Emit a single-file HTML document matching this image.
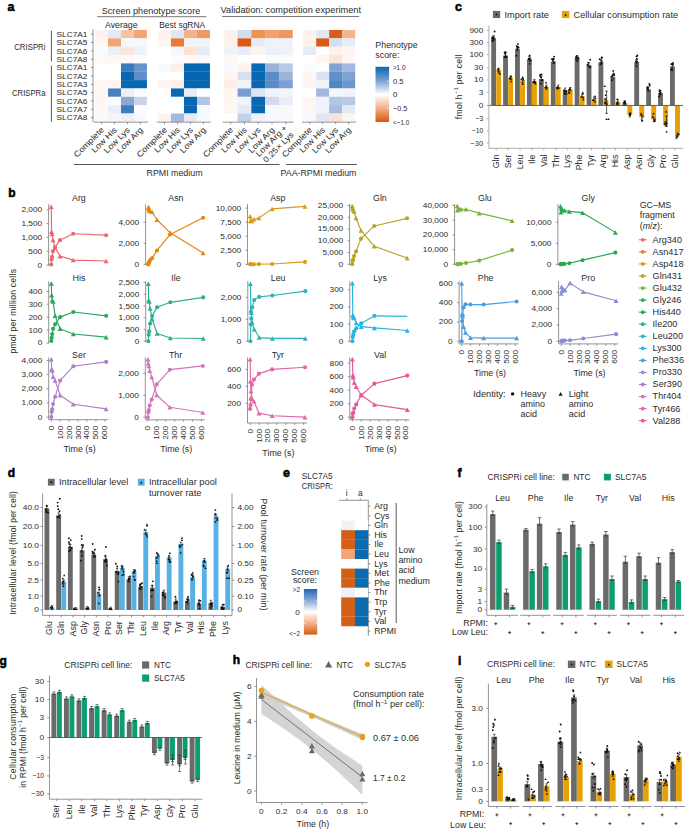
<!DOCTYPE html>
<html><head><meta charset="utf-8"><style>
html,body{margin:0;padding:0;background:#fff;}
svg{display:block;font-family:"Liberation Sans", sans-serif;}
</style></head><body>
<svg width="685" height="830" viewBox="0 0 685 830" font-family='"Liberation Sans", sans-serif' fill="#2b2b2b">
<rect x="0" y="0" width="685" height="830" fill="#fff"/>
<text x="7.60" y="10.60" font-size="12.5" font-weight="bold" fill="#000" style="stroke:#000;stroke-width:0.55px">a</text>
<text x="151.00" y="13.70" font-size="8.6" text-anchor="middle" textLength="98.50" lengthAdjust="spacingAndGlyphs">Screen phenotype score</text>
<line x1="97.30" y1="16.70" x2="206.40" y2="16.70" stroke="#555" stroke-width="0.8" />
<text x="290.80" y="13.30" font-size="8.6" text-anchor="middle" textLength="140.50" lengthAdjust="spacingAndGlyphs">Validation: competition experiment</text>
<line x1="222.20" y1="16.50" x2="359.10" y2="16.50" stroke="#555" stroke-width="0.8" />
<text x="121.30" y="28.10" font-size="8.6" text-anchor="middle" textLength="32.50" lengthAdjust="spacingAndGlyphs">Average</text>
<text x="182.20" y="28.10" font-size="8.6" text-anchor="middle" textLength="46.00" lengthAdjust="spacingAndGlyphs">Best sgRNA</text>
<rect x="95.10" y="30.00" width="13.00" height="8.40" fill="#fdf3ee" />
<rect x="108.05" y="30.00" width="13.00" height="8.40" fill="#e3e9f5" />
<rect x="121.00" y="30.00" width="13.00" height="8.40" fill="#f8c4a4" />
<rect x="133.95" y="30.00" width="13.00" height="8.40" fill="#f2a678" />
<rect x="95.10" y="38.35" width="13.00" height="8.40" fill="#fdf6f1" />
<rect x="108.05" y="38.35" width="13.00" height="8.40" fill="#f1a676" />
<rect x="121.00" y="38.35" width="13.00" height="8.40" fill="#f6f8fc" />
<rect x="133.95" y="38.35" width="13.00" height="8.40" fill="#f6f8fc" />
<rect x="95.10" y="46.70" width="13.00" height="8.40" fill="#fafbfd" />
<rect x="108.05" y="46.70" width="13.00" height="8.40" fill="#eaeff8" />
<rect x="121.00" y="46.70" width="13.00" height="8.40" fill="#fce6db" />
<rect x="133.95" y="46.70" width="13.00" height="8.40" fill="#eef2f9" />
<rect x="95.10" y="55.05" width="13.00" height="8.40" fill="#fdf9f7" />
<rect x="108.05" y="55.05" width="13.00" height="8.40" fill="#fdf8f5" />
<rect x="121.00" y="55.05" width="13.00" height="8.40" fill="#fdfaf8" />
<rect x="133.95" y="55.05" width="13.00" height="8.40" fill="#fdfcfc" />
<rect x="95.10" y="63.40" width="13.00" height="8.40" fill="#ffffff" />
<rect x="108.05" y="63.40" width="13.00" height="8.40" fill="#ffffff" />
<rect x="121.00" y="63.40" width="13.00" height="8.40" fill="#3a7bbf" />
<rect x="133.95" y="63.40" width="13.00" height="8.40" fill="#6693cc" />
<rect x="95.10" y="71.75" width="13.00" height="8.40" fill="#ffffff" />
<rect x="108.05" y="71.75" width="13.00" height="8.40" fill="#ffffff" />
<rect x="121.00" y="71.75" width="13.00" height="8.40" fill="#0a68b2" />
<rect x="133.95" y="71.75" width="13.00" height="8.40" fill="#5e8fca" />
<rect x="95.10" y="80.10" width="13.00" height="8.40" fill="#fdf8f5" />
<rect x="108.05" y="80.10" width="13.00" height="8.40" fill="#fdf6f1" />
<rect x="121.00" y="80.10" width="13.00" height="8.40" fill="#0868b1" />
<rect x="133.95" y="80.10" width="13.00" height="8.40" fill="#0868b1" />
<rect x="95.10" y="88.45" width="13.00" height="8.40" fill="#fdf6f2" />
<rect x="108.05" y="88.45" width="13.00" height="8.40" fill="#4a80c2" />
<rect x="121.00" y="88.45" width="13.00" height="8.40" fill="#eef0f7" />
<rect x="133.95" y="88.45" width="13.00" height="8.40" fill="#fcfcfe" />
<rect x="95.10" y="96.80" width="13.00" height="8.40" fill="#fdf6f2" />
<rect x="108.05" y="96.80" width="13.00" height="8.40" fill="#fafbfd" />
<rect x="121.00" y="96.80" width="13.00" height="8.40" fill="#8aaad6" />
<rect x="133.95" y="96.80" width="13.00" height="8.40" fill="#c8d4ea" />
<rect x="95.10" y="105.15" width="13.00" height="8.40" fill="#fdf8f5" />
<rect x="108.05" y="105.15" width="13.00" height="8.40" fill="#e9eef8" />
<rect x="121.00" y="105.15" width="13.00" height="8.40" fill="#3f7cbf" />
<rect x="133.95" y="105.15" width="13.00" height="8.40" fill="#fcfcfe" />
<rect x="95.10" y="113.50" width="13.00" height="8.40" fill="#fdf9f7" />
<rect x="108.05" y="113.50" width="13.00" height="8.40" fill="#f3f5fb" />
<rect x="121.00" y="113.50" width="13.00" height="8.40" fill="#eff2f9" />
<rect x="133.95" y="113.50" width="13.00" height="8.40" fill="#f8f9fc" />
<line x1="93.90" y1="122.15" x2="147.90" y2="122.15" stroke="#707070" stroke-width="0.75" />
<line x1="101.57" y1="122.15" x2="101.57" y2="124.15" stroke="#707070" stroke-width="0.75" />
<text font-size="8.2" text-anchor="end" textLength="38.96" lengthAdjust="spacingAndGlyphs" transform="translate(104.57,130.45) rotate(-45)">Complete</text>
<line x1="114.52" y1="122.15" x2="114.52" y2="124.15" stroke="#707070" stroke-width="0.75" />
<text font-size="8.2" text-anchor="end" textLength="32.37" lengthAdjust="spacingAndGlyphs" transform="translate(117.52,130.45) rotate(-45)">Low His</text>
<line x1="127.47" y1="122.15" x2="127.47" y2="124.15" stroke="#707070" stroke-width="0.75" />
<text font-size="8.2" text-anchor="end" textLength="33.05" lengthAdjust="spacingAndGlyphs" transform="translate(130.47,130.45) rotate(-45)">Low Lys</text>
<line x1="140.42" y1="122.15" x2="140.42" y2="124.15" stroke="#707070" stroke-width="0.75" />
<text font-size="8.2" text-anchor="end" textLength="32.89" lengthAdjust="spacingAndGlyphs" transform="translate(143.42,130.45) rotate(-45)">Low Arg</text>
<rect x="158.00" y="30.00" width="13.03" height="8.40" fill="#fdf3ee" />
<rect x="170.98" y="30.00" width="13.03" height="8.40" fill="#e0e6f3" />
<rect x="183.96" y="30.00" width="13.03" height="8.40" fill="#f5b28a" />
<rect x="196.94" y="30.00" width="13.03" height="8.40" fill="#f09a63" />
<rect x="158.00" y="38.35" width="13.03" height="8.40" fill="#fdf5f0" />
<rect x="170.98" y="38.35" width="13.03" height="8.40" fill="#e67a36" />
<rect x="183.96" y="38.35" width="13.03" height="8.40" fill="#f3f5fb" />
<rect x="196.94" y="38.35" width="13.03" height="8.40" fill="#f3f5fb" />
<rect x="158.00" y="46.70" width="13.03" height="8.40" fill="#ffffff" />
<rect x="170.98" y="46.70" width="13.03" height="8.40" fill="#f5f7fb" />
<rect x="183.96" y="46.70" width="13.03" height="8.40" fill="#fbe3d5" />
<rect x="196.94" y="46.70" width="13.03" height="8.40" fill="#e6ecf6" />
<rect x="158.00" y="55.05" width="13.03" height="8.40" fill="#ffffff" />
<rect x="170.98" y="55.05" width="13.03" height="8.40" fill="#fcfcfe" />
<rect x="183.96" y="55.05" width="13.03" height="8.40" fill="#fdfaf8" />
<rect x="196.94" y="55.05" width="13.03" height="8.40" fill="#f6f8fc" />
<rect x="158.00" y="63.40" width="13.03" height="8.40" fill="#f6f8fc" />
<rect x="170.98" y="63.40" width="13.03" height="8.40" fill="#fcefe8" />
<rect x="183.96" y="63.40" width="13.03" height="8.40" fill="#0667b0" />
<rect x="196.94" y="63.40" width="13.03" height="8.40" fill="#0667b0" />
<rect x="158.00" y="71.75" width="13.03" height="8.40" fill="#ffffff" />
<rect x="170.98" y="71.75" width="13.03" height="8.40" fill="#ffffff" />
<rect x="183.96" y="71.75" width="13.03" height="8.40" fill="#0667b0" />
<rect x="196.94" y="71.75" width="13.03" height="8.40" fill="#0667b0" />
<rect x="158.00" y="80.10" width="13.03" height="8.40" fill="#fdf4ef" />
<rect x="170.98" y="80.10" width="13.03" height="8.40" fill="#fcf0e8" />
<rect x="183.96" y="80.10" width="13.03" height="8.40" fill="#0667b0" />
<rect x="196.94" y="80.10" width="13.03" height="8.40" fill="#0667b0" />
<rect x="158.00" y="88.45" width="13.03" height="8.40" fill="#ffffff" />
<rect x="170.98" y="88.45" width="13.03" height="8.40" fill="#0868b1" />
<rect x="183.96" y="88.45" width="13.03" height="8.40" fill="#e8ecf6" />
<rect x="196.94" y="88.45" width="13.03" height="8.40" fill="#ffffff" />
<rect x="158.00" y="96.80" width="13.03" height="8.40" fill="#ffffff" />
<rect x="170.98" y="96.80" width="13.03" height="8.40" fill="#ffffff" />
<rect x="183.96" y="96.80" width="13.03" height="8.40" fill="#0667b0" />
<rect x="196.94" y="96.80" width="13.03" height="8.40" fill="#b2c6e4" />
<rect x="158.00" y="105.15" width="13.03" height="8.40" fill="#ffffff" />
<rect x="170.98" y="105.15" width="13.03" height="8.40" fill="#ffffff" />
<rect x="183.96" y="105.15" width="13.03" height="8.40" fill="#0667b0" />
<rect x="196.94" y="105.15" width="13.03" height="8.40" fill="#f8f9fc" />
<rect x="158.00" y="113.50" width="13.03" height="8.40" fill="#fdf3ee" />
<rect x="170.98" y="113.50" width="13.03" height="8.40" fill="#a2b8de" />
<rect x="183.96" y="113.50" width="13.03" height="8.40" fill="#e6ebf6" />
<rect x="196.94" y="113.50" width="13.03" height="8.40" fill="#f8f9fc" />
<line x1="156.80" y1="122.15" x2="210.92" y2="122.15" stroke="#707070" stroke-width="0.75" />
<line x1="164.49" y1="122.15" x2="164.49" y2="124.15" stroke="#707070" stroke-width="0.75" />
<text font-size="8.2" text-anchor="end" textLength="38.96" lengthAdjust="spacingAndGlyphs" transform="translate(167.49,130.45) rotate(-45)">Complete</text>
<line x1="177.47" y1="122.15" x2="177.47" y2="124.15" stroke="#707070" stroke-width="0.75" />
<text font-size="8.2" text-anchor="end" textLength="32.37" lengthAdjust="spacingAndGlyphs" transform="translate(180.47,130.45) rotate(-45)">Low His</text>
<line x1="190.45" y1="122.15" x2="190.45" y2="124.15" stroke="#707070" stroke-width="0.75" />
<text font-size="8.2" text-anchor="end" textLength="33.05" lengthAdjust="spacingAndGlyphs" transform="translate(193.45,130.45) rotate(-45)">Low Lys</text>
<line x1="203.43" y1="122.15" x2="203.43" y2="124.15" stroke="#707070" stroke-width="0.75" />
<text font-size="8.2" text-anchor="end" textLength="32.89" lengthAdjust="spacingAndGlyphs" transform="translate(206.43,130.45) rotate(-45)">Low Arg</text>
<rect x="223.80" y="30.00" width="13.83" height="8.40" fill="#fdf1ea" />
<rect x="237.58" y="30.00" width="13.83" height="8.40" fill="#d0dcef" />
<rect x="251.36" y="30.00" width="13.83" height="8.40" fill="#ef9150" />
<rect x="265.14" y="30.00" width="13.83" height="8.40" fill="#f1a270" />
<rect x="278.92" y="30.00" width="13.83" height="8.40" fill="#f09560" />
<rect x="223.80" y="38.35" width="13.83" height="8.40" fill="#fdf1ea" />
<rect x="237.58" y="38.35" width="13.83" height="8.40" fill="#d95a17" />
<rect x="251.36" y="38.35" width="13.83" height="8.40" fill="#e6ecf6" />
<rect x="265.14" y="38.35" width="13.83" height="8.40" fill="#eef2f9" />
<rect x="278.92" y="38.35" width="13.83" height="8.40" fill="#eef2f9" />
<rect x="223.80" y="46.70" width="13.83" height="8.40" fill="#f0f4fa" />
<rect x="237.58" y="46.70" width="13.83" height="8.40" fill="#e8eef8" />
<rect x="251.36" y="46.70" width="13.83" height="8.40" fill="#fef5f0" />
<rect x="265.14" y="46.70" width="13.83" height="8.40" fill="#ecf0f8" />
<rect x="278.92" y="46.70" width="13.83" height="8.40" fill="#eef2f9" />
<rect x="223.80" y="55.05" width="13.83" height="8.40" fill="#fef8f5" />
<rect x="237.58" y="55.05" width="13.83" height="8.40" fill="#ffffff" />
<rect x="251.36" y="55.05" width="13.83" height="8.40" fill="#ffffff" />
<rect x="265.14" y="55.05" width="13.83" height="8.40" fill="#fafbfd" />
<rect x="278.92" y="55.05" width="13.83" height="8.40" fill="#fafbfd" />
<rect x="223.80" y="63.40" width="13.83" height="8.40" fill="#f7f9fc" />
<rect x="237.58" y="63.40" width="13.83" height="8.40" fill="#fef3ed" />
<rect x="251.36" y="63.40" width="13.83" height="8.40" fill="#0868b1" />
<rect x="265.14" y="63.40" width="13.83" height="8.40" fill="#9ab2da" />
<rect x="278.92" y="63.40" width="13.83" height="8.40" fill="#b8c9e6" />
<rect x="223.80" y="71.75" width="13.83" height="8.40" fill="#fef5f0" />
<rect x="237.58" y="71.75" width="13.83" height="8.40" fill="#d6e0f1" />
<rect x="251.36" y="71.75" width="13.83" height="8.40" fill="#0868b1" />
<rect x="265.14" y="71.75" width="13.83" height="8.40" fill="#5a8dc8" />
<rect x="278.92" y="71.75" width="13.83" height="8.40" fill="#9cb3da" />
<rect x="223.80" y="80.10" width="13.83" height="8.40" fill="#fdede5" />
<rect x="237.58" y="80.10" width="13.83" height="8.40" fill="#f0f4fa" />
<rect x="251.36" y="80.10" width="13.83" height="8.40" fill="#0868b1" />
<rect x="265.14" y="80.10" width="13.83" height="8.40" fill="#5a8dc8" />
<rect x="278.92" y="80.10" width="13.83" height="8.40" fill="#7a9fd0" />
<rect x="223.80" y="88.45" width="13.83" height="8.40" fill="#fef6f2" />
<rect x="237.58" y="88.45" width="13.83" height="8.40" fill="#779ed0" />
<rect x="251.36" y="88.45" width="13.83" height="8.40" fill="#dde5f3" />
<rect x="265.14" y="88.45" width="13.83" height="8.40" fill="#eff2f9" />
<rect x="278.92" y="88.45" width="13.83" height="8.40" fill="#f3f5fb" />
<rect x="223.80" y="96.80" width="13.83" height="8.40" fill="#fef6f2" />
<rect x="237.58" y="96.80" width="13.83" height="8.40" fill="#f0f4fa" />
<rect x="251.36" y="96.80" width="13.83" height="8.40" fill="#0868b1" />
<rect x="265.14" y="96.80" width="13.83" height="8.40" fill="#d0dbee" />
<rect x="278.92" y="96.80" width="13.83" height="8.40" fill="#e8edf6" />
<rect x="223.80" y="105.15" width="13.83" height="8.40" fill="#fef6f2" />
<rect x="237.58" y="105.15" width="13.83" height="8.40" fill="#e3e9f5" />
<rect x="251.36" y="105.15" width="13.83" height="8.40" fill="#0868b1" />
<rect x="265.14" y="105.15" width="13.83" height="8.40" fill="#f8f9fc" />
<rect x="278.92" y="105.15" width="13.83" height="8.40" fill="#f8f9fc" />
<rect x="223.80" y="113.50" width="13.83" height="8.40" fill="#ffffff" />
<rect x="237.58" y="113.50" width="13.83" height="8.40" fill="#c3d0ea" />
<rect x="251.36" y="113.50" width="13.83" height="8.40" fill="#f0f4fa" />
<rect x="265.14" y="113.50" width="13.83" height="8.40" fill="#f8f9fc" />
<rect x="278.92" y="113.50" width="13.83" height="8.40" fill="#f8f9fc" />
<line x1="222.60" y1="122.15" x2="293.70" y2="122.15" stroke="#707070" stroke-width="0.75" />
<line x1="230.69" y1="122.15" x2="230.69" y2="124.15" stroke="#707070" stroke-width="0.75" />
<text font-size="8.2" text-anchor="end" textLength="38.96" lengthAdjust="spacingAndGlyphs" transform="translate(233.69,130.45) rotate(-45)">Complete</text>
<line x1="244.47" y1="122.15" x2="244.47" y2="124.15" stroke="#707070" stroke-width="0.75" />
<text font-size="8.2" text-anchor="end" textLength="32.37" lengthAdjust="spacingAndGlyphs" transform="translate(247.47,130.45) rotate(-45)">Low His</text>
<line x1="258.25" y1="122.15" x2="258.25" y2="124.15" stroke="#707070" stroke-width="0.75" />
<text font-size="8.2" text-anchor="end" textLength="33.05" lengthAdjust="spacingAndGlyphs" transform="translate(261.25,130.45) rotate(-45)">Low Lys</text>
<line x1="272.03" y1="122.15" x2="272.03" y2="124.15" stroke="#707070" stroke-width="0.75" />
<text font-size="8.2" text-anchor="end" textLength="32.89" lengthAdjust="spacingAndGlyphs" transform="translate(275.03,130.45) rotate(-45)">Low Arg</text>
<line x1="285.81" y1="122.15" x2="285.81" y2="124.15" stroke="#707070" stroke-width="0.75" />
<text font-size="8.2" text-anchor="end" textLength="40.73" lengthAdjust="spacingAndGlyphs" transform="translate(287.81,128.45) rotate(-45)">Low Arg +</text>
<text font-size="8.2" text-anchor="end" textLength="39.39" lengthAdjust="spacingAndGlyphs" transform="translate(294.21,135.25) rotate(-45)">0.25× Lys</text>
<rect x="303.20" y="30.00" width="13.03" height="8.40" fill="#fdf1ea" />
<rect x="316.18" y="30.00" width="13.03" height="8.40" fill="#dfe6f4" />
<rect x="329.16" y="30.00" width="13.03" height="8.40" fill="#d85c1a" />
<rect x="342.14" y="30.00" width="13.03" height="8.40" fill="#f5b48c" />
<rect x="303.20" y="38.35" width="13.03" height="8.40" fill="#fdf1ea" />
<rect x="316.18" y="38.35" width="13.03" height="8.40" fill="#d75a18" />
<rect x="329.16" y="38.35" width="13.03" height="8.40" fill="#d5dff0" />
<rect x="342.14" y="38.35" width="13.03" height="8.40" fill="#e7edf7" />
<rect x="303.20" y="46.70" width="13.03" height="8.40" fill="#e6ecf7" />
<rect x="316.18" y="46.70" width="13.03" height="8.40" fill="#ffffff" />
<rect x="329.16" y="46.70" width="13.03" height="8.40" fill="#fdf1eb" />
<rect x="342.14" y="46.70" width="13.03" height="8.40" fill="#fef5f1" />
<rect x="303.20" y="55.05" width="13.03" height="8.40" fill="#ffffff" />
<rect x="316.18" y="55.05" width="13.03" height="8.40" fill="#fef6f2" />
<rect x="329.16" y="55.05" width="13.03" height="8.40" fill="#fce5d9" />
<rect x="342.14" y="55.05" width="13.03" height="8.40" fill="#fef6f2" />
<rect x="303.20" y="63.40" width="13.03" height="8.40" fill="#fafbfd" />
<rect x="316.18" y="63.40" width="13.03" height="8.40" fill="#ffffff" />
<rect x="329.16" y="63.40" width="13.03" height="8.40" fill="#80a3d3" />
<rect x="342.14" y="63.40" width="13.03" height="8.40" fill="#a2b9dd" />
<rect x="303.20" y="71.75" width="13.03" height="8.40" fill="#fef6f2" />
<rect x="316.18" y="71.75" width="13.03" height="8.40" fill="#dbe3f2" />
<rect x="329.16" y="71.75" width="13.03" height="8.40" fill="#5f90ca" />
<rect x="342.14" y="71.75" width="13.03" height="8.40" fill="#7ea2d2" />
<rect x="303.20" y="80.10" width="13.03" height="8.40" fill="#fef6f2" />
<rect x="316.18" y="80.10" width="13.03" height="8.40" fill="#f0f3fa" />
<rect x="329.16" y="80.10" width="13.03" height="8.40" fill="#4f87c5" />
<rect x="342.14" y="80.10" width="13.03" height="8.40" fill="#6b97cd" />
<rect x="303.20" y="88.45" width="13.03" height="8.40" fill="#ffffff" />
<rect x="316.18" y="88.45" width="13.03" height="8.40" fill="#a0b8dd" />
<rect x="329.16" y="88.45" width="13.03" height="8.40" fill="#f4f6fb" />
<rect x="342.14" y="88.45" width="13.03" height="8.40" fill="#f0f3f9" />
<rect x="303.20" y="96.80" width="13.03" height="8.40" fill="#fef6f2" />
<rect x="316.18" y="96.80" width="13.03" height="8.40" fill="#f0f3fa" />
<rect x="329.16" y="96.80" width="13.03" height="8.40" fill="#b1c5e4" />
<rect x="342.14" y="96.80" width="13.03" height="8.40" fill="#b8c9e6" />
<rect x="303.20" y="105.15" width="13.03" height="8.40" fill="#fef6f2" />
<rect x="316.18" y="105.15" width="13.03" height="8.40" fill="#f0f3fa" />
<rect x="329.16" y="105.15" width="13.03" height="8.40" fill="#a7bcdf" />
<rect x="342.14" y="105.15" width="13.03" height="8.40" fill="#e3e9f5" />
<rect x="303.20" y="113.50" width="13.03" height="8.40" fill="#f7f9fc" />
<rect x="316.18" y="113.50" width="13.03" height="8.40" fill="#dfe6f4" />
<rect x="329.16" y="113.50" width="13.03" height="8.40" fill="#fce2d5" />
<rect x="342.14" y="113.50" width="13.03" height="8.40" fill="#fef6f2" />
<line x1="302.00" y1="122.15" x2="356.12" y2="122.15" stroke="#707070" stroke-width="0.75" />
<line x1="309.69" y1="122.15" x2="309.69" y2="124.15" stroke="#707070" stroke-width="0.75" />
<text font-size="8.2" text-anchor="end" textLength="38.96" lengthAdjust="spacingAndGlyphs" transform="translate(312.69,130.45) rotate(-45)">Complete</text>
<line x1="322.67" y1="122.15" x2="322.67" y2="124.15" stroke="#707070" stroke-width="0.75" />
<text font-size="8.2" text-anchor="end" textLength="32.37" lengthAdjust="spacingAndGlyphs" transform="translate(325.67,130.45) rotate(-45)">Low His</text>
<line x1="335.65" y1="122.15" x2="335.65" y2="124.15" stroke="#707070" stroke-width="0.75" />
<text font-size="8.2" text-anchor="end" textLength="33.05" lengthAdjust="spacingAndGlyphs" transform="translate(338.65,130.45) rotate(-45)">Low Lys</text>
<line x1="348.63" y1="122.15" x2="348.63" y2="124.15" stroke="#707070" stroke-width="0.75" />
<text font-size="8.2" text-anchor="end" textLength="32.89" lengthAdjust="spacingAndGlyphs" transform="translate(351.63,130.45) rotate(-45)">Low Arg</text>
<line x1="93.00" y1="29.20" x2="93.00" y2="122.15" stroke="#707070" stroke-width="0.75" />
<line x1="90.80" y1="34.17" x2="93.00" y2="34.17" stroke="#707070" stroke-width="0.75" />
<text x="87.40" y="36.97" font-size="7.9" text-anchor="end" textLength="30.80" lengthAdjust="spacingAndGlyphs">SLC7A1</text>
<line x1="90.80" y1="42.52" x2="93.00" y2="42.52" stroke="#707070" stroke-width="0.75" />
<text x="87.40" y="45.32" font-size="7.9" text-anchor="end" textLength="30.80" lengthAdjust="spacingAndGlyphs">SLC7A5</text>
<line x1="90.80" y1="50.88" x2="93.00" y2="50.88" stroke="#707070" stroke-width="0.75" />
<text x="87.40" y="53.67" font-size="7.9" text-anchor="end" textLength="30.80" lengthAdjust="spacingAndGlyphs">SLC7A6</text>
<line x1="90.80" y1="59.22" x2="93.00" y2="59.22" stroke="#707070" stroke-width="0.75" />
<text x="87.40" y="62.02" font-size="7.9" text-anchor="end" textLength="30.80" lengthAdjust="spacingAndGlyphs">SLC7A8</text>
<line x1="90.80" y1="67.57" x2="93.00" y2="67.57" stroke="#707070" stroke-width="0.75" />
<text x="87.40" y="70.37" font-size="7.9" text-anchor="end" textLength="30.80" lengthAdjust="spacingAndGlyphs">SLC7A1</text>
<line x1="90.80" y1="75.92" x2="93.00" y2="75.92" stroke="#707070" stroke-width="0.75" />
<text x="87.40" y="78.72" font-size="7.9" text-anchor="end" textLength="30.80" lengthAdjust="spacingAndGlyphs">SLC7A2</text>
<line x1="90.80" y1="84.28" x2="93.00" y2="84.28" stroke="#707070" stroke-width="0.75" />
<text x="87.40" y="87.08" font-size="7.9" text-anchor="end" textLength="30.80" lengthAdjust="spacingAndGlyphs">SLC7A3</text>
<line x1="90.80" y1="92.62" x2="93.00" y2="92.62" stroke="#707070" stroke-width="0.75" />
<text x="87.40" y="95.42" font-size="7.9" text-anchor="end" textLength="30.80" lengthAdjust="spacingAndGlyphs">SLC7A5</text>
<line x1="90.80" y1="100.97" x2="93.00" y2="100.97" stroke="#707070" stroke-width="0.75" />
<text x="87.40" y="103.77" font-size="7.9" text-anchor="end" textLength="30.80" lengthAdjust="spacingAndGlyphs">SLC7A6</text>
<line x1="90.80" y1="109.33" x2="93.00" y2="109.33" stroke="#707070" stroke-width="0.75" />
<text x="87.40" y="112.12" font-size="7.9" text-anchor="end" textLength="30.80" lengthAdjust="spacingAndGlyphs">SLC7A7</text>
<line x1="90.80" y1="117.67" x2="93.00" y2="117.67" stroke="#707070" stroke-width="0.75" />
<text x="87.40" y="120.47" font-size="7.9" text-anchor="end" textLength="30.80" lengthAdjust="spacingAndGlyphs">SLC7A8</text>
<line x1="51.40" y1="30.80" x2="51.40" y2="61.50" stroke="#444" stroke-width="0.9" />
<line x1="51.40" y1="65.60" x2="51.40" y2="121.60" stroke="#444" stroke-width="0.9" />
<text x="45.50" y="50.00" font-size="8.5" text-anchor="end" textLength="31.30" lengthAdjust="spacingAndGlyphs">CRISPRi</text>
<text x="45.50" y="95.70" font-size="8.5" text-anchor="end" textLength="33.50" lengthAdjust="spacingAndGlyphs">CRISPRa</text>
<line x1="74.00" y1="164.50" x2="279.60" y2="164.50" stroke="#444" stroke-width="0.9" />
<line x1="286.20" y1="164.50" x2="356.90" y2="164.50" stroke="#444" stroke-width="0.9" />
<text x="174.50" y="175.60" font-size="8.5" text-anchor="middle" textLength="56.00" lengthAdjust="spacingAndGlyphs">RPMI medium</text>
<text x="356.50" y="175.60" font-size="8.5" text-anchor="end" textLength="75.98" lengthAdjust="spacingAndGlyphs">PAA-RPMI medium</text>
<defs><linearGradient id="cb" x1="0" y1="0" x2="0" y2="1"><stop offset="0" stop-color="#0a66b0"/><stop offset="0.25" stop-color="#7a9fd2"/><stop offset="0.5" stop-color="#ffffff"/><stop offset="0.75" stop-color="#f3b08a"/><stop offset="1" stop-color="#d8570f"/></linearGradient></defs>
<rect x="375.50" y="66.80" width="13.60" height="55.20" fill="url(#cb)" />
<line x1="386.60" y1="81.20" x2="389.10" y2="81.20" stroke="#ffffff" stroke-width="0.7" opacity="0.8"/>
<line x1="386.60" y1="94.90" x2="389.10" y2="94.90" stroke="#ffffff" stroke-width="0.7" opacity="0.8"/>
<line x1="386.60" y1="108.50" x2="389.10" y2="108.50" stroke="#ffffff" stroke-width="0.7" opacity="0.8"/>
<text x="375.30" y="47.80" font-size="8.6" textLength="42.36" lengthAdjust="spacingAndGlyphs">Phenotype</text>
<text x="375.30" y="58.00" font-size="8.6" textLength="24.12" lengthAdjust="spacingAndGlyphs">score:</text>
<text x="392.90" y="70.10" font-size="7.4" textLength="12.60" lengthAdjust="spacingAndGlyphs">&gt;1.0</text>
<text x="392.90" y="83.70" font-size="7.4" textLength="10.60" lengthAdjust="spacingAndGlyphs">0.5</text>
<text x="392.90" y="97.40" font-size="7.4" textLength="4.40" lengthAdjust="spacingAndGlyphs">0</text>
<text x="392.90" y="111.00" font-size="7.4" textLength="14.40" lengthAdjust="spacingAndGlyphs">−0.5</text>
<text x="392.90" y="124.60" font-size="7.4" textLength="16.40" lengthAdjust="spacingAndGlyphs">&lt;−1.0</text>
<text x="8.20" y="197.40" font-size="12" font-weight="bold" fill="#000" style="stroke:#000;stroke-width:0.55px">b</text>
<text x="78.90" y="200.80" font-size="8.5" text-anchor="middle" textLength="13.76" lengthAdjust="spacingAndGlyphs">Arg</text>
<line x1="48.60" y1="204.00" x2="48.60" y2="265.70" stroke="#707070" stroke-width="0.75" />
<line x1="46.60" y1="265.10" x2="48.60" y2="265.10" stroke="#707070" stroke-width="0.75" />
<text x="42.20" y="267.55" font-size="7.4" text-anchor="end" textLength="4.61" lengthAdjust="spacingAndGlyphs">0</text>
<line x1="46.60" y1="251.25" x2="48.60" y2="251.25" stroke="#707070" stroke-width="0.75" />
<text x="42.20" y="253.70" font-size="7.4" text-anchor="end" textLength="13.83" lengthAdjust="spacingAndGlyphs">500</text>
<line x1="46.60" y1="237.40" x2="48.60" y2="237.40" stroke="#707070" stroke-width="0.75" />
<text x="42.20" y="239.85" font-size="7.4" text-anchor="end" textLength="20.74" lengthAdjust="spacingAndGlyphs">1,000</text>
<line x1="46.60" y1="223.55" x2="48.60" y2="223.55" stroke="#707070" stroke-width="0.75" />
<text x="42.20" y="226.00" font-size="7.4" text-anchor="end" textLength="20.74" lengthAdjust="spacingAndGlyphs">1,500</text>
<line x1="46.60" y1="209.70" x2="48.60" y2="209.70" stroke="#707070" stroke-width="0.75" />
<text x="42.20" y="212.15" font-size="7.4" text-anchor="end" textLength="20.74" lengthAdjust="spacingAndGlyphs">2,000</text>
<polyline points="51.20,206.68 51.60,231.86 52.10,233.99 53.00,239.98 55.00,247.65 60.00,256.13 73.20,260.11 106.10,261.00" fill="none" stroke="#e9686e" stroke-width="1.15" stroke-linejoin="round" />
<polyline points="51.20,264.55 51.60,259.56 52.10,256.79 53.00,251.25 55.00,247.37 60.00,240.17 73.20,233.80 106.10,235.18" fill="none" stroke="#e9686e" stroke-width="1.15" stroke-linejoin="round" />
<path d="M48.70,208.93 L53.70,208.93 L51.20,204.43 Z" fill="#e9686e"/>
<path d="M49.10,234.11 L54.10,234.11 L51.60,229.61 Z" fill="#e9686e"/>
<path d="M49.60,236.24 L54.60,236.24 L52.10,231.74 Z" fill="#e9686e"/>
<path d="M50.50,242.23 L55.50,242.23 L53.00,237.73 Z" fill="#e9686e"/>
<path d="M52.50,249.90 L57.50,249.90 L55.00,245.40 Z" fill="#e9686e"/>
<path d="M57.50,258.38 L62.50,258.38 L60.00,253.88 Z" fill="#e9686e"/>
<path d="M70.70,262.36 L75.70,262.36 L73.20,257.86 Z" fill="#e9686e"/>
<path d="M103.60,263.25 L108.60,263.25 L106.10,258.75 Z" fill="#e9686e"/>
<circle cx="51.20" cy="264.55" r="2.05" fill="#e9686e"/>
<circle cx="51.60" cy="259.56" r="2.05" fill="#e9686e"/>
<circle cx="52.10" cy="256.79" r="2.05" fill="#e9686e"/>
<circle cx="53.00" cy="251.25" r="2.05" fill="#e9686e"/>
<circle cx="55.00" cy="247.37" r="2.05" fill="#e9686e"/>
<circle cx="60.00" cy="240.17" r="2.05" fill="#e9686e"/>
<circle cx="73.20" cy="233.80" r="2.05" fill="#e9686e"/>
<circle cx="106.10" cy="235.18" r="2.05" fill="#e9686e"/>
<text x="175.90" y="200.80" font-size="8.5" text-anchor="middle" textLength="15.23" lengthAdjust="spacingAndGlyphs">Asn</text>
<line x1="145.60" y1="204.00" x2="145.60" y2="265.00" stroke="#707070" stroke-width="0.75" />
<line x1="143.60" y1="264.40" x2="145.60" y2="264.40" stroke="#707070" stroke-width="0.75" />
<text x="139.20" y="266.85" font-size="7.4" text-anchor="end" textLength="4.61" lengthAdjust="spacingAndGlyphs">0</text>
<line x1="143.60" y1="243.30" x2="145.60" y2="243.30" stroke="#707070" stroke-width="0.75" />
<text x="139.20" y="245.75" font-size="7.4" text-anchor="end" textLength="20.74" lengthAdjust="spacingAndGlyphs">2,000</text>
<line x1="143.60" y1="222.20" x2="145.60" y2="222.20" stroke="#707070" stroke-width="0.75" />
<text x="139.20" y="224.65" font-size="7.4" text-anchor="end" textLength="20.74" lengthAdjust="spacingAndGlyphs">4,000</text>
<polyline points="148.20,208.48 148.60,207.11 149.10,210.59 150.00,211.02 152.00,211.76 157.00,219.77 170.20,232.86 203.10,253.11" fill="none" stroke="#e8830f" stroke-width="1.15" stroke-linejoin="round" />
<polyline points="148.20,264.40 148.60,263.34 149.10,262.29 150.00,260.18 152.00,258.18 157.00,250.47 170.20,234.44 203.10,217.77" fill="none" stroke="#e8830f" stroke-width="1.15" stroke-linejoin="round" />
<path d="M145.70,210.73 L150.70,210.73 L148.20,206.23 Z" fill="#e8830f"/>
<path d="M146.10,209.36 L151.10,209.36 L148.60,204.86 Z" fill="#e8830f"/>
<path d="M146.60,212.84 L151.60,212.84 L149.10,208.34 Z" fill="#e8830f"/>
<path d="M147.50,213.27 L152.50,213.27 L150.00,208.77 Z" fill="#e8830f"/>
<path d="M149.50,214.01 L154.50,214.01 L152.00,209.51 Z" fill="#e8830f"/>
<path d="M154.50,222.02 L159.50,222.02 L157.00,217.52 Z" fill="#e8830f"/>
<path d="M167.70,235.11 L172.70,235.11 L170.20,230.61 Z" fill="#e8830f"/>
<path d="M200.60,255.36 L205.60,255.36 L203.10,250.86 Z" fill="#e8830f"/>
<circle cx="148.20" cy="264.40" r="2.05" fill="#e8830f"/>
<circle cx="148.60" cy="263.34" r="2.05" fill="#e8830f"/>
<circle cx="149.10" cy="262.29" r="2.05" fill="#e8830f"/>
<circle cx="150.00" cy="260.18" r="2.05" fill="#e8830f"/>
<circle cx="152.00" cy="258.18" r="2.05" fill="#e8830f"/>
<circle cx="157.00" cy="250.47" r="2.05" fill="#e8830f"/>
<circle cx="170.20" cy="234.44" r="2.05" fill="#e8830f"/>
<circle cx="203.10" cy="217.77" r="2.05" fill="#e8830f"/>
<text x="277.80" y="200.80" font-size="8.5" text-anchor="middle" textLength="15.23" lengthAdjust="spacingAndGlyphs">Asp</text>
<line x1="247.50" y1="204.00" x2="247.50" y2="264.90" stroke="#707070" stroke-width="0.75" />
<line x1="245.50" y1="264.30" x2="247.50" y2="264.30" stroke="#707070" stroke-width="0.75" />
<text x="241.10" y="266.75" font-size="7.4" text-anchor="end" textLength="4.61" lengthAdjust="spacingAndGlyphs">0</text>
<line x1="245.50" y1="250.25" x2="247.50" y2="250.25" stroke="#707070" stroke-width="0.75" />
<text x="241.10" y="252.70" font-size="7.4" text-anchor="end" textLength="20.74" lengthAdjust="spacingAndGlyphs">2,500</text>
<line x1="245.50" y1="236.20" x2="247.50" y2="236.20" stroke="#707070" stroke-width="0.75" />
<text x="241.10" y="238.65" font-size="7.4" text-anchor="end" textLength="20.74" lengthAdjust="spacingAndGlyphs">5,000</text>
<line x1="245.50" y1="222.15" x2="247.50" y2="222.15" stroke="#707070" stroke-width="0.75" />
<text x="241.10" y="224.60" font-size="7.4" text-anchor="end" textLength="20.74" lengthAdjust="spacingAndGlyphs">7,500</text>
<line x1="245.50" y1="208.10" x2="247.50" y2="208.10" stroke="#707070" stroke-width="0.75" />
<text x="241.10" y="210.55" font-size="7.4" text-anchor="end" textLength="25.35" lengthAdjust="spacingAndGlyphs">10,000</text>
<polyline points="250.10,216.31 250.50,221.03 251.00,220.46 251.90,221.03 253.90,219.34 258.90,217.94 272.10,208.89 305.00,206.41" fill="none" stroke="#d99b18" stroke-width="1.15" stroke-linejoin="round" />
<polyline points="250.10,264.30 250.50,264.30 251.00,264.30 251.90,264.30 253.90,264.19 258.90,264.13 272.10,263.96 305.00,261.88" fill="none" stroke="#d99b18" stroke-width="1.15" stroke-linejoin="round" />
<path d="M247.60,218.56 L252.60,218.56 L250.10,214.06 Z" fill="#d99b18"/>
<path d="M248.00,223.28 L253.00,223.28 L250.50,218.78 Z" fill="#d99b18"/>
<path d="M248.50,222.71 L253.50,222.71 L251.00,218.21 Z" fill="#d99b18"/>
<path d="M249.40,223.28 L254.40,223.28 L251.90,218.78 Z" fill="#d99b18"/>
<path d="M251.40,221.59 L256.40,221.59 L253.90,217.09 Z" fill="#d99b18"/>
<path d="M256.40,220.19 L261.40,220.19 L258.90,215.69 Z" fill="#d99b18"/>
<path d="M269.60,211.14 L274.60,211.14 L272.10,206.64 Z" fill="#d99b18"/>
<path d="M302.50,208.66 L307.50,208.66 L305.00,204.16 Z" fill="#d99b18"/>
<circle cx="250.10" cy="264.30" r="2.05" fill="#d99b18"/>
<circle cx="250.50" cy="264.30" r="2.05" fill="#d99b18"/>
<circle cx="251.00" cy="264.30" r="2.05" fill="#d99b18"/>
<circle cx="251.90" cy="264.30" r="2.05" fill="#d99b18"/>
<circle cx="253.90" cy="264.19" r="2.05" fill="#d99b18"/>
<circle cx="258.90" cy="264.13" r="2.05" fill="#d99b18"/>
<circle cx="272.10" cy="263.96" r="2.05" fill="#d99b18"/>
<circle cx="305.00" cy="261.88" r="2.05" fill="#d99b18"/>
<text x="379.90" y="200.80" font-size="8.5" text-anchor="middle" textLength="13.76" lengthAdjust="spacingAndGlyphs">Gln</text>
<line x1="349.60" y1="204.00" x2="349.60" y2="264.90" stroke="#707070" stroke-width="0.75" />
<line x1="347.60" y1="264.30" x2="349.60" y2="264.30" stroke="#707070" stroke-width="0.75" />
<text x="343.20" y="266.75" font-size="7.4" text-anchor="end" textLength="4.61" lengthAdjust="spacingAndGlyphs">0</text>
<line x1="347.60" y1="252.54" x2="349.60" y2="252.54" stroke="#707070" stroke-width="0.75" />
<text x="343.20" y="254.99" font-size="7.4" text-anchor="end" textLength="20.74" lengthAdjust="spacingAndGlyphs">5,000</text>
<line x1="347.60" y1="240.78" x2="349.60" y2="240.78" stroke="#707070" stroke-width="0.75" />
<text x="343.20" y="243.23" font-size="7.4" text-anchor="end" textLength="25.35" lengthAdjust="spacingAndGlyphs">10,000</text>
<line x1="347.60" y1="229.02" x2="349.60" y2="229.02" stroke="#707070" stroke-width="0.75" />
<text x="343.20" y="231.47" font-size="7.4" text-anchor="end" textLength="25.35" lengthAdjust="spacingAndGlyphs">15,000</text>
<line x1="347.60" y1="217.26" x2="349.60" y2="217.26" stroke="#707070" stroke-width="0.75" />
<text x="343.20" y="219.71" font-size="7.4" text-anchor="end" textLength="25.35" lengthAdjust="spacingAndGlyphs">20,000</text>
<line x1="347.60" y1="205.50" x2="349.60" y2="205.50" stroke="#707070" stroke-width="0.75" />
<text x="343.20" y="207.95" font-size="7.4" text-anchor="end" textLength="25.35" lengthAdjust="spacingAndGlyphs">25,000</text>
<polyline points="352.20,205.97 352.60,208.09 353.10,209.50 354.00,211.62 356.00,218.08 361.00,230.43 374.20,246.31 407.10,258.07" fill="none" stroke="#b3a622" stroke-width="1.15" stroke-linejoin="round" />
<polyline points="352.20,264.30 352.60,261.01 353.10,259.60 354.00,256.07 356.00,251.48 361.00,238.66 374.20,225.96 407.10,218.32" fill="none" stroke="#b3a622" stroke-width="1.15" stroke-linejoin="round" />
<path d="M349.70,208.22 L354.70,208.22 L352.20,203.72 Z" fill="#b3a622"/>
<path d="M350.10,210.34 L355.10,210.34 L352.60,205.84 Z" fill="#b3a622"/>
<path d="M350.60,211.75 L355.60,211.75 L353.10,207.25 Z" fill="#b3a622"/>
<path d="M351.50,213.87 L356.50,213.87 L354.00,209.37 Z" fill="#b3a622"/>
<path d="M353.50,220.33 L358.50,220.33 L356.00,215.83 Z" fill="#b3a622"/>
<path d="M358.50,232.68 L363.50,232.68 L361.00,228.18 Z" fill="#b3a622"/>
<path d="M371.70,248.56 L376.70,248.56 L374.20,244.06 Z" fill="#b3a622"/>
<path d="M404.60,260.32 L409.60,260.32 L407.10,255.82 Z" fill="#b3a622"/>
<circle cx="352.20" cy="264.30" r="2.05" fill="#b3a622"/>
<circle cx="352.60" cy="261.01" r="2.05" fill="#b3a622"/>
<circle cx="353.10" cy="259.60" r="2.05" fill="#b3a622"/>
<circle cx="354.00" cy="256.07" r="2.05" fill="#b3a622"/>
<circle cx="356.00" cy="251.48" r="2.05" fill="#b3a622"/>
<circle cx="361.00" cy="238.66" r="2.05" fill="#b3a622"/>
<circle cx="374.20" cy="225.96" r="2.05" fill="#b3a622"/>
<circle cx="407.10" cy="218.32" r="2.05" fill="#b3a622"/>
<text x="484.90" y="200.80" font-size="8.5" text-anchor="middle" textLength="13.76" lengthAdjust="spacingAndGlyphs">Glu</text>
<line x1="454.60" y1="204.00" x2="454.60" y2="264.90" stroke="#707070" stroke-width="0.75" />
<line x1="452.60" y1="264.30" x2="454.60" y2="264.30" stroke="#707070" stroke-width="0.75" />
<text x="448.20" y="266.75" font-size="7.4" text-anchor="end" textLength="4.61" lengthAdjust="spacingAndGlyphs">0</text>
<line x1="452.60" y1="249.60" x2="454.60" y2="249.60" stroke="#707070" stroke-width="0.75" />
<text x="448.20" y="252.05" font-size="7.4" text-anchor="end" textLength="25.35" lengthAdjust="spacingAndGlyphs">10,000</text>
<line x1="452.60" y1="234.90" x2="454.60" y2="234.90" stroke="#707070" stroke-width="0.75" />
<text x="448.20" y="237.35" font-size="7.4" text-anchor="end" textLength="25.35" lengthAdjust="spacingAndGlyphs">20,000</text>
<line x1="452.60" y1="220.20" x2="454.60" y2="220.20" stroke="#707070" stroke-width="0.75" />
<text x="448.20" y="222.65" font-size="7.4" text-anchor="end" textLength="25.35" lengthAdjust="spacingAndGlyphs">30,000</text>
<line x1="452.60" y1="205.50" x2="454.60" y2="205.50" stroke="#707070" stroke-width="0.75" />
<text x="448.20" y="207.95" font-size="7.4" text-anchor="end" textLength="25.35" lengthAdjust="spacingAndGlyphs">40,000</text>
<polyline points="457.20,205.94 457.60,210.35 458.10,208.88 459.00,208.88 461.00,209.18 466.00,209.32 479.20,213.14 512.10,220.79" fill="none" stroke="#7cb33a" stroke-width="1.15" stroke-linejoin="round" />
<polyline points="457.20,264.30 457.60,264.15 458.10,264.01 459.00,263.86 461.00,263.71 466.00,262.98 479.20,260.62 512.10,250.11" fill="none" stroke="#7cb33a" stroke-width="1.15" stroke-linejoin="round" />
<path d="M454.70,208.19 L459.70,208.19 L457.20,203.69 Z" fill="#7cb33a"/>
<path d="M455.10,212.60 L460.10,212.60 L457.60,208.10 Z" fill="#7cb33a"/>
<path d="M455.60,211.13 L460.60,211.13 L458.10,206.63 Z" fill="#7cb33a"/>
<path d="M456.50,211.13 L461.50,211.13 L459.00,206.63 Z" fill="#7cb33a"/>
<path d="M458.50,211.43 L463.50,211.43 L461.00,206.93 Z" fill="#7cb33a"/>
<path d="M463.50,211.57 L468.50,211.57 L466.00,207.07 Z" fill="#7cb33a"/>
<path d="M476.70,215.39 L481.70,215.39 L479.20,210.89 Z" fill="#7cb33a"/>
<path d="M509.60,223.04 L514.60,223.04 L512.10,218.54 Z" fill="#7cb33a"/>
<circle cx="457.20" cy="264.30" r="2.05" fill="#7cb33a"/>
<circle cx="457.60" cy="264.15" r="2.05" fill="#7cb33a"/>
<circle cx="458.10" cy="264.01" r="2.05" fill="#7cb33a"/>
<circle cx="459.00" cy="263.86" r="2.05" fill="#7cb33a"/>
<circle cx="461.00" cy="263.71" r="2.05" fill="#7cb33a"/>
<circle cx="466.00" cy="262.98" r="2.05" fill="#7cb33a"/>
<circle cx="479.20" cy="260.62" r="2.05" fill="#7cb33a"/>
<circle cx="512.10" cy="250.11" r="2.05" fill="#7cb33a"/>
<text x="588.20" y="200.80" font-size="8.5" text-anchor="middle" textLength="13.26" lengthAdjust="spacingAndGlyphs">Gly</text>
<line x1="557.90" y1="204.00" x2="557.90" y2="264.90" stroke="#707070" stroke-width="0.75" />
<line x1="555.90" y1="264.30" x2="557.90" y2="264.30" stroke="#707070" stroke-width="0.75" />
<text x="551.50" y="266.75" font-size="7.4" text-anchor="end" textLength="4.61" lengthAdjust="spacingAndGlyphs">0</text>
<line x1="555.90" y1="243.30" x2="557.90" y2="243.30" stroke="#707070" stroke-width="0.75" />
<text x="551.50" y="245.75" font-size="7.4" text-anchor="end" textLength="20.74" lengthAdjust="spacingAndGlyphs">5,000</text>
<line x1="555.90" y1="222.30" x2="557.90" y2="222.30" stroke="#707070" stroke-width="0.75" />
<text x="551.50" y="224.75" font-size="7.4" text-anchor="end" textLength="25.35" lengthAdjust="spacingAndGlyphs">10,000</text>
<polyline points="560.50,206.13 560.90,212.22 561.40,208.44 562.30,209.70 564.30,210.54 569.30,211.38 582.50,212.64 615.40,232.38" fill="none" stroke="#2aa84a" stroke-width="1.15" stroke-linejoin="round" />
<polyline points="560.50,264.30 560.90,264.30 561.40,264.09 562.30,263.96 564.30,263.88 569.30,263.25 582.50,260.18 615.40,252.62" fill="none" stroke="#2aa84a" stroke-width="1.15" stroke-linejoin="round" />
<path d="M558.00,208.38 L563.00,208.38 L560.50,203.88 Z" fill="#2aa84a"/>
<path d="M558.40,214.47 L563.40,214.47 L560.90,209.97 Z" fill="#2aa84a"/>
<path d="M558.90,210.69 L563.90,210.69 L561.40,206.19 Z" fill="#2aa84a"/>
<path d="M559.80,211.95 L564.80,211.95 L562.30,207.45 Z" fill="#2aa84a"/>
<path d="M561.80,212.79 L566.80,212.79 L564.30,208.29 Z" fill="#2aa84a"/>
<path d="M566.80,213.63 L571.80,213.63 L569.30,209.13 Z" fill="#2aa84a"/>
<path d="M580.00,214.89 L585.00,214.89 L582.50,210.39 Z" fill="#2aa84a"/>
<path d="M612.90,234.63 L617.90,234.63 L615.40,230.13 Z" fill="#2aa84a"/>
<circle cx="560.50" cy="264.30" r="2.05" fill="#2aa84a"/>
<circle cx="560.90" cy="264.30" r="2.05" fill="#2aa84a"/>
<circle cx="561.40" cy="264.09" r="2.05" fill="#2aa84a"/>
<circle cx="562.30" cy="263.96" r="2.05" fill="#2aa84a"/>
<circle cx="564.30" cy="263.88" r="2.05" fill="#2aa84a"/>
<circle cx="569.30" cy="263.25" r="2.05" fill="#2aa84a"/>
<circle cx="582.50" cy="260.18" r="2.05" fill="#2aa84a"/>
<circle cx="615.40" cy="252.62" r="2.05" fill="#2aa84a"/>
<text x="79.00" y="281.10" font-size="8.5" text-anchor="middle" textLength="12.77" lengthAdjust="spacingAndGlyphs">His</text>
<line x1="48.70" y1="281.10" x2="48.70" y2="343.60" stroke="#707070" stroke-width="0.75" />
<line x1="46.70" y1="343.00" x2="48.70" y2="343.00" stroke="#707070" stroke-width="0.75" />
<text x="42.30" y="345.45" font-size="7.4" text-anchor="end" textLength="4.61" lengthAdjust="spacingAndGlyphs">0</text>
<line x1="46.70" y1="330.07" x2="48.70" y2="330.07" stroke="#707070" stroke-width="0.75" />
<text x="42.30" y="332.52" font-size="7.4" text-anchor="end" textLength="13.83" lengthAdjust="spacingAndGlyphs">100</text>
<line x1="46.70" y1="317.14" x2="48.70" y2="317.14" stroke="#707070" stroke-width="0.75" />
<text x="42.30" y="319.59" font-size="7.4" text-anchor="end" textLength="13.83" lengthAdjust="spacingAndGlyphs">200</text>
<line x1="46.70" y1="304.21" x2="48.70" y2="304.21" stroke="#707070" stroke-width="0.75" />
<text x="42.30" y="306.66" font-size="7.4" text-anchor="end" textLength="13.83" lengthAdjust="spacingAndGlyphs">300</text>
<line x1="46.70" y1="291.28" x2="48.70" y2="291.28" stroke="#707070" stroke-width="0.75" />
<text x="42.30" y="293.73" font-size="7.4" text-anchor="end" textLength="13.83" lengthAdjust="spacingAndGlyphs">400</text>
<polyline points="51.30,283.52 51.70,295.16 52.20,300.33 53.10,301.62 55.10,315.85 60.10,328.78 73.30,333.95 106.20,337.18" fill="none" stroke="#2aa65e" stroke-width="1.15" stroke-linejoin="round" />
<polyline points="51.30,341.06 51.70,337.83 52.20,333.95 53.10,328.78 55.10,324.25 60.10,317.14 73.30,311.97 106.20,315.85" fill="none" stroke="#2aa65e" stroke-width="1.15" stroke-linejoin="round" />
<path d="M48.80,285.77 L53.80,285.77 L51.30,281.27 Z" fill="#2aa65e"/>
<path d="M49.20,297.41 L54.20,297.41 L51.70,292.91 Z" fill="#2aa65e"/>
<path d="M49.70,302.58 L54.70,302.58 L52.20,298.08 Z" fill="#2aa65e"/>
<path d="M50.60,303.87 L55.60,303.87 L53.10,299.37 Z" fill="#2aa65e"/>
<path d="M52.60,318.10 L57.60,318.10 L55.10,313.60 Z" fill="#2aa65e"/>
<path d="M57.60,331.03 L62.60,331.03 L60.10,326.53 Z" fill="#2aa65e"/>
<path d="M70.80,336.20 L75.80,336.20 L73.30,331.70 Z" fill="#2aa65e"/>
<path d="M103.70,339.43 L108.70,339.43 L106.20,334.93 Z" fill="#2aa65e"/>
<circle cx="51.30" cy="341.06" r="2.05" fill="#2aa65e"/>
<circle cx="51.70" cy="337.83" r="2.05" fill="#2aa65e"/>
<circle cx="52.20" cy="333.95" r="2.05" fill="#2aa65e"/>
<circle cx="53.10" cy="328.78" r="2.05" fill="#2aa65e"/>
<circle cx="55.10" cy="324.25" r="2.05" fill="#2aa65e"/>
<circle cx="60.10" cy="317.14" r="2.05" fill="#2aa65e"/>
<circle cx="73.30" cy="311.97" r="2.05" fill="#2aa65e"/>
<circle cx="106.20" cy="315.85" r="2.05" fill="#2aa65e"/>
<text x="176.00" y="281.10" font-size="8.5" text-anchor="middle" textLength="9.34" lengthAdjust="spacingAndGlyphs">Ile</text>
<line x1="145.70" y1="281.10" x2="145.70" y2="341.90" stroke="#707070" stroke-width="0.75" />
<line x1="143.70" y1="341.30" x2="145.70" y2="341.30" stroke="#707070" stroke-width="0.75" />
<text x="139.30" y="343.75" font-size="7.4" text-anchor="end" textLength="4.61" lengthAdjust="spacingAndGlyphs">0</text>
<line x1="143.70" y1="329.56" x2="145.70" y2="329.56" stroke="#707070" stroke-width="0.75" />
<text x="139.30" y="332.01" font-size="7.4" text-anchor="end" textLength="13.83" lengthAdjust="spacingAndGlyphs">500</text>
<line x1="143.70" y1="317.82" x2="145.70" y2="317.82" stroke="#707070" stroke-width="0.75" />
<text x="139.30" y="320.27" font-size="7.4" text-anchor="end" textLength="20.74" lengthAdjust="spacingAndGlyphs">1,000</text>
<line x1="143.70" y1="306.08" x2="145.70" y2="306.08" stroke="#707070" stroke-width="0.75" />
<text x="139.30" y="308.53" font-size="7.4" text-anchor="end" textLength="20.74" lengthAdjust="spacingAndGlyphs">1,500</text>
<line x1="143.70" y1="294.34" x2="145.70" y2="294.34" stroke="#707070" stroke-width="0.75" />
<text x="139.30" y="296.79" font-size="7.4" text-anchor="end" textLength="20.74" lengthAdjust="spacingAndGlyphs">2,000</text>
<line x1="143.70" y1="282.60" x2="145.70" y2="282.60" stroke="#707070" stroke-width="0.75" />
<text x="139.30" y="285.05" font-size="7.4" text-anchor="end" textLength="20.74" lengthAdjust="spacingAndGlyphs">2,500</text>
<polyline points="148.30,283.77 148.70,300.21 149.20,301.38 150.10,308.43 152.10,318.99 157.10,333.55 170.30,338.01 203.20,338.48" fill="none" stroke="#2eae8e" stroke-width="1.15" stroke-linejoin="round" />
<polyline points="148.30,341.30 148.70,334.73 149.20,331.20 150.10,323.46 152.10,315.94 157.10,307.25 170.30,302.32 203.20,297.39" fill="none" stroke="#2eae8e" stroke-width="1.15" stroke-linejoin="round" />
<path d="M145.80,286.02 L150.80,286.02 L148.30,281.52 Z" fill="#2eae8e"/>
<path d="M146.20,302.46 L151.20,302.46 L148.70,297.96 Z" fill="#2eae8e"/>
<path d="M146.70,303.63 L151.70,303.63 L149.20,299.13 Z" fill="#2eae8e"/>
<path d="M147.60,310.68 L152.60,310.68 L150.10,306.18 Z" fill="#2eae8e"/>
<path d="M149.60,321.24 L154.60,321.24 L152.10,316.74 Z" fill="#2eae8e"/>
<path d="M154.60,335.80 L159.60,335.80 L157.10,331.30 Z" fill="#2eae8e"/>
<path d="M167.80,340.26 L172.80,340.26 L170.30,335.76 Z" fill="#2eae8e"/>
<path d="M200.70,340.73 L205.70,340.73 L203.20,336.23 Z" fill="#2eae8e"/>
<circle cx="148.30" cy="341.30" r="2.05" fill="#2eae8e"/>
<circle cx="148.70" cy="334.73" r="2.05" fill="#2eae8e"/>
<circle cx="149.20" cy="331.20" r="2.05" fill="#2eae8e"/>
<circle cx="150.10" cy="323.46" r="2.05" fill="#2eae8e"/>
<circle cx="152.10" cy="315.94" r="2.05" fill="#2eae8e"/>
<circle cx="157.10" cy="307.25" r="2.05" fill="#2eae8e"/>
<circle cx="170.30" cy="302.32" r="2.05" fill="#2eae8e"/>
<circle cx="203.20" cy="297.39" r="2.05" fill="#2eae8e"/>
<text x="278.10" y="281.10" font-size="8.5" text-anchor="middle" textLength="14.75" lengthAdjust="spacingAndGlyphs">Leu</text>
<line x1="247.80" y1="281.10" x2="247.80" y2="341.90" stroke="#707070" stroke-width="0.75" />
<line x1="245.80" y1="341.30" x2="247.80" y2="341.30" stroke="#707070" stroke-width="0.75" />
<text x="241.40" y="343.75" font-size="7.4" text-anchor="end" textLength="4.61" lengthAdjust="spacingAndGlyphs">0</text>
<line x1="245.80" y1="319.30" x2="247.80" y2="319.30" stroke="#707070" stroke-width="0.75" />
<text x="241.40" y="321.75" font-size="7.4" text-anchor="end" textLength="20.74" lengthAdjust="spacingAndGlyphs">1,000</text>
<line x1="245.80" y1="297.30" x2="247.80" y2="297.30" stroke="#707070" stroke-width="0.75" />
<text x="241.40" y="299.75" font-size="7.4" text-anchor="end" textLength="20.74" lengthAdjust="spacingAndGlyphs">2,000</text>
<polyline points="250.40,283.66 250.80,310.50 251.30,312.70 252.20,322.60 254.20,329.20 259.20,337.56 272.40,338.44 305.30,338.44" fill="none" stroke="#2ab3b9" stroke-width="1.15" stroke-linejoin="round" />
<polyline points="250.40,341.30 250.80,324.58 251.30,318.42 252.20,307.20 254.20,299.94 259.20,296.86 272.40,295.54 305.30,291.14" fill="none" stroke="#2ab3b9" stroke-width="1.15" stroke-linejoin="round" />
<path d="M247.90,285.91 L252.90,285.91 L250.40,281.41 Z" fill="#2ab3b9"/>
<path d="M248.30,312.75 L253.30,312.75 L250.80,308.25 Z" fill="#2ab3b9"/>
<path d="M248.80,314.95 L253.80,314.95 L251.30,310.45 Z" fill="#2ab3b9"/>
<path d="M249.70,324.85 L254.70,324.85 L252.20,320.35 Z" fill="#2ab3b9"/>
<path d="M251.70,331.45 L256.70,331.45 L254.20,326.95 Z" fill="#2ab3b9"/>
<path d="M256.70,339.81 L261.70,339.81 L259.20,335.31 Z" fill="#2ab3b9"/>
<path d="M269.90,340.69 L274.90,340.69 L272.40,336.19 Z" fill="#2ab3b9"/>
<path d="M302.80,340.69 L307.80,340.69 L305.30,336.19 Z" fill="#2ab3b9"/>
<circle cx="250.40" cy="341.30" r="2.05" fill="#2ab3b9"/>
<circle cx="250.80" cy="324.58" r="2.05" fill="#2ab3b9"/>
<circle cx="251.30" cy="318.42" r="2.05" fill="#2ab3b9"/>
<circle cx="252.20" cy="307.20" r="2.05" fill="#2ab3b9"/>
<circle cx="254.20" cy="299.94" r="2.05" fill="#2ab3b9"/>
<circle cx="259.20" cy="296.86" r="2.05" fill="#2ab3b9"/>
<circle cx="272.40" cy="295.54" r="2.05" fill="#2ab3b9"/>
<circle cx="305.30" cy="291.14" r="2.05" fill="#2ab3b9"/>
<text x="380.10" y="281.10" font-size="8.5" text-anchor="middle" textLength="13.43" lengthAdjust="spacingAndGlyphs">Lys</text>
<line x1="349.80" y1="281.10" x2="349.80" y2="341.90" stroke="#707070" stroke-width="0.75" />
<line x1="347.80" y1="341.30" x2="349.80" y2="341.30" stroke="#707070" stroke-width="0.75" />
<text x="343.40" y="343.75" font-size="7.4" text-anchor="end" textLength="4.61" lengthAdjust="spacingAndGlyphs">0</text>
<line x1="347.80" y1="324.10" x2="349.80" y2="324.10" stroke="#707070" stroke-width="0.75" />
<text x="343.40" y="326.55" font-size="7.4" text-anchor="end" textLength="13.83" lengthAdjust="spacingAndGlyphs">100</text>
<line x1="347.80" y1="306.90" x2="349.80" y2="306.90" stroke="#707070" stroke-width="0.75" />
<text x="343.40" y="309.35" font-size="7.4" text-anchor="end" textLength="13.83" lengthAdjust="spacingAndGlyphs">200</text>
<line x1="347.80" y1="289.70" x2="349.80" y2="289.70" stroke="#707070" stroke-width="0.75" />
<text x="343.40" y="292.15" font-size="7.4" text-anchor="end" textLength="13.83" lengthAdjust="spacingAndGlyphs">300</text>
<polyline points="352.40,283.16 352.80,315.33 353.30,317.22 354.20,318.08 356.20,322.90 361.20,326.68 374.40,327.88 407.30,330.46" fill="none" stroke="#27b3e6" stroke-width="1.15" stroke-linejoin="round" />
<polyline points="352.40,341.30 352.80,337.00 353.30,334.42 354.20,331.32 356.20,328.40 361.20,323.41 374.40,315.84 407.30,316.36" fill="none" stroke="#27b3e6" stroke-width="1.15" stroke-linejoin="round" />
<path d="M349.90,285.41 L354.90,285.41 L352.40,280.91 Z" fill="#27b3e6"/>
<path d="M350.30,317.58 L355.30,317.58 L352.80,313.08 Z" fill="#27b3e6"/>
<path d="M350.80,319.47 L355.80,319.47 L353.30,314.97 Z" fill="#27b3e6"/>
<path d="M351.70,320.33 L356.70,320.33 L354.20,315.83 Z" fill="#27b3e6"/>
<path d="M353.70,325.15 L358.70,325.15 L356.20,320.65 Z" fill="#27b3e6"/>
<path d="M358.70,328.93 L363.70,328.93 L361.20,324.43 Z" fill="#27b3e6"/>
<path d="M371.90,330.13 L376.90,330.13 L374.40,325.63 Z" fill="#27b3e6"/>
<path d="M404.80,332.71 L409.80,332.71 L407.30,328.21 Z" fill="#27b3e6"/>
<circle cx="352.40" cy="341.30" r="2.05" fill="#27b3e6"/>
<circle cx="352.80" cy="337.00" r="2.05" fill="#27b3e6"/>
<circle cx="353.30" cy="334.42" r="2.05" fill="#27b3e6"/>
<circle cx="354.20" cy="331.32" r="2.05" fill="#27b3e6"/>
<circle cx="356.20" cy="328.40" r="2.05" fill="#27b3e6"/>
<circle cx="361.20" cy="323.41" r="2.05" fill="#27b3e6"/>
<circle cx="374.40" cy="315.84" r="2.05" fill="#27b3e6"/>
<text x="485.60" y="281.10" font-size="8.5" text-anchor="middle" textLength="15.73" lengthAdjust="spacingAndGlyphs">Phe</text>
<line x1="459.10" y1="281.10" x2="459.10" y2="343.90" stroke="#707070" stroke-width="0.75" />
<line x1="457.10" y1="341.30" x2="459.10" y2="341.30" stroke="#707070" stroke-width="0.75" />
<text x="452.70" y="343.75" font-size="7.4" text-anchor="end" textLength="4.61" lengthAdjust="spacingAndGlyphs">0</text>
<line x1="457.10" y1="321.97" x2="459.10" y2="321.97" stroke="#707070" stroke-width="0.75" />
<text x="452.70" y="324.42" font-size="7.4" text-anchor="end" textLength="13.83" lengthAdjust="spacingAndGlyphs">200</text>
<line x1="457.10" y1="302.64" x2="459.10" y2="302.64" stroke="#707070" stroke-width="0.75" />
<text x="452.70" y="305.09" font-size="7.4" text-anchor="end" textLength="13.83" lengthAdjust="spacingAndGlyphs">400</text>
<line x1="457.10" y1="283.31" x2="459.10" y2="283.31" stroke="#707070" stroke-width="0.75" />
<text x="452.70" y="285.76" font-size="7.4" text-anchor="end" textLength="13.83" lengthAdjust="spacingAndGlyphs">600</text>
<line x1="459.10" y1="343.90" x2="518.60" y2="343.90" stroke="#707070" stroke-width="0.75" />
<line x1="461.70" y1="343.90" x2="461.70" y2="345.70" stroke="#707070" stroke-width="0.75" />
<text font-size="7.4" text-anchor="end" textLength="4.61" lengthAdjust="spacingAndGlyphs" transform="translate(464.20,349.90) rotate(-90)">0</text>
<line x1="470.62" y1="343.90" x2="470.62" y2="345.70" stroke="#707070" stroke-width="0.75" />
<text font-size="7.4" text-anchor="end" textLength="13.83" lengthAdjust="spacingAndGlyphs" transform="translate(473.12,349.90) rotate(-90)">100</text>
<line x1="479.54" y1="343.90" x2="479.54" y2="345.70" stroke="#707070" stroke-width="0.75" />
<text font-size="7.4" text-anchor="end" textLength="13.83" lengthAdjust="spacingAndGlyphs" transform="translate(482.04,349.90) rotate(-90)">200</text>
<line x1="488.46" y1="343.90" x2="488.46" y2="345.70" stroke="#707070" stroke-width="0.75" />
<text font-size="7.4" text-anchor="end" textLength="13.83" lengthAdjust="spacingAndGlyphs" transform="translate(490.96,349.90) rotate(-90)">300</text>
<line x1="497.38" y1="343.90" x2="497.38" y2="345.70" stroke="#707070" stroke-width="0.75" />
<text font-size="7.4" text-anchor="end" textLength="13.83" lengthAdjust="spacingAndGlyphs" transform="translate(499.88,349.90) rotate(-90)">400</text>
<line x1="506.30" y1="343.90" x2="506.30" y2="345.70" stroke="#707070" stroke-width="0.75" />
<text font-size="7.4" text-anchor="end" textLength="13.83" lengthAdjust="spacingAndGlyphs" transform="translate(508.80,349.90) rotate(-90)">500</text>
<line x1="515.22" y1="343.90" x2="515.22" y2="345.70" stroke="#707070" stroke-width="0.75" />
<text font-size="7.4" text-anchor="end" textLength="13.83" lengthAdjust="spacingAndGlyphs" transform="translate(517.72,349.90) rotate(-90)">600</text>
<text x="490.00" y="376.40" font-size="8.5" text-anchor="middle" textLength="32.08" lengthAdjust="spacingAndGlyphs">Time (s)</text>
<polyline points="461.70,283.31 462.10,314.24 462.60,316.17 463.50,326.80 465.50,332.60 470.50,337.63 483.70,338.11 516.60,338.11" fill="none" stroke="#4a9ee0" stroke-width="1.15" stroke-linejoin="round" />
<polyline points="461.70,341.30 462.10,321.00 462.60,315.20 463.50,307.47 465.50,304.28 470.50,304.57 483.70,304.57 516.60,301.48" fill="none" stroke="#4a9ee0" stroke-width="1.15" stroke-linejoin="round" />
<path d="M459.20,285.56 L464.20,285.56 L461.70,281.06 Z" fill="#4a9ee0"/>
<path d="M459.60,316.49 L464.60,316.49 L462.10,311.99 Z" fill="#4a9ee0"/>
<path d="M460.10,318.42 L465.10,318.42 L462.60,313.92 Z" fill="#4a9ee0"/>
<path d="M461.00,329.05 L466.00,329.05 L463.50,324.55 Z" fill="#4a9ee0"/>
<path d="M463.00,334.85 L468.00,334.85 L465.50,330.35 Z" fill="#4a9ee0"/>
<path d="M468.00,339.88 L473.00,339.88 L470.50,335.38 Z" fill="#4a9ee0"/>
<path d="M481.20,340.36 L486.20,340.36 L483.70,335.86 Z" fill="#4a9ee0"/>
<path d="M514.10,340.36 L519.10,340.36 L516.60,335.86 Z" fill="#4a9ee0"/>
<circle cx="461.70" cy="341.30" r="2.05" fill="#4a9ee0"/>
<circle cx="462.10" cy="321.00" r="2.05" fill="#4a9ee0"/>
<circle cx="462.60" cy="315.20" r="2.05" fill="#4a9ee0"/>
<circle cx="463.50" cy="307.47" r="2.05" fill="#4a9ee0"/>
<circle cx="465.50" cy="304.28" r="2.05" fill="#4a9ee0"/>
<circle cx="470.50" cy="304.57" r="2.05" fill="#4a9ee0"/>
<circle cx="483.70" cy="304.57" r="2.05" fill="#4a9ee0"/>
<circle cx="516.60" cy="301.48" r="2.05" fill="#4a9ee0"/>
<text x="588.20" y="281.10" font-size="8.5" text-anchor="middle" textLength="13.76" lengthAdjust="spacingAndGlyphs">Pro</text>
<line x1="558.60" y1="281.10" x2="558.60" y2="343.90" stroke="#707070" stroke-width="0.75" />
<line x1="556.60" y1="341.30" x2="558.60" y2="341.30" stroke="#707070" stroke-width="0.75" />
<text x="552.20" y="343.75" font-size="7.4" text-anchor="end" textLength="4.61" lengthAdjust="spacingAndGlyphs">0</text>
<line x1="556.60" y1="325.00" x2="558.60" y2="325.00" stroke="#707070" stroke-width="0.75" />
<text x="552.20" y="327.45" font-size="7.4" text-anchor="end" textLength="20.74" lengthAdjust="spacingAndGlyphs">2,000</text>
<line x1="556.60" y1="308.70" x2="558.60" y2="308.70" stroke="#707070" stroke-width="0.75" />
<text x="552.20" y="311.15" font-size="7.4" text-anchor="end" textLength="20.74" lengthAdjust="spacingAndGlyphs">4,000</text>
<line x1="556.60" y1="292.40" x2="558.60" y2="292.40" stroke="#707070" stroke-width="0.75" />
<text x="552.20" y="294.85" font-size="7.4" text-anchor="end" textLength="20.74" lengthAdjust="spacingAndGlyphs">6,000</text>
<line x1="558.60" y1="343.90" x2="618.10" y2="343.90" stroke="#707070" stroke-width="0.75" />
<line x1="561.20" y1="343.90" x2="561.20" y2="345.70" stroke="#707070" stroke-width="0.75" />
<text font-size="7.4" text-anchor="end" textLength="4.61" lengthAdjust="spacingAndGlyphs" transform="translate(563.70,349.90) rotate(-90)">0</text>
<line x1="570.12" y1="343.90" x2="570.12" y2="345.70" stroke="#707070" stroke-width="0.75" />
<text font-size="7.4" text-anchor="end" textLength="13.83" lengthAdjust="spacingAndGlyphs" transform="translate(572.62,349.90) rotate(-90)">100</text>
<line x1="579.04" y1="343.90" x2="579.04" y2="345.70" stroke="#707070" stroke-width="0.75" />
<text font-size="7.4" text-anchor="end" textLength="13.83" lengthAdjust="spacingAndGlyphs" transform="translate(581.54,349.90) rotate(-90)">200</text>
<line x1="587.96" y1="343.90" x2="587.96" y2="345.70" stroke="#707070" stroke-width="0.75" />
<text font-size="7.4" text-anchor="end" textLength="13.83" lengthAdjust="spacingAndGlyphs" transform="translate(590.46,349.90) rotate(-90)">300</text>
<line x1="596.88" y1="343.90" x2="596.88" y2="345.70" stroke="#707070" stroke-width="0.75" />
<text font-size="7.4" text-anchor="end" textLength="13.83" lengthAdjust="spacingAndGlyphs" transform="translate(599.38,349.90) rotate(-90)">400</text>
<line x1="605.80" y1="343.90" x2="605.80" y2="345.70" stroke="#707070" stroke-width="0.75" />
<text font-size="7.4" text-anchor="end" textLength="13.83" lengthAdjust="spacingAndGlyphs" transform="translate(608.30,349.90) rotate(-90)">500</text>
<line x1="614.72" y1="343.90" x2="614.72" y2="345.70" stroke="#707070" stroke-width="0.75" />
<text font-size="7.4" text-anchor="end" textLength="13.83" lengthAdjust="spacingAndGlyphs" transform="translate(617.22,349.90) rotate(-90)">600</text>
<text x="589.50" y="376.40" font-size="8.5" text-anchor="middle" textLength="32.08" lengthAdjust="spacingAndGlyphs">Time (s)</text>
<polyline points="561.20,293.46 561.60,286.69 562.10,290.77 563.00,289.14 565.00,289.95 570.00,283.11 583.20,291.83 616.10,300.71" fill="none" stroke="#8a8fd2" stroke-width="1.15" stroke-linejoin="round" />
<polyline points="561.20,341.30 561.60,341.14 562.10,340.89 563.00,340.65 565.00,340.49 570.00,340.32 583.20,338.53 616.10,334.13" fill="none" stroke="#8a8fd2" stroke-width="1.15" stroke-linejoin="round" />
<path d="M558.70,295.71 L563.70,295.71 L561.20,291.21 Z" fill="#8a8fd2"/>
<path d="M559.10,288.94 L564.10,288.94 L561.60,284.44 Z" fill="#8a8fd2"/>
<path d="M559.60,293.02 L564.60,293.02 L562.10,288.52 Z" fill="#8a8fd2"/>
<path d="M560.50,291.39 L565.50,291.39 L563.00,286.89 Z" fill="#8a8fd2"/>
<path d="M562.50,292.20 L567.50,292.20 L565.00,287.70 Z" fill="#8a8fd2"/>
<path d="M567.50,285.36 L572.50,285.36 L570.00,280.86 Z" fill="#8a8fd2"/>
<path d="M580.70,294.08 L585.70,294.08 L583.20,289.58 Z" fill="#8a8fd2"/>
<path d="M613.60,302.96 L618.60,302.96 L616.10,298.46 Z" fill="#8a8fd2"/>
<circle cx="561.20" cy="341.30" r="2.05" fill="#8a8fd2"/>
<circle cx="561.60" cy="341.14" r="2.05" fill="#8a8fd2"/>
<circle cx="562.10" cy="340.89" r="2.05" fill="#8a8fd2"/>
<circle cx="563.00" cy="340.65" r="2.05" fill="#8a8fd2"/>
<circle cx="565.00" cy="340.49" r="2.05" fill="#8a8fd2"/>
<circle cx="570.00" cy="340.32" r="2.05" fill="#8a8fd2"/>
<circle cx="583.20" cy="338.53" r="2.05" fill="#8a8fd2"/>
<circle cx="616.10" cy="334.13" r="2.05" fill="#8a8fd2"/>
<text x="79.00" y="357.50" font-size="8.5" text-anchor="middle" textLength="13.76" lengthAdjust="spacingAndGlyphs">Ser</text>
<line x1="48.70" y1="357.40" x2="48.70" y2="419.70" stroke="#707070" stroke-width="0.75" />
<line x1="46.70" y1="417.10" x2="48.70" y2="417.10" stroke="#707070" stroke-width="0.75" />
<text x="42.30" y="419.55" font-size="7.4" text-anchor="end" textLength="4.61" lengthAdjust="spacingAndGlyphs">0</text>
<line x1="46.70" y1="402.95" x2="48.70" y2="402.95" stroke="#707070" stroke-width="0.75" />
<text x="42.30" y="405.40" font-size="7.4" text-anchor="end" textLength="20.74" lengthAdjust="spacingAndGlyphs">1,000</text>
<line x1="46.70" y1="388.80" x2="48.70" y2="388.80" stroke="#707070" stroke-width="0.75" />
<text x="42.30" y="391.25" font-size="7.4" text-anchor="end" textLength="20.74" lengthAdjust="spacingAndGlyphs">2,000</text>
<line x1="46.70" y1="374.65" x2="48.70" y2="374.65" stroke="#707070" stroke-width="0.75" />
<text x="42.30" y="377.10" font-size="7.4" text-anchor="end" textLength="20.74" lengthAdjust="spacingAndGlyphs">3,000</text>
<line x1="46.70" y1="360.50" x2="48.70" y2="360.50" stroke="#707070" stroke-width="0.75" />
<text x="42.30" y="362.95" font-size="7.4" text-anchor="end" textLength="20.74" lengthAdjust="spacingAndGlyphs">4,000</text>
<line x1="48.70" y1="419.70" x2="108.20" y2="419.70" stroke="#707070" stroke-width="0.75" />
<line x1="51.30" y1="419.70" x2="51.30" y2="421.50" stroke="#707070" stroke-width="0.75" />
<text font-size="7.4" text-anchor="end" textLength="4.61" lengthAdjust="spacingAndGlyphs" transform="translate(53.80,425.70) rotate(-90)">0</text>
<line x1="60.22" y1="419.70" x2="60.22" y2="421.50" stroke="#707070" stroke-width="0.75" />
<text font-size="7.4" text-anchor="end" textLength="13.83" lengthAdjust="spacingAndGlyphs" transform="translate(62.72,425.70) rotate(-90)">100</text>
<line x1="69.14" y1="419.70" x2="69.14" y2="421.50" stroke="#707070" stroke-width="0.75" />
<text font-size="7.4" text-anchor="end" textLength="13.83" lengthAdjust="spacingAndGlyphs" transform="translate(71.64,425.70) rotate(-90)">200</text>
<line x1="78.06" y1="419.70" x2="78.06" y2="421.50" stroke="#707070" stroke-width="0.75" />
<text font-size="7.4" text-anchor="end" textLength="13.83" lengthAdjust="spacingAndGlyphs" transform="translate(80.56,425.70) rotate(-90)">300</text>
<line x1="86.98" y1="419.70" x2="86.98" y2="421.50" stroke="#707070" stroke-width="0.75" />
<text font-size="7.4" text-anchor="end" textLength="13.83" lengthAdjust="spacingAndGlyphs" transform="translate(89.48,425.70) rotate(-90)">400</text>
<line x1="95.90" y1="419.70" x2="95.90" y2="421.50" stroke="#707070" stroke-width="0.75" />
<text font-size="7.4" text-anchor="end" textLength="13.83" lengthAdjust="spacingAndGlyphs" transform="translate(98.40,425.70) rotate(-90)">500</text>
<line x1="104.82" y1="419.70" x2="104.82" y2="421.50" stroke="#707070" stroke-width="0.75" />
<text font-size="7.4" text-anchor="end" textLength="13.83" lengthAdjust="spacingAndGlyphs" transform="translate(107.32,425.70) rotate(-90)">600</text>
<text x="79.60" y="452.20" font-size="8.5" text-anchor="middle" textLength="32.08" lengthAdjust="spacingAndGlyphs">Time (s)</text>
<polyline points="51.30,359.30 51.70,368.99 52.20,370.41 53.10,376.77 55.10,380.59 60.10,395.17 73.30,404.29 106.20,408.89" fill="none" stroke="#b07fc8" stroke-width="1.15" stroke-linejoin="round" />
<polyline points="51.30,417.10 51.70,411.86 52.20,409.18 53.10,404.01 55.10,396.87 60.10,380.59 73.30,366.30 106.20,361.92" fill="none" stroke="#b07fc8" stroke-width="1.15" stroke-linejoin="round" />
<path d="M48.80,361.55 L53.80,361.55 L51.30,357.05 Z" fill="#b07fc8"/>
<path d="M49.20,371.24 L54.20,371.24 L51.70,366.74 Z" fill="#b07fc8"/>
<path d="M49.70,372.66 L54.70,372.66 L52.20,368.16 Z" fill="#b07fc8"/>
<path d="M50.60,379.02 L55.60,379.02 L53.10,374.52 Z" fill="#b07fc8"/>
<path d="M52.60,382.84 L57.60,382.84 L55.10,378.34 Z" fill="#b07fc8"/>
<path d="M57.60,397.42 L62.60,397.42 L60.10,392.92 Z" fill="#b07fc8"/>
<path d="M70.80,406.54 L75.80,406.54 L73.30,402.04 Z" fill="#b07fc8"/>
<path d="M103.70,411.14 L108.70,411.14 L106.20,406.64 Z" fill="#b07fc8"/>
<circle cx="51.30" cy="417.10" r="2.05" fill="#b07fc8"/>
<circle cx="51.70" cy="411.86" r="2.05" fill="#b07fc8"/>
<circle cx="52.20" cy="409.18" r="2.05" fill="#b07fc8"/>
<circle cx="53.10" cy="404.01" r="2.05" fill="#b07fc8"/>
<circle cx="55.10" cy="396.87" r="2.05" fill="#b07fc8"/>
<circle cx="60.10" cy="380.59" r="2.05" fill="#b07fc8"/>
<circle cx="73.30" cy="366.30" r="2.05" fill="#b07fc8"/>
<circle cx="106.20" cy="361.92" r="2.05" fill="#b07fc8"/>
<text x="175.60" y="357.50" font-size="8.5" text-anchor="middle" textLength="13.26" lengthAdjust="spacingAndGlyphs">Thr</text>
<line x1="145.30" y1="357.40" x2="145.30" y2="419.80" stroke="#707070" stroke-width="0.75" />
<line x1="143.30" y1="417.20" x2="145.30" y2="417.20" stroke="#707070" stroke-width="0.75" />
<text x="138.90" y="419.65" font-size="7.4" text-anchor="end" textLength="4.61" lengthAdjust="spacingAndGlyphs">0</text>
<line x1="143.30" y1="395.20" x2="145.30" y2="395.20" stroke="#707070" stroke-width="0.75" />
<text x="138.90" y="397.65" font-size="7.4" text-anchor="end" textLength="20.74" lengthAdjust="spacingAndGlyphs">1,000</text>
<line x1="143.30" y1="373.20" x2="145.30" y2="373.20" stroke="#707070" stroke-width="0.75" />
<text x="138.90" y="375.65" font-size="7.4" text-anchor="end" textLength="20.74" lengthAdjust="spacingAndGlyphs">2,000</text>
<line x1="145.30" y1="419.80" x2="204.80" y2="419.80" stroke="#707070" stroke-width="0.75" />
<line x1="147.90" y1="419.80" x2="147.90" y2="421.60" stroke="#707070" stroke-width="0.75" />
<text font-size="7.4" text-anchor="end" textLength="4.61" lengthAdjust="spacingAndGlyphs" transform="translate(150.40,425.80) rotate(-90)">0</text>
<line x1="156.82" y1="419.80" x2="156.82" y2="421.60" stroke="#707070" stroke-width="0.75" />
<text font-size="7.4" text-anchor="end" textLength="13.83" lengthAdjust="spacingAndGlyphs" transform="translate(159.32,425.80) rotate(-90)">100</text>
<line x1="165.74" y1="419.80" x2="165.74" y2="421.60" stroke="#707070" stroke-width="0.75" />
<text font-size="7.4" text-anchor="end" textLength="13.83" lengthAdjust="spacingAndGlyphs" transform="translate(168.24,425.80) rotate(-90)">200</text>
<line x1="174.66" y1="419.80" x2="174.66" y2="421.60" stroke="#707070" stroke-width="0.75" />
<text font-size="7.4" text-anchor="end" textLength="13.83" lengthAdjust="spacingAndGlyphs" transform="translate(177.16,425.80) rotate(-90)">300</text>
<line x1="183.58" y1="419.80" x2="183.58" y2="421.60" stroke="#707070" stroke-width="0.75" />
<text font-size="7.4" text-anchor="end" textLength="13.83" lengthAdjust="spacingAndGlyphs" transform="translate(186.08,425.80) rotate(-90)">400</text>
<line x1="192.50" y1="419.80" x2="192.50" y2="421.60" stroke="#707070" stroke-width="0.75" />
<text font-size="7.4" text-anchor="end" textLength="13.83" lengthAdjust="spacingAndGlyphs" transform="translate(195.00,425.80) rotate(-90)">500</text>
<line x1="201.42" y1="419.80" x2="201.42" y2="421.60" stroke="#707070" stroke-width="0.75" />
<text font-size="7.4" text-anchor="end" textLength="13.83" lengthAdjust="spacingAndGlyphs" transform="translate(203.92,425.80) rotate(-90)">600</text>
<text x="176.20" y="452.30" font-size="8.5" text-anchor="middle" textLength="32.08" lengthAdjust="spacingAndGlyphs">Time (s)</text>
<polyline points="147.90,359.34 148.30,363.30 148.80,365.94 149.70,370.78 151.70,376.94 156.70,394.98 169.90,407.30 202.80,412.47" fill="none" stroke="#cf77b9" stroke-width="1.15" stroke-linejoin="round" />
<polyline points="147.90,417.20 148.30,412.36 148.80,410.16 149.70,405.54 151.70,399.60 156.70,384.42 169.90,369.68 202.80,365.94" fill="none" stroke="#cf77b9" stroke-width="1.15" stroke-linejoin="round" />
<path d="M145.40,361.59 L150.40,361.59 L147.90,357.09 Z" fill="#cf77b9"/>
<path d="M145.80,365.55 L150.80,365.55 L148.30,361.05 Z" fill="#cf77b9"/>
<path d="M146.30,368.19 L151.30,368.19 L148.80,363.69 Z" fill="#cf77b9"/>
<path d="M147.20,373.03 L152.20,373.03 L149.70,368.53 Z" fill="#cf77b9"/>
<path d="M149.20,379.19 L154.20,379.19 L151.70,374.69 Z" fill="#cf77b9"/>
<path d="M154.20,397.23 L159.20,397.23 L156.70,392.73 Z" fill="#cf77b9"/>
<path d="M167.40,409.55 L172.40,409.55 L169.90,405.05 Z" fill="#cf77b9"/>
<path d="M200.30,414.72 L205.30,414.72 L202.80,410.22 Z" fill="#cf77b9"/>
<circle cx="147.90" cy="417.20" r="2.05" fill="#cf77b9"/>
<circle cx="148.30" cy="412.36" r="2.05" fill="#cf77b9"/>
<circle cx="148.80" cy="410.16" r="2.05" fill="#cf77b9"/>
<circle cx="149.70" cy="405.54" r="2.05" fill="#cf77b9"/>
<circle cx="151.70" cy="399.60" r="2.05" fill="#cf77b9"/>
<circle cx="156.70" cy="384.42" r="2.05" fill="#cf77b9"/>
<circle cx="169.90" cy="369.68" r="2.05" fill="#cf77b9"/>
<circle cx="202.80" cy="365.94" r="2.05" fill="#cf77b9"/>
<text x="277.80" y="357.50" font-size="8.5" text-anchor="middle" textLength="12.28" lengthAdjust="spacingAndGlyphs">Tyr</text>
<line x1="247.50" y1="357.40" x2="247.50" y2="423.00" stroke="#707070" stroke-width="0.75" />
<line x1="245.50" y1="403.40" x2="247.50" y2="403.40" stroke="#707070" stroke-width="0.75" />
<text x="241.10" y="405.85" font-size="7.4" text-anchor="end" textLength="13.83" lengthAdjust="spacingAndGlyphs">200</text>
<line x1="245.50" y1="386.40" x2="247.50" y2="386.40" stroke="#707070" stroke-width="0.75" />
<text x="241.10" y="388.85" font-size="7.4" text-anchor="end" textLength="13.83" lengthAdjust="spacingAndGlyphs">400</text>
<line x1="245.50" y1="369.40" x2="247.50" y2="369.40" stroke="#707070" stroke-width="0.75" />
<text x="241.10" y="371.85" font-size="7.4" text-anchor="end" textLength="13.83" lengthAdjust="spacingAndGlyphs">600</text>
<line x1="247.50" y1="423.00" x2="307.00" y2="423.00" stroke="#707070" stroke-width="0.75" />
<line x1="250.10" y1="423.00" x2="250.10" y2="424.80" stroke="#707070" stroke-width="0.75" />
<text font-size="7.4" text-anchor="end" textLength="4.61" lengthAdjust="spacingAndGlyphs" transform="translate(252.60,429.00) rotate(-90)">0</text>
<line x1="259.02" y1="423.00" x2="259.02" y2="424.80" stroke="#707070" stroke-width="0.75" />
<text font-size="7.4" text-anchor="end" textLength="13.83" lengthAdjust="spacingAndGlyphs" transform="translate(261.52,429.00) rotate(-90)">100</text>
<line x1="267.94" y1="423.00" x2="267.94" y2="424.80" stroke="#707070" stroke-width="0.75" />
<text font-size="7.4" text-anchor="end" textLength="13.83" lengthAdjust="spacingAndGlyphs" transform="translate(270.44,429.00) rotate(-90)">200</text>
<line x1="276.86" y1="423.00" x2="276.86" y2="424.80" stroke="#707070" stroke-width="0.75" />
<text font-size="7.4" text-anchor="end" textLength="13.83" lengthAdjust="spacingAndGlyphs" transform="translate(279.36,429.00) rotate(-90)">300</text>
<line x1="285.78" y1="423.00" x2="285.78" y2="424.80" stroke="#707070" stroke-width="0.75" />
<text font-size="7.4" text-anchor="end" textLength="13.83" lengthAdjust="spacingAndGlyphs" transform="translate(288.28,429.00) rotate(-90)">400</text>
<line x1="294.70" y1="423.00" x2="294.70" y2="424.80" stroke="#707070" stroke-width="0.75" />
<text font-size="7.4" text-anchor="end" textLength="13.83" lengthAdjust="spacingAndGlyphs" transform="translate(297.20,429.00) rotate(-90)">500</text>
<line x1="303.62" y1="423.00" x2="303.62" y2="424.80" stroke="#707070" stroke-width="0.75" />
<text font-size="7.4" text-anchor="end" textLength="13.83" lengthAdjust="spacingAndGlyphs" transform="translate(306.12,429.00) rotate(-90)">600</text>
<text x="278.40" y="455.50" font-size="8.5" text-anchor="middle" textLength="32.08" lengthAdjust="spacingAndGlyphs">Time (s)</text>
<polyline points="250.10,359.20 250.50,381.30 251.00,391.07 251.90,398.72 253.90,401.27 258.90,413.17 272.10,415.72 305.00,417.17" fill="none" stroke="#e465a6" stroke-width="1.15" stroke-linejoin="round" />
<polyline points="250.10,408.92 250.50,405.10 251.00,399.15 251.90,384.70 253.90,379.60 258.90,373.65 272.10,369.40 305.00,367.27" fill="none" stroke="#e465a6" stroke-width="1.15" stroke-linejoin="round" />
<path d="M247.60,361.45 L252.60,361.45 L250.10,356.95 Z" fill="#e465a6"/>
<path d="M248.00,383.55 L253.00,383.55 L250.50,379.05 Z" fill="#e465a6"/>
<path d="M248.50,393.32 L253.50,393.32 L251.00,388.82 Z" fill="#e465a6"/>
<path d="M249.40,400.97 L254.40,400.97 L251.90,396.47 Z" fill="#e465a6"/>
<path d="M251.40,403.52 L256.40,403.52 L253.90,399.02 Z" fill="#e465a6"/>
<path d="M256.40,415.42 L261.40,415.42 L258.90,410.92 Z" fill="#e465a6"/>
<path d="M269.60,417.97 L274.60,417.97 L272.10,413.47 Z" fill="#e465a6"/>
<path d="M302.50,419.42 L307.50,419.42 L305.00,414.92 Z" fill="#e465a6"/>
<circle cx="250.10" cy="408.92" r="2.05" fill="#e465a6"/>
<circle cx="250.50" cy="405.10" r="2.05" fill="#e465a6"/>
<circle cx="251.00" cy="399.15" r="2.05" fill="#e465a6"/>
<circle cx="251.90" cy="384.70" r="2.05" fill="#e465a6"/>
<circle cx="253.90" cy="379.60" r="2.05" fill="#e465a6"/>
<circle cx="258.90" cy="373.65" r="2.05" fill="#e465a6"/>
<circle cx="272.10" cy="369.40" r="2.05" fill="#e465a6"/>
<circle cx="305.00" cy="367.27" r="2.05" fill="#e465a6"/>
<text x="380.10" y="357.50" font-size="8.5" text-anchor="middle" textLength="12.12" lengthAdjust="spacingAndGlyphs">Val</text>
<line x1="349.80" y1="357.40" x2="349.80" y2="419.80" stroke="#707070" stroke-width="0.75" />
<line x1="347.80" y1="417.20" x2="349.80" y2="417.20" stroke="#707070" stroke-width="0.75" />
<text x="343.40" y="419.65" font-size="7.4" text-anchor="end" textLength="4.61" lengthAdjust="spacingAndGlyphs">0</text>
<line x1="347.80" y1="403.70" x2="349.80" y2="403.70" stroke="#707070" stroke-width="0.75" />
<text x="343.40" y="406.15" font-size="7.4" text-anchor="end" textLength="13.83" lengthAdjust="spacingAndGlyphs">200</text>
<line x1="347.80" y1="390.20" x2="349.80" y2="390.20" stroke="#707070" stroke-width="0.75" />
<text x="343.40" y="392.65" font-size="7.4" text-anchor="end" textLength="13.83" lengthAdjust="spacingAndGlyphs">400</text>
<line x1="347.80" y1="376.70" x2="349.80" y2="376.70" stroke="#707070" stroke-width="0.75" />
<text x="343.40" y="379.15" font-size="7.4" text-anchor="end" textLength="13.83" lengthAdjust="spacingAndGlyphs">600</text>
<line x1="347.80" y1="363.20" x2="349.80" y2="363.20" stroke="#707070" stroke-width="0.75" />
<text x="343.40" y="365.65" font-size="7.4" text-anchor="end" textLength="13.83" lengthAdjust="spacingAndGlyphs">800</text>
<line x1="349.80" y1="419.80" x2="409.30" y2="419.80" stroke="#707070" stroke-width="0.75" />
<line x1="352.40" y1="419.80" x2="352.40" y2="421.60" stroke="#707070" stroke-width="0.75" />
<text font-size="7.4" text-anchor="end" textLength="4.61" lengthAdjust="spacingAndGlyphs" transform="translate(354.90,425.80) rotate(-90)">0</text>
<line x1="361.32" y1="419.80" x2="361.32" y2="421.60" stroke="#707070" stroke-width="0.75" />
<text font-size="7.4" text-anchor="end" textLength="13.83" lengthAdjust="spacingAndGlyphs" transform="translate(363.82,425.80) rotate(-90)">100</text>
<line x1="370.24" y1="419.80" x2="370.24" y2="421.60" stroke="#707070" stroke-width="0.75" />
<text font-size="7.4" text-anchor="end" textLength="13.83" lengthAdjust="spacingAndGlyphs" transform="translate(372.74,425.80) rotate(-90)">200</text>
<line x1="379.16" y1="419.80" x2="379.16" y2="421.60" stroke="#707070" stroke-width="0.75" />
<text font-size="7.4" text-anchor="end" textLength="13.83" lengthAdjust="spacingAndGlyphs" transform="translate(381.66,425.80) rotate(-90)">300</text>
<line x1="388.08" y1="419.80" x2="388.08" y2="421.60" stroke="#707070" stroke-width="0.75" />
<text font-size="7.4" text-anchor="end" textLength="13.83" lengthAdjust="spacingAndGlyphs" transform="translate(390.58,425.80) rotate(-90)">400</text>
<line x1="397.00" y1="419.80" x2="397.00" y2="421.60" stroke="#707070" stroke-width="0.75" />
<text font-size="7.4" text-anchor="end" textLength="13.83" lengthAdjust="spacingAndGlyphs" transform="translate(399.50,425.80) rotate(-90)">500</text>
<line x1="405.92" y1="419.80" x2="405.92" y2="421.60" stroke="#707070" stroke-width="0.75" />
<text font-size="7.4" text-anchor="end" textLength="13.83" lengthAdjust="spacingAndGlyphs" transform="translate(408.42,425.80) rotate(-90)">600</text>
<text x="380.70" y="452.30" font-size="8.5" text-anchor="middle" textLength="32.08" lengthAdjust="spacingAndGlyphs">Time (s)</text>
<polyline points="352.40,359.15 352.80,375.35 353.30,377.38 354.20,382.44 356.20,386.82 361.20,395.06 374.40,404.58 407.30,409.64" fill="none" stroke="#e85898" stroke-width="1.15" stroke-linejoin="round" />
<polyline points="352.40,417.20 352.80,413.82 353.30,412.47 354.20,408.43 356.20,404.38 361.20,395.26 374.40,383.65 407.30,375.62" fill="none" stroke="#e85898" stroke-width="1.15" stroke-linejoin="round" />
<path d="M349.90,361.40 L354.90,361.40 L352.40,356.90 Z" fill="#e85898"/>
<path d="M350.30,377.60 L355.30,377.60 L352.80,373.10 Z" fill="#e85898"/>
<path d="M350.80,379.62 L355.80,379.62 L353.30,375.12 Z" fill="#e85898"/>
<path d="M351.70,384.69 L356.70,384.69 L354.20,380.19 Z" fill="#e85898"/>
<path d="M353.70,389.07 L358.70,389.07 L356.20,384.57 Z" fill="#e85898"/>
<path d="M358.70,397.31 L363.70,397.31 L361.20,392.81 Z" fill="#e85898"/>
<path d="M371.90,406.83 L376.90,406.83 L374.40,402.33 Z" fill="#e85898"/>
<path d="M404.80,411.89 L409.80,411.89 L407.30,407.39 Z" fill="#e85898"/>
<circle cx="352.40" cy="417.20" r="2.05" fill="#e85898"/>
<circle cx="352.80" cy="413.82" r="2.05" fill="#e85898"/>
<circle cx="353.30" cy="412.47" r="2.05" fill="#e85898"/>
<circle cx="354.20" cy="408.43" r="2.05" fill="#e85898"/>
<circle cx="356.20" cy="404.38" r="2.05" fill="#e85898"/>
<circle cx="361.20" cy="395.26" r="2.05" fill="#e85898"/>
<circle cx="374.40" cy="383.65" r="2.05" fill="#e85898"/>
<circle cx="407.30" cy="375.62" r="2.05" fill="#e85898"/>
<text font-size="8.6" text-anchor="middle" textLength="84.50" lengthAdjust="spacing" transform="translate(15.60,311.30) rotate(-90)">pmol per million cells</text>
<text x="639.70" y="207.90" font-size="8.3" textLength="31.58" lengthAdjust="spacingAndGlyphs">GC–MS</text>
<text x="639.70" y="218.20" font-size="8.3" textLength="35.05" lengthAdjust="spacingAndGlyphs">fragment</text>
<text x="639.70" y="228.50" font-size="8.3" textLength="22.69" lengthAdjust="spacingAndGlyphs">(<tspan font-style="italic">m</tspan>/<tspan font-style="italic">z</tspan>):</text>
<line x1="638.80" y1="239.80" x2="646.80" y2="239.80" stroke="#e9686e" stroke-width="1.0" />
<circle cx="642.80" cy="239.80" r="1.9" fill="#e9686e"/>
<text x="652.60" y="242.70" font-size="8.2" textLength="29.35" lengthAdjust="spacingAndGlyphs">Arg340</text>
<line x1="638.80" y1="251.86" x2="646.80" y2="251.86" stroke="#e8830f" stroke-width="1.0" />
<circle cx="642.80" cy="251.86" r="1.9" fill="#e8830f"/>
<text x="652.60" y="254.76" font-size="8.2" textLength="30.87" lengthAdjust="spacingAndGlyphs">Asn417</text>
<line x1="638.80" y1="263.92" x2="646.80" y2="263.92" stroke="#d99b18" stroke-width="1.0" />
<circle cx="642.80" cy="263.92" r="1.9" fill="#d99b18"/>
<text x="652.60" y="266.82" font-size="8.2" textLength="30.87" lengthAdjust="spacingAndGlyphs">Asp418</text>
<line x1="638.80" y1="275.98" x2="646.80" y2="275.98" stroke="#b3a622" stroke-width="1.0" />
<circle cx="642.80" cy="275.98" r="1.9" fill="#b3a622"/>
<text x="652.60" y="278.88" font-size="8.2" textLength="29.35" lengthAdjust="spacingAndGlyphs">Gln431</text>
<line x1="638.80" y1="288.04" x2="646.80" y2="288.04" stroke="#7cb33a" stroke-width="1.0" />
<circle cx="642.80" cy="288.04" r="1.9" fill="#7cb33a"/>
<text x="652.60" y="290.94" font-size="8.2" textLength="29.35" lengthAdjust="spacingAndGlyphs">Glu432</text>
<line x1="638.80" y1="300.10" x2="646.80" y2="300.10" stroke="#2aa84a" stroke-width="1.0" />
<circle cx="642.80" cy="300.10" r="1.9" fill="#2aa84a"/>
<text x="652.60" y="303.00" font-size="8.2" textLength="28.84" lengthAdjust="spacingAndGlyphs">Gly246</text>
<line x1="638.80" y1="312.16" x2="646.80" y2="312.16" stroke="#2aa65e" stroke-width="1.0" />
<circle cx="642.80" cy="312.16" r="1.9" fill="#2aa65e"/>
<text x="652.60" y="315.06" font-size="8.2" textLength="28.33" lengthAdjust="spacingAndGlyphs">His440</text>
<line x1="638.80" y1="324.22" x2="646.80" y2="324.22" stroke="#2eae8e" stroke-width="1.0" />
<circle cx="642.80" cy="324.22" r="1.9" fill="#2eae8e"/>
<text x="652.60" y="327.12" font-size="8.2" textLength="24.80" lengthAdjust="spacingAndGlyphs">Ile200</text>
<line x1="638.80" y1="336.28" x2="646.80" y2="336.28" stroke="#2ab3b9" stroke-width="1.0" />
<circle cx="642.80" cy="336.28" r="1.9" fill="#2ab3b9"/>
<text x="652.60" y="339.18" font-size="8.2" textLength="30.37" lengthAdjust="spacingAndGlyphs">Leu200</text>
<line x1="638.80" y1="348.34" x2="646.80" y2="348.34" stroke="#27b3e6" stroke-width="1.0" />
<circle cx="642.80" cy="348.34" r="1.9" fill="#27b3e6"/>
<text x="652.60" y="351.24" font-size="8.2" textLength="29.01" lengthAdjust="spacingAndGlyphs">Lys300</text>
<line x1="638.80" y1="360.40" x2="646.80" y2="360.40" stroke="#4a9ee0" stroke-width="1.0" />
<circle cx="642.80" cy="360.40" r="1.9" fill="#4a9ee0"/>
<text x="652.60" y="363.30" font-size="8.2" textLength="31.38" lengthAdjust="spacingAndGlyphs">Phe336</text>
<line x1="638.80" y1="372.46" x2="646.80" y2="372.46" stroke="#8a8fd2" stroke-width="1.0" />
<circle cx="642.80" cy="372.46" r="1.9" fill="#8a8fd2"/>
<text x="652.60" y="375.36" font-size="8.2" textLength="29.35" lengthAdjust="spacingAndGlyphs">Pro330</text>
<line x1="638.80" y1="384.52" x2="646.80" y2="384.52" stroke="#b07fc8" stroke-width="1.0" />
<circle cx="642.80" cy="384.52" r="1.9" fill="#b07fc8"/>
<text x="652.60" y="387.42" font-size="8.2" textLength="29.35" lengthAdjust="spacingAndGlyphs">Ser390</text>
<line x1="638.80" y1="396.58" x2="646.80" y2="396.58" stroke="#cf77b9" stroke-width="1.0" />
<circle cx="642.80" cy="396.58" r="1.9" fill="#cf77b9"/>
<text x="652.60" y="399.48" font-size="8.2" textLength="28.84" lengthAdjust="spacingAndGlyphs">Thr404</text>
<line x1="638.80" y1="408.64" x2="646.80" y2="408.64" stroke="#e465a6" stroke-width="1.0" />
<circle cx="642.80" cy="408.64" r="1.9" fill="#e465a6"/>
<text x="652.60" y="411.54" font-size="8.2" textLength="27.83" lengthAdjust="spacingAndGlyphs">Tyr466</text>
<line x1="638.80" y1="420.70" x2="646.80" y2="420.70" stroke="#e85898" stroke-width="1.0" />
<circle cx="642.80" cy="420.70" r="1.9" fill="#e85898"/>
<text x="652.60" y="423.60" font-size="8.2" textLength="27.67" lengthAdjust="spacingAndGlyphs">Val288</text>
<text x="473.20" y="397.20" font-size="8.4" textLength="32.50" lengthAdjust="spacingAndGlyphs">Identity:</text>
<circle cx="512.60" cy="393.90" r="1.7" fill="#111"/>
<text x="520.60" y="397.40" font-size="8.5" textLength="25.54" lengthAdjust="spacingAndGlyphs">Heavy</text>
<text x="520.60" y="407.40" font-size="8.5" textLength="24.54" lengthAdjust="spacingAndGlyphs">amino</text>
<text x="520.60" y="417.40" font-size="8.5" textLength="16.53" lengthAdjust="spacingAndGlyphs">acid</text>
<path d="M558.60,395.70 L562.60,395.70 L560.60,392.10 Z" fill="#111"/>
<text x="568.80" y="396.60" font-size="8.5" textLength="19.54" lengthAdjust="spacingAndGlyphs">Light</text>
<text x="568.80" y="406.60" font-size="8.5" textLength="24.54" lengthAdjust="spacingAndGlyphs">amino</text>
<text x="568.80" y="416.60" font-size="8.5" textLength="16.53" lengthAdjust="spacingAndGlyphs">acid</text>
<text x="455.00" y="10.70" font-size="12.5" font-weight="bold" fill="#000" style="stroke:#000;stroke-width:0.55px">c</text>
<rect x="492.90" y="10.90" width="7.30" height="7.20" fill="#6a6a6a" />
<circle cx="496.55" cy="14.50" r="0.9" fill="#111"/>
<text x="504.50" y="17.80" font-size="8.5" textLength="44.30" lengthAdjust="spacingAndGlyphs">Import rate</text>
<rect x="561.90" y="10.90" width="7.40" height="7.20" fill="#e8a005" />
<path d="M564.40,15.68 L566.80,15.68 L565.60,13.52 Z" fill="#111"/>
<text x="573.50" y="17.80" font-size="8.5" textLength="104.60" lengthAdjust="spacingAndGlyphs">Cellular consumption rate</text>
<line x1="488.90" y1="25.40" x2="488.90" y2="148.30" stroke="#9a9a9a" stroke-width="0.8" />
<line x1="488.90" y1="148.30" x2="683.20" y2="148.30" stroke="#9a9a9a" stroke-width="0.8" />
<line x1="486.70" y1="30.28" x2="488.90" y2="30.28" stroke="#9a9a9a" stroke-width="0.8" />
<text x="483.30" y="32.73" font-size="7.4" text-anchor="end" textLength="13.83" lengthAdjust="spacingAndGlyphs">900</text>
<line x1="486.70" y1="42.42" x2="488.90" y2="42.42" stroke="#9a9a9a" stroke-width="0.8" />
<text x="483.30" y="44.87" font-size="7.4" text-anchor="end" textLength="13.83" lengthAdjust="spacingAndGlyphs">300</text>
<line x1="486.70" y1="54.56" x2="488.90" y2="54.56" stroke="#9a9a9a" stroke-width="0.8" />
<text x="483.30" y="57.01" font-size="7.4" text-anchor="end" textLength="13.83" lengthAdjust="spacingAndGlyphs">100</text>
<line x1="486.70" y1="67.85" x2="488.90" y2="67.85" stroke="#9a9a9a" stroke-width="0.8" />
<text x="483.30" y="70.30" font-size="7.4" text-anchor="end" textLength="9.22" lengthAdjust="spacingAndGlyphs">30</text>
<line x1="486.70" y1="79.90" x2="488.90" y2="79.90" stroke="#9a9a9a" stroke-width="0.8" />
<text x="483.30" y="82.35" font-size="7.4" text-anchor="end" textLength="9.22" lengthAdjust="spacingAndGlyphs">10</text>
<line x1="486.70" y1="92.25" x2="488.90" y2="92.25" stroke="#9a9a9a" stroke-width="0.8" />
<text x="483.30" y="94.70" font-size="7.4" text-anchor="end" textLength="4.61" lengthAdjust="spacingAndGlyphs">3</text>
<line x1="486.70" y1="105.45" x2="488.90" y2="105.45" stroke="#9a9a9a" stroke-width="0.8" />
<text x="483.30" y="107.90" font-size="7.4" text-anchor="end" textLength="4.61" lengthAdjust="spacingAndGlyphs">0</text>
<line x1="486.70" y1="118.65" x2="488.90" y2="118.65" stroke="#9a9a9a" stroke-width="0.8" />
<text x="483.30" y="121.10" font-size="7.4" text-anchor="end" textLength="7.70" lengthAdjust="spacingAndGlyphs">−3</text>
<line x1="486.70" y1="131.00" x2="488.90" y2="131.00" stroke="#9a9a9a" stroke-width="0.8" />
<text x="483.30" y="133.45" font-size="7.4" text-anchor="end" textLength="11.50" lengthAdjust="spacingAndGlyphs">−10</text>
<line x1="486.70" y1="143.05" x2="488.90" y2="143.05" stroke="#9a9a9a" stroke-width="0.8" />
<text x="483.30" y="145.50" font-size="7.4" text-anchor="end" textLength="13.00" lengthAdjust="spacingAndGlyphs">−30</text>
<rect x="491.20" y="38.10" width="4.85" height="67.35" fill="#6a6a6a" />
<rect x="496.25" y="70.00" width="4.90" height="35.45" fill="#e8a005" />
<line x1="496.20" y1="148.30" x2="496.20" y2="150.30" stroke="#9a9a9a" stroke-width="0.8" />
<text font-size="8.5" text-anchor="end" textLength="13.76" lengthAdjust="spacingAndGlyphs" transform="translate(498.90,154.60) rotate(-90)">Gln</text>
<rect x="503.12" y="55.50" width="4.85" height="49.95" fill="#6a6a6a" />
<rect x="508.17" y="77.80" width="4.90" height="27.65" fill="#e8a005" />
<line x1="508.12" y1="148.30" x2="508.12" y2="150.30" stroke="#9a9a9a" stroke-width="0.8" />
<text font-size="8.5" text-anchor="end" textLength="13.76" lengthAdjust="spacingAndGlyphs" transform="translate(510.82,154.60) rotate(-90)">Ser</text>
<rect x="515.04" y="48.90" width="4.85" height="56.55" fill="#6a6a6a" />
<rect x="520.09" y="80.80" width="4.90" height="24.65" fill="#e8a005" />
<line x1="520.04" y1="148.30" x2="520.04" y2="150.30" stroke="#9a9a9a" stroke-width="0.8" />
<text font-size="8.5" text-anchor="end" textLength="14.75" lengthAdjust="spacingAndGlyphs" transform="translate(522.74,154.60) rotate(-90)">Leu</text>
<rect x="526.96" y="59.20" width="4.85" height="46.25" fill="#6a6a6a" />
<rect x="532.01" y="81.40" width="4.90" height="24.05" fill="#e8a005" />
<line x1="531.96" y1="148.30" x2="531.96" y2="150.30" stroke="#9a9a9a" stroke-width="0.8" />
<text font-size="8.5" text-anchor="end" textLength="9.34" lengthAdjust="spacingAndGlyphs" transform="translate(534.66,154.60) rotate(-90)">Ile</text>
<rect x="538.88" y="79.00" width="4.85" height="26.45" fill="#6a6a6a" />
<rect x="543.93" y="86.90" width="4.90" height="18.55" fill="#e8a005" />
<line x1="543.88" y1="148.30" x2="543.88" y2="150.30" stroke="#9a9a9a" stroke-width="0.8" />
<text font-size="8.5" text-anchor="end" textLength="12.12" lengthAdjust="spacingAndGlyphs" transform="translate(546.58,154.60) rotate(-90)">Val</text>
<rect x="550.80" y="61.60" width="4.85" height="43.85" fill="#6a6a6a" />
<rect x="555.85" y="86.90" width="4.90" height="18.55" fill="#e8a005" />
<line x1="555.80" y1="148.30" x2="555.80" y2="150.30" stroke="#9a9a9a" stroke-width="0.8" />
<text font-size="8.5" text-anchor="end" textLength="13.26" lengthAdjust="spacingAndGlyphs" transform="translate(558.50,154.60) rotate(-90)">Thr</text>
<rect x="562.72" y="90.50" width="4.85" height="14.95" fill="#6a6a6a" />
<rect x="567.77" y="89.30" width="4.90" height="16.15" fill="#e8a005" />
<line x1="567.72" y1="148.30" x2="567.72" y2="150.30" stroke="#9a9a9a" stroke-width="0.8" />
<text font-size="8.5" text-anchor="end" textLength="13.43" lengthAdjust="spacingAndGlyphs" transform="translate(570.42,154.60) rotate(-90)">Lys</text>
<rect x="574.64" y="58.00" width="4.85" height="47.45" fill="#6a6a6a" />
<rect x="579.69" y="95.90" width="4.90" height="9.55" fill="#e8a005" />
<line x1="579.64" y1="148.30" x2="579.64" y2="150.30" stroke="#9a9a9a" stroke-width="0.8" />
<text font-size="8.5" text-anchor="end" textLength="15.73" lengthAdjust="spacingAndGlyphs" transform="translate(582.34,154.60) rotate(-90)">Phe</text>
<rect x="586.56" y="65.20" width="4.85" height="40.25" fill="#6a6a6a" />
<rect x="591.61" y="98.90" width="4.90" height="6.55" fill="#e8a005" />
<line x1="591.56" y1="148.30" x2="591.56" y2="150.30" stroke="#9a9a9a" stroke-width="0.8" />
<text font-size="8.5" text-anchor="end" textLength="12.28" lengthAdjust="spacingAndGlyphs" transform="translate(594.26,154.60) rotate(-90)">Tyr</text>
<rect x="598.48" y="62.20" width="4.85" height="43.25" fill="#6a6a6a" />
<rect x="603.53" y="100.10" width="4.90" height="5.35" fill="#e8a005" />
<line x1="603.48" y1="148.30" x2="603.48" y2="150.30" stroke="#9a9a9a" stroke-width="0.8" />
<text font-size="8.5" text-anchor="end" textLength="13.76" lengthAdjust="spacingAndGlyphs" transform="translate(606.18,154.60) rotate(-90)">Arg</text>
<rect x="610.40" y="77.10" width="4.85" height="28.35" fill="#6a6a6a" />
<rect x="615.45" y="101.70" width="4.90" height="3.75" fill="#e8a005" />
<line x1="615.40" y1="148.30" x2="615.40" y2="150.30" stroke="#9a9a9a" stroke-width="0.8" />
<text font-size="8.5" text-anchor="end" textLength="12.77" lengthAdjust="spacingAndGlyphs" transform="translate(618.10,154.60) rotate(-90)">His</text>
<rect x="622.32" y="103.20" width="4.85" height="2.25" fill="#6a6a6a" />
<rect x="627.37" y="105.45" width="4.90" height="9.35" fill="#e8a005" />
<line x1="627.32" y1="148.30" x2="627.32" y2="150.30" stroke="#9a9a9a" stroke-width="0.8" />
<text font-size="8.5" text-anchor="end" textLength="15.23" lengthAdjust="spacingAndGlyphs" transform="translate(630.02,154.60) rotate(-90)">Asp</text>
<rect x="634.24" y="62.00" width="4.85" height="43.45" fill="#6a6a6a" />
<rect x="639.29" y="105.45" width="4.90" height="11.45" fill="#e8a005" />
<line x1="639.24" y1="148.30" x2="639.24" y2="150.30" stroke="#9a9a9a" stroke-width="0.8" />
<text font-size="8.5" text-anchor="end" textLength="15.23" lengthAdjust="spacingAndGlyphs" transform="translate(641.94,154.60) rotate(-90)">Asn</text>
<rect x="646.16" y="89.40" width="4.85" height="16.05" fill="#6a6a6a" />
<rect x="651.21" y="105.45" width="4.90" height="14.05" fill="#e8a005" />
<line x1="651.16" y1="148.30" x2="651.16" y2="150.30" stroke="#9a9a9a" stroke-width="0.8" />
<text font-size="8.5" text-anchor="end" textLength="13.26" lengthAdjust="spacingAndGlyphs" transform="translate(653.86,154.60) rotate(-90)">Gly</text>
<rect x="658.08" y="93.00" width="4.85" height="12.45" fill="#6a6a6a" />
<rect x="663.13" y="105.45" width="4.90" height="17.95" fill="#e8a005" />
<line x1="663.08" y1="148.30" x2="663.08" y2="150.30" stroke="#9a9a9a" stroke-width="0.8" />
<text font-size="8.5" text-anchor="end" textLength="13.76" lengthAdjust="spacingAndGlyphs" transform="translate(665.78,154.60) rotate(-90)">Pro</text>
<rect x="670.00" y="66.30" width="4.85" height="39.15" fill="#6a6a6a" />
<rect x="675.05" y="105.45" width="4.90" height="29.55" fill="#e8a005" />
<line x1="675.00" y1="148.30" x2="675.00" y2="150.30" stroke="#9a9a9a" stroke-width="0.8" />
<text font-size="8.5" text-anchor="end" textLength="13.76" lengthAdjust="spacingAndGlyphs" transform="translate(677.70,154.60) rotate(-90)">Glu</text>
<line x1="488.90" y1="105.45" x2="683.00" y2="105.45" stroke="#444" stroke-width="0.8" />
<line x1="493.62" y1="35.60" x2="493.62" y2="40.10" stroke="#222" stroke-width="0.7" />
<line x1="492.42" y1="35.60" x2="494.82" y2="35.60" stroke="#222" stroke-width="0.7" />
<line x1="492.42" y1="40.10" x2="494.82" y2="40.10" stroke="#222" stroke-width="0.7" />
<circle cx="493.13" cy="40.22" r="0.95" fill="#111"/>
<circle cx="492.42" cy="41.05" r="0.95" fill="#111"/>
<circle cx="493.72" cy="37.53" r="0.95" fill="#111"/>
<circle cx="493.64" cy="38.75" r="0.95" fill="#111"/>
<circle cx="492.32" cy="37.23" r="0.95" fill="#111"/>
<circle cx="492.47" cy="38.49" r="0.95" fill="#111"/>
<line x1="498.70" y1="68.20" x2="498.70" y2="71.80" stroke="#222" stroke-width="0.7" />
<line x1="497.50" y1="68.20" x2="499.90" y2="68.20" stroke="#222" stroke-width="0.7" />
<line x1="497.50" y1="71.80" x2="499.90" y2="71.80" stroke="#222" stroke-width="0.7" />
<path d="M497.34,71.51 L499.64,71.51 L498.49,69.44 Z" fill="#111"/>
<path d="M496.78,70.12 L499.08,70.12 L497.93,68.05 Z" fill="#111"/>
<path d="M497.91,73.52 L500.21,73.52 L499.06,71.45 Z" fill="#111"/>
<path d="M497.26,70.19 L499.56,70.19 L498.41,68.12 Z" fill="#111"/>
<path d="M498.88,74.82 L501.18,74.82 L500.03,72.75 Z" fill="#111"/>
<line x1="505.54" y1="53.00" x2="505.54" y2="57.50" stroke="#222" stroke-width="0.7" />
<line x1="504.34" y1="53.00" x2="506.74" y2="53.00" stroke="#222" stroke-width="0.7" />
<line x1="504.34" y1="57.50" x2="506.74" y2="57.50" stroke="#222" stroke-width="0.7" />
<circle cx="504.95" cy="56.93" r="0.95" fill="#111"/>
<circle cx="504.54" cy="57.09" r="0.95" fill="#111"/>
<circle cx="506.43" cy="56.95" r="0.95" fill="#111"/>
<circle cx="504.65" cy="52.39" r="0.95" fill="#111"/>
<circle cx="505.18" cy="53.75" r="0.95" fill="#111"/>
<circle cx="505.67" cy="56.31" r="0.95" fill="#111"/>
<line x1="510.62" y1="76.00" x2="510.62" y2="79.60" stroke="#222" stroke-width="0.7" />
<line x1="509.42" y1="76.00" x2="511.82" y2="76.00" stroke="#222" stroke-width="0.7" />
<line x1="509.42" y1="79.60" x2="511.82" y2="79.60" stroke="#222" stroke-width="0.7" />
<path d="M508.65,79.10 L510.95,79.10 L509.80,77.03 Z" fill="#111"/>
<path d="M509.98,77.27 L512.28,77.27 L511.13,75.20 Z" fill="#111"/>
<path d="M509.71,79.60 L512.01,79.60 L510.86,77.53 Z" fill="#111"/>
<path d="M509.34,77.74 L511.64,77.74 L510.49,75.67 Z" fill="#111"/>
<path d="M510.03,82.22 L512.33,82.22 L511.18,80.15 Z" fill="#111"/>
<line x1="517.46" y1="46.40" x2="517.46" y2="50.90" stroke="#222" stroke-width="0.7" />
<line x1="516.26" y1="46.40" x2="518.66" y2="46.40" stroke="#222" stroke-width="0.7" />
<line x1="516.26" y1="50.90" x2="518.66" y2="50.90" stroke="#222" stroke-width="0.7" />
<circle cx="516.74" cy="46.18" r="0.95" fill="#111"/>
<circle cx="518.51" cy="47.52" r="0.95" fill="#111"/>
<circle cx="518.10" cy="47.25" r="0.95" fill="#111"/>
<circle cx="516.39" cy="55.70" r="0.95" fill="#111"/>
<circle cx="517.23" cy="48.96" r="0.95" fill="#111"/>
<circle cx="517.43" cy="47.47" r="0.95" fill="#111"/>
<line x1="522.54" y1="79.00" x2="522.54" y2="82.60" stroke="#222" stroke-width="0.7" />
<line x1="521.34" y1="79.00" x2="523.74" y2="79.00" stroke="#222" stroke-width="0.7" />
<line x1="521.34" y1="82.60" x2="523.74" y2="82.60" stroke="#222" stroke-width="0.7" />
<path d="M520.10,80.16 L522.40,80.16 L521.25,78.09 Z" fill="#111"/>
<path d="M521.59,78.87 L523.89,78.87 L522.74,76.80 Z" fill="#111"/>
<path d="M522.44,80.63 L524.74,80.63 L523.59,78.56 Z" fill="#111"/>
<path d="M521.65,84.67 L523.95,84.67 L522.80,82.60 Z" fill="#111"/>
<path d="M521.61,78.15 L523.91,78.15 L522.76,76.08 Z" fill="#111"/>
<line x1="529.38" y1="56.70" x2="529.38" y2="61.20" stroke="#222" stroke-width="0.7" />
<line x1="528.18" y1="56.70" x2="530.58" y2="56.70" stroke="#222" stroke-width="0.7" />
<line x1="528.18" y1="61.20" x2="530.58" y2="61.20" stroke="#222" stroke-width="0.7" />
<circle cx="530.63" cy="60.50" r="0.95" fill="#111"/>
<circle cx="529.31" cy="58.75" r="0.95" fill="#111"/>
<circle cx="529.94" cy="58.44" r="0.95" fill="#111"/>
<circle cx="529.79" cy="63.84" r="0.95" fill="#111"/>
<circle cx="528.78" cy="59.00" r="0.95" fill="#111"/>
<circle cx="529.06" cy="58.94" r="0.95" fill="#111"/>
<line x1="534.46" y1="79.60" x2="534.46" y2="83.20" stroke="#222" stroke-width="0.7" />
<line x1="533.26" y1="79.60" x2="535.66" y2="79.60" stroke="#222" stroke-width="0.7" />
<line x1="533.26" y1="83.20" x2="535.66" y2="83.20" stroke="#222" stroke-width="0.7" />
<path d="M533.20,82.06 L535.50,82.06 L534.35,79.99 Z" fill="#111"/>
<path d="M532.38,82.95 L534.68,82.95 L533.53,80.88 Z" fill="#111"/>
<path d="M534.06,82.90 L536.36,82.90 L535.21,80.83 Z" fill="#111"/>
<path d="M532.27,82.46 L534.57,82.46 L533.42,80.39 Z" fill="#111"/>
<path d="M534.35,84.43 L536.65,84.43 L535.50,82.36 Z" fill="#111"/>
<line x1="541.30" y1="76.50" x2="541.30" y2="81.00" stroke="#222" stroke-width="0.7" />
<line x1="540.10" y1="76.50" x2="542.50" y2="76.50" stroke="#222" stroke-width="0.7" />
<line x1="540.10" y1="81.00" x2="542.50" y2="81.00" stroke="#222" stroke-width="0.7" />
<circle cx="540.13" cy="76.00" r="0.95" fill="#111"/>
<circle cx="542.37" cy="79.99" r="0.95" fill="#111"/>
<circle cx="542.19" cy="80.33" r="0.95" fill="#111"/>
<circle cx="541.06" cy="77.48" r="0.95" fill="#111"/>
<circle cx="540.90" cy="83.70" r="0.95" fill="#111"/>
<circle cx="540.32" cy="74.82" r="0.95" fill="#111"/>
<line x1="546.38" y1="85.10" x2="546.38" y2="88.70" stroke="#222" stroke-width="0.7" />
<line x1="545.18" y1="85.10" x2="547.58" y2="85.10" stroke="#222" stroke-width="0.7" />
<line x1="545.18" y1="88.70" x2="547.58" y2="88.70" stroke="#222" stroke-width="0.7" />
<path d="M544.32,88.10 L546.62,88.10 L545.47,86.03 Z" fill="#111"/>
<path d="M545.19,89.38 L547.49,89.38 L546.34,87.31 Z" fill="#111"/>
<path d="M545.48,87.92 L547.78,87.92 L546.63,85.85 Z" fill="#111"/>
<path d="M545.00,88.12 L547.30,88.12 L546.15,86.05 Z" fill="#111"/>
<path d="M544.86,83.41 L547.16,83.41 L546.01,81.34 Z" fill="#111"/>
<line x1="553.22" y1="59.10" x2="553.22" y2="63.60" stroke="#222" stroke-width="0.7" />
<line x1="552.02" y1="59.10" x2="554.42" y2="59.10" stroke="#222" stroke-width="0.7" />
<line x1="552.02" y1="63.60" x2="554.42" y2="63.60" stroke="#222" stroke-width="0.7" />
<circle cx="553.75" cy="59.10" r="0.95" fill="#111"/>
<circle cx="553.26" cy="58.82" r="0.95" fill="#111"/>
<circle cx="551.97" cy="59.07" r="0.95" fill="#111"/>
<circle cx="554.34" cy="62.55" r="0.95" fill="#111"/>
<circle cx="554.05" cy="56.60" r="0.95" fill="#111"/>
<circle cx="552.92" cy="60.66" r="0.95" fill="#111"/>
<line x1="558.30" y1="85.10" x2="558.30" y2="88.70" stroke="#222" stroke-width="0.7" />
<line x1="557.10" y1="85.10" x2="559.50" y2="85.10" stroke="#222" stroke-width="0.7" />
<line x1="557.10" y1="88.70" x2="559.50" y2="88.70" stroke="#222" stroke-width="0.7" />
<path d="M557.53,88.49 L559.83,88.49 L558.68,86.42 Z" fill="#111"/>
<path d="M555.92,89.18 L558.22,89.18 L557.07,87.11 Z" fill="#111"/>
<path d="M556.20,88.50 L558.50,88.50 L557.35,86.43 Z" fill="#111"/>
<path d="M556.70,87.98 L559.00,87.98 L557.85,85.91 Z" fill="#111"/>
<path d="M556.17,87.95 L558.47,87.95 L557.32,85.88 Z" fill="#111"/>
<line x1="565.14" y1="88.00" x2="565.14" y2="92.50" stroke="#222" stroke-width="0.7" />
<line x1="563.94" y1="88.00" x2="566.34" y2="88.00" stroke="#222" stroke-width="0.7" />
<line x1="563.94" y1="92.50" x2="566.34" y2="92.50" stroke="#222" stroke-width="0.7" />
<circle cx="564.02" cy="90.13" r="0.95" fill="#111"/>
<circle cx="566.19" cy="90.93" r="0.95" fill="#111"/>
<circle cx="565.46" cy="91.63" r="0.95" fill="#111"/>
<circle cx="564.71" cy="92.03" r="0.95" fill="#111"/>
<circle cx="564.76" cy="93.98" r="0.95" fill="#111"/>
<circle cx="566.52" cy="93.89" r="0.95" fill="#111"/>
<line x1="570.22" y1="87.50" x2="570.22" y2="91.10" stroke="#222" stroke-width="0.7" />
<line x1="569.02" y1="87.50" x2="571.42" y2="87.50" stroke="#222" stroke-width="0.7" />
<line x1="569.02" y1="91.10" x2="571.42" y2="91.10" stroke="#222" stroke-width="0.7" />
<path d="M568.97,89.49 L571.27,89.49 L570.12,87.42 Z" fill="#111"/>
<path d="M567.96,90.42 L570.26,90.42 L569.11,88.35 Z" fill="#111"/>
<path d="M568.63,89.99 L570.93,89.99 L569.78,87.92 Z" fill="#111"/>
<path d="M568.12,94.08 L570.42,94.08 L569.27,92.01 Z" fill="#111"/>
<path d="M567.73,92.67 L570.03,92.67 L568.88,90.60 Z" fill="#111"/>
<line x1="577.06" y1="55.50" x2="577.06" y2="60.00" stroke="#222" stroke-width="0.7" />
<line x1="575.86" y1="55.50" x2="578.26" y2="55.50" stroke="#222" stroke-width="0.7" />
<line x1="575.86" y1="60.00" x2="578.26" y2="60.00" stroke="#222" stroke-width="0.7" />
<circle cx="576.07" cy="57.07" r="0.95" fill="#111"/>
<circle cx="577.18" cy="61.02" r="0.95" fill="#111"/>
<circle cx="578.40" cy="58.52" r="0.95" fill="#111"/>
<circle cx="578.08" cy="57.35" r="0.95" fill="#111"/>
<circle cx="576.69" cy="56.17" r="0.95" fill="#111"/>
<circle cx="576.13" cy="58.42" r="0.95" fill="#111"/>
<line x1="582.14" y1="94.10" x2="582.14" y2="97.70" stroke="#222" stroke-width="0.7" />
<line x1="580.94" y1="94.10" x2="583.34" y2="94.10" stroke="#222" stroke-width="0.7" />
<line x1="580.94" y1="97.70" x2="583.34" y2="97.70" stroke="#222" stroke-width="0.7" />
<path d="M581.77,94.49 L584.07,94.49 L582.92,92.42 Z" fill="#111"/>
<path d="M580.51,97.55 L582.81,97.55 L581.66,95.48 Z" fill="#111"/>
<path d="M582.35,100.54 L584.65,100.54 L583.50,98.47 Z" fill="#111"/>
<path d="M581.98,98.21 L584.28,98.21 L583.13,96.14 Z" fill="#111"/>
<path d="M581.66,93.47 L583.96,93.47 L582.81,91.40 Z" fill="#111"/>
<line x1="588.98" y1="62.70" x2="588.98" y2="67.20" stroke="#222" stroke-width="0.7" />
<line x1="587.78" y1="62.70" x2="590.18" y2="62.70" stroke="#222" stroke-width="0.7" />
<line x1="587.78" y1="67.20" x2="590.18" y2="67.20" stroke="#222" stroke-width="0.7" />
<circle cx="588.21" cy="62.87" r="0.95" fill="#111"/>
<circle cx="587.66" cy="64.94" r="0.95" fill="#111"/>
<circle cx="587.66" cy="64.84" r="0.95" fill="#111"/>
<circle cx="589.52" cy="67.10" r="0.95" fill="#111"/>
<circle cx="590.26" cy="59.64" r="0.95" fill="#111"/>
<circle cx="590.35" cy="67.11" r="0.95" fill="#111"/>
<line x1="594.06" y1="97.10" x2="594.06" y2="100.70" stroke="#222" stroke-width="0.7" />
<line x1="592.86" y1="97.10" x2="595.26" y2="97.10" stroke="#222" stroke-width="0.7" />
<line x1="592.86" y1="100.70" x2="595.26" y2="100.70" stroke="#222" stroke-width="0.7" />
<path d="M594.18,99.00 L596.48,99.00 L595.33,96.93 Z" fill="#111"/>
<path d="M592.15,101.00 L594.45,101.00 L593.30,98.93 Z" fill="#111"/>
<path d="M592.06,100.73 L594.36,100.73 L593.21,98.66 Z" fill="#111"/>
<path d="M594.03,102.62 L596.33,102.62 L595.18,100.55 Z" fill="#111"/>
<path d="M593.86,97.05 L596.16,97.05 L595.01,94.98 Z" fill="#111"/>
<line x1="600.90" y1="59.70" x2="600.90" y2="64.20" stroke="#222" stroke-width="0.7" />
<line x1="599.70" y1="59.70" x2="602.10" y2="59.70" stroke="#222" stroke-width="0.7" />
<line x1="599.70" y1="64.20" x2="602.10" y2="64.20" stroke="#222" stroke-width="0.7" />
<circle cx="601.74" cy="62.67" r="0.95" fill="#111"/>
<circle cx="599.74" cy="59.28" r="0.95" fill="#111"/>
<circle cx="601.69" cy="57.56" r="0.95" fill="#111"/>
<circle cx="601.60" cy="60.65" r="0.95" fill="#111"/>
<circle cx="601.71" cy="62.42" r="0.95" fill="#111"/>
<circle cx="600.43" cy="64.30" r="0.95" fill="#111"/>
<line x1="605.98" y1="98.30" x2="605.98" y2="101.90" stroke="#222" stroke-width="0.7" />
<line x1="604.78" y1="98.30" x2="607.18" y2="98.30" stroke="#222" stroke-width="0.7" />
<line x1="604.78" y1="101.90" x2="607.18" y2="101.90" stroke="#222" stroke-width="0.7" />
<path d="M604.54,96.07 L606.84,96.07 L605.69,94.00 Z" fill="#111"/>
<path d="M604.55,104.17 L606.85,104.17 L605.70,102.10 Z" fill="#111"/>
<path d="M603.91,100.08 L606.21,100.08 L605.06,98.01 Z" fill="#111"/>
<path d="M603.79,103.66 L606.09,103.66 L604.94,101.59 Z" fill="#111"/>
<path d="M605.69,104.66 L607.99,104.66 L606.84,102.59 Z" fill="#111"/>
<line x1="612.82" y1="74.60" x2="612.82" y2="79.10" stroke="#222" stroke-width="0.7" />
<line x1="611.62" y1="74.60" x2="614.02" y2="74.60" stroke="#222" stroke-width="0.7" />
<line x1="611.62" y1="79.10" x2="614.02" y2="79.10" stroke="#222" stroke-width="0.7" />
<circle cx="611.83" cy="80.34" r="0.95" fill="#111"/>
<circle cx="613.26" cy="70.89" r="0.95" fill="#111"/>
<circle cx="612.40" cy="75.84" r="0.95" fill="#111"/>
<circle cx="611.46" cy="76.70" r="0.95" fill="#111"/>
<circle cx="614.14" cy="75.30" r="0.95" fill="#111"/>
<circle cx="614.03" cy="74.63" r="0.95" fill="#111"/>
<line x1="617.90" y1="99.90" x2="617.90" y2="103.50" stroke="#222" stroke-width="0.7" />
<line x1="616.70" y1="99.90" x2="619.10" y2="99.90" stroke="#222" stroke-width="0.7" />
<line x1="616.70" y1="103.50" x2="619.10" y2="103.50" stroke="#222" stroke-width="0.7" />
<path d="M616.56,105.16 L618.86,105.16 L617.71,103.09 Z" fill="#111"/>
<path d="M616.06,100.04 L618.36,100.04 L617.21,97.97 Z" fill="#111"/>
<path d="M616.17,102.89 L618.47,102.89 L617.32,100.82 Z" fill="#111"/>
<path d="M616.08,105.03 L618.38,105.03 L617.23,102.96 Z" fill="#111"/>
<path d="M615.72,104.31 L618.02,104.31 L616.87,102.24 Z" fill="#111"/>
<line x1="624.74" y1="100.70" x2="624.74" y2="105.20" stroke="#222" stroke-width="0.7" />
<line x1="623.54" y1="100.70" x2="625.94" y2="100.70" stroke="#222" stroke-width="0.7" />
<line x1="623.54" y1="105.20" x2="625.94" y2="105.20" stroke="#222" stroke-width="0.7" />
<circle cx="624.62" cy="101.95" r="0.95" fill="#111"/>
<circle cx="624.97" cy="102.90" r="0.95" fill="#111"/>
<circle cx="624.74" cy="101.72" r="0.95" fill="#111"/>
<circle cx="624.83" cy="102.72" r="0.95" fill="#111"/>
<circle cx="624.57" cy="102.90" r="0.95" fill="#111"/>
<circle cx="623.85" cy="102.90" r="0.95" fill="#111"/>
<line x1="629.82" y1="113.00" x2="629.82" y2="117.00" stroke="#222" stroke-width="0.7" />
<line x1="628.62" y1="113.00" x2="631.02" y2="113.00" stroke="#222" stroke-width="0.7" />
<line x1="628.62" y1="117.00" x2="631.02" y2="117.00" stroke="#222" stroke-width="0.7" />
<path d="M628.60,115.92 L630.90,115.92 L629.75,113.85 Z" fill="#111"/>
<path d="M629.30,114.17 L631.60,114.17 L630.45,112.10 Z" fill="#111"/>
<path d="M628.72,115.22 L631.02,115.22 L629.87,113.15 Z" fill="#111"/>
<path d="M628.83,116.04 L631.13,116.04 L629.98,113.97 Z" fill="#111"/>
<path d="M628.84,114.91 L631.14,114.91 L629.99,112.84 Z" fill="#111"/>
<line x1="636.66" y1="59.50" x2="636.66" y2="64.00" stroke="#222" stroke-width="0.7" />
<line x1="635.46" y1="59.50" x2="637.86" y2="59.50" stroke="#222" stroke-width="0.7" />
<line x1="635.46" y1="64.00" x2="637.86" y2="64.00" stroke="#222" stroke-width="0.7" />
<circle cx="635.96" cy="61.28" r="0.95" fill="#111"/>
<circle cx="636.68" cy="66.24" r="0.95" fill="#111"/>
<circle cx="636.83" cy="62.35" r="0.95" fill="#111"/>
<circle cx="636.50" cy="56.49" r="0.95" fill="#111"/>
<circle cx="636.98" cy="59.01" r="0.95" fill="#111"/>
<circle cx="637.20" cy="61.90" r="0.95" fill="#111"/>
<line x1="641.74" y1="115.10" x2="641.74" y2="119.10" stroke="#222" stroke-width="0.7" />
<line x1="640.54" y1="115.10" x2="642.94" y2="115.10" stroke="#222" stroke-width="0.7" />
<line x1="640.54" y1="119.10" x2="642.94" y2="119.10" stroke="#222" stroke-width="0.7" />
<path d="M640.46,115.70 L642.76,115.70 L641.61,113.63 Z" fill="#111"/>
<path d="M641.83,117.46 L644.13,117.46 L642.98,115.39 Z" fill="#111"/>
<path d="M641.15,121.34 L643.45,121.34 L642.30,119.27 Z" fill="#111"/>
<path d="M639.92,114.59 L642.22,114.59 L641.07,112.52 Z" fill="#111"/>
<path d="M640.76,121.52 L643.06,121.52 L641.91,119.45 Z" fill="#111"/>
<line x1="648.58" y1="86.90" x2="648.58" y2="91.40" stroke="#222" stroke-width="0.7" />
<line x1="647.38" y1="86.90" x2="649.78" y2="86.90" stroke="#222" stroke-width="0.7" />
<line x1="647.38" y1="91.40" x2="649.78" y2="91.40" stroke="#222" stroke-width="0.7" />
<circle cx="647.56" cy="87.73" r="0.95" fill="#111"/>
<circle cx="647.52" cy="88.49" r="0.95" fill="#111"/>
<circle cx="647.85" cy="89.75" r="0.95" fill="#111"/>
<circle cx="647.38" cy="87.28" r="0.95" fill="#111"/>
<circle cx="649.69" cy="85.57" r="0.95" fill="#111"/>
<circle cx="647.61" cy="88.62" r="0.95" fill="#111"/>
<line x1="653.66" y1="117.70" x2="653.66" y2="121.70" stroke="#222" stroke-width="0.7" />
<line x1="652.46" y1="117.70" x2="654.86" y2="117.70" stroke="#222" stroke-width="0.7" />
<line x1="652.46" y1="121.70" x2="654.86" y2="121.70" stroke="#222" stroke-width="0.7" />
<path d="M651.51,117.66 L653.81,117.66 L652.66,115.59 Z" fill="#111"/>
<path d="M653.58,121.91 L655.88,121.91 L654.73,119.84 Z" fill="#111"/>
<path d="M653.78,120.25 L656.08,120.25 L654.93,118.18 Z" fill="#111"/>
<path d="M652.23,114.49 L654.53,114.49 L653.38,112.42 Z" fill="#111"/>
<path d="M653.44,121.02 L655.74,121.02 L654.59,118.95 Z" fill="#111"/>
<line x1="660.50" y1="90.50" x2="660.50" y2="95.00" stroke="#222" stroke-width="0.7" />
<line x1="659.30" y1="90.50" x2="661.70" y2="90.50" stroke="#222" stroke-width="0.7" />
<line x1="659.30" y1="95.00" x2="661.70" y2="95.00" stroke="#222" stroke-width="0.7" />
<circle cx="659.55" cy="90.26" r="0.95" fill="#111"/>
<circle cx="660.05" cy="94.26" r="0.95" fill="#111"/>
<circle cx="659.65" cy="91.33" r="0.95" fill="#111"/>
<circle cx="659.15" cy="96.64" r="0.95" fill="#111"/>
<circle cx="660.65" cy="92.56" r="0.95" fill="#111"/>
<circle cx="660.03" cy="93.17" r="0.95" fill="#111"/>
<line x1="665.58" y1="121.60" x2="665.58" y2="125.60" stroke="#222" stroke-width="0.7" />
<line x1="664.38" y1="121.60" x2="666.78" y2="121.60" stroke="#222" stroke-width="0.7" />
<line x1="664.38" y1="125.60" x2="666.78" y2="125.60" stroke="#222" stroke-width="0.7" />
<path d="M664.78,123.71 L667.08,123.71 L665.93,121.64 Z" fill="#111"/>
<path d="M665.79,124.38 L668.09,124.38 L666.94,122.31 Z" fill="#111"/>
<path d="M665.24,125.36 L667.54,125.36 L666.39,123.29 Z" fill="#111"/>
<path d="M663.77,124.27 L666.07,124.27 L664.92,122.20 Z" fill="#111"/>
<path d="M663.14,124.72 L665.44,124.72 L664.29,122.65 Z" fill="#111"/>
<line x1="672.42" y1="63.80" x2="672.42" y2="68.30" stroke="#222" stroke-width="0.7" />
<line x1="671.22" y1="63.80" x2="673.62" y2="63.80" stroke="#222" stroke-width="0.7" />
<line x1="671.22" y1="68.30" x2="673.62" y2="68.30" stroke="#222" stroke-width="0.7" />
<circle cx="671.38" cy="64.35" r="0.95" fill="#111"/>
<circle cx="672.20" cy="70.22" r="0.95" fill="#111"/>
<circle cx="671.74" cy="63.86" r="0.95" fill="#111"/>
<circle cx="671.44" cy="69.14" r="0.95" fill="#111"/>
<circle cx="672.98" cy="64.72" r="0.95" fill="#111"/>
<circle cx="671.27" cy="69.87" r="0.95" fill="#111"/>
<line x1="677.50" y1="133.20" x2="677.50" y2="137.20" stroke="#222" stroke-width="0.7" />
<line x1="676.30" y1="133.20" x2="678.70" y2="133.20" stroke="#222" stroke-width="0.7" />
<line x1="676.30" y1="137.20" x2="678.70" y2="137.20" stroke="#222" stroke-width="0.7" />
<path d="M676.14,137.11 L678.44,137.11 L677.29,135.04 Z" fill="#111"/>
<path d="M675.15,138.66 L677.45,138.66 L676.30,136.59 Z" fill="#111"/>
<path d="M677.19,134.96 L679.49,134.96 L678.34,132.89 Z" fill="#111"/>
<path d="M675.18,136.49 L677.48,136.49 L676.33,134.42 Z" fill="#111"/>
<path d="M677.37,135.45 L679.67,135.45 L678.52,133.38 Z" fill="#111"/>
<circle cx="494.60" cy="31.50" r="0.95" fill="#111"/>
<circle cx="505.60" cy="52.30" r="0.95" fill="#111"/>
<circle cx="518.00" cy="44.10" r="0.95" fill="#111"/>
<circle cx="529.60" cy="55.50" r="0.95" fill="#111"/>
<circle cx="541.60" cy="74.50" r="0.95" fill="#111"/>
<circle cx="602.00" cy="57.80" r="0.95" fill="#111"/>
<circle cx="613.60" cy="73.50" r="0.95" fill="#111"/>
<circle cx="637.40" cy="55.50" r="0.95" fill="#111"/>
<circle cx="649.40" cy="84.00" r="0.95" fill="#111"/>
<circle cx="673.00" cy="63.00" r="0.95" fill="#111"/>
<line x1="606.60" y1="91.10" x2="606.60" y2="113.40" stroke="#222" stroke-width="0.7" />
<line x1="605.10" y1="91.10" x2="608.10" y2="91.10" stroke="#222" stroke-width="0.7" />
<line x1="605.10" y1="113.40" x2="608.10" y2="113.40" stroke="#222" stroke-width="0.7" />
<path d="M603.60,87.08 L606.00,87.08 L604.80,84.92 Z" fill="#111"/>
<path d="M605.30,120.08 L607.70,120.08 L606.50,117.92 Z" fill="#111"/>
<path d="M607.30,120.08 L609.70,120.08 L608.50,117.92 Z" fill="#111"/>
<line x1="666.50" y1="116.00" x2="666.50" y2="126.50" stroke="#222" stroke-width="0.7" />
<line x1="665.00" y1="116.00" x2="668.00" y2="116.00" stroke="#222" stroke-width="0.7" />
<line x1="665.00" y1="126.50" x2="668.00" y2="126.50" stroke="#222" stroke-width="0.7" />
<path d="M665.40,132.58 L667.80,132.58 L666.60,130.42 Z" fill="#111"/>
<path d="M664.80,112.58 L667.20,112.58 L666.00,110.42 Z" fill="#111"/>
<text font-size="8.6" text-anchor="middle" textLength="64.60" lengthAdjust="spacing" transform="translate(461.80,86.90) rotate(-90)">fmol h<tspan font-size="5.8" dy="-3.4">−1</tspan><tspan dy="3.4"> per cell</tspan></text>
<text x="7.80" y="476.80" font-size="12.0" font-weight="bold" fill="#000" style="stroke:#000;stroke-width:0.55px">d</text>
<rect x="47.90" y="478.80" width="6.80" height="6.80" fill="#6a6a6a" />
<circle cx="51.30" cy="482.20" r="0.9" fill="#111"/>
<text x="59.00" y="485.20" font-size="8.5" textLength="69.20" lengthAdjust="spacingAndGlyphs">Intracellular level</text>
<rect x="137.80" y="478.80" width="6.80" height="6.80" fill="#56b1e5" />
<path d="M140.00,483.38 L142.40,483.38 L141.20,481.22 Z" fill="#111"/>
<text x="148.90" y="485.20" font-size="8.5" textLength="68.00" lengthAdjust="spacingAndGlyphs">Intracellular pool</text>
<text x="148.90" y="495.60" font-size="8.5" textLength="52.53" lengthAdjust="spacingAndGlyphs">turnover rate</text>
<line x1="42.60" y1="493.40" x2="42.60" y2="615.40" stroke="#707070" stroke-width="0.75" />
<line x1="232.00" y1="493.40" x2="232.00" y2="615.40" stroke="#707070" stroke-width="0.75" />
<line x1="42.60" y1="615.40" x2="232.00" y2="615.40" stroke="#707070" stroke-width="0.75" />
<line x1="40.40" y1="507.50" x2="42.60" y2="507.50" stroke="#707070" stroke-width="0.75" />
<line x1="232.00" y1="507.50" x2="234.20" y2="507.50" stroke="#707070" stroke-width="0.75" />
<text x="39.00" y="509.95" font-size="7.4" text-anchor="end" textLength="16.13" lengthAdjust="spacingAndGlyphs">40.0</text>
<text x="237.40" y="509.95" font-size="7.4" textLength="16.13" lengthAdjust="spacingAndGlyphs">4.00</text>
<line x1="40.40" y1="526.45" x2="42.60" y2="526.45" stroke="#707070" stroke-width="0.75" />
<line x1="232.00" y1="526.45" x2="234.20" y2="526.45" stroke="#707070" stroke-width="0.75" />
<text x="39.00" y="528.90" font-size="7.4" text-anchor="end" textLength="16.13" lengthAdjust="spacingAndGlyphs">20.0</text>
<text x="237.40" y="528.90" font-size="7.4" textLength="16.13" lengthAdjust="spacingAndGlyphs">2.00</text>
<line x1="40.40" y1="545.26" x2="42.60" y2="545.26" stroke="#707070" stroke-width="0.75" />
<line x1="232.00" y1="545.26" x2="234.20" y2="545.26" stroke="#707070" stroke-width="0.75" />
<text x="39.00" y="547.71" font-size="7.4" text-anchor="end" textLength="16.13" lengthAdjust="spacingAndGlyphs">10.0</text>
<text x="237.40" y="547.71" font-size="7.4" textLength="16.13" lengthAdjust="spacingAndGlyphs">1.00</text>
<line x1="40.40" y1="563.56" x2="42.60" y2="563.56" stroke="#707070" stroke-width="0.75" />
<line x1="232.00" y1="563.56" x2="234.20" y2="563.56" stroke="#707070" stroke-width="0.75" />
<text x="39.00" y="566.01" font-size="7.4" text-anchor="end" textLength="11.52" lengthAdjust="spacingAndGlyphs">5.0</text>
<text x="237.40" y="566.01" font-size="7.4" textLength="16.13" lengthAdjust="spacingAndGlyphs">0.50</text>
<line x1="40.40" y1="580.19" x2="42.60" y2="580.19" stroke="#707070" stroke-width="0.75" />
<line x1="232.00" y1="580.19" x2="234.20" y2="580.19" stroke="#707070" stroke-width="0.75" />
<text x="39.00" y="582.64" font-size="7.4" text-anchor="end" textLength="11.52" lengthAdjust="spacingAndGlyphs">2.5</text>
<text x="237.40" y="582.64" font-size="7.4" textLength="16.13" lengthAdjust="spacingAndGlyphs">0.25</text>
<line x1="40.40" y1="596.17" x2="42.60" y2="596.17" stroke="#707070" stroke-width="0.75" />
<line x1="232.00" y1="596.17" x2="234.20" y2="596.17" stroke="#707070" stroke-width="0.75" />
<text x="39.00" y="598.62" font-size="7.4" text-anchor="end" textLength="11.52" lengthAdjust="spacingAndGlyphs">1.0</text>
<text x="237.40" y="598.62" font-size="7.4" textLength="16.13" lengthAdjust="spacingAndGlyphs">0.10</text>
<line x1="40.40" y1="610.00" x2="42.60" y2="610.00" stroke="#707070" stroke-width="0.75" />
<line x1="232.00" y1="610.00" x2="234.20" y2="610.00" stroke="#707070" stroke-width="0.75" />
<text x="39.00" y="612.45" font-size="7.4" text-anchor="end" textLength="4.61" lengthAdjust="spacingAndGlyphs">0</text>
<text x="237.40" y="612.45" font-size="7.4" textLength="4.61" lengthAdjust="spacingAndGlyphs">0</text>
<rect x="44.50" y="508.40" width="4.85" height="101.60" fill="#6a6a6a" />
<rect x="49.65" y="607.60" width="4.85" height="2.40" fill="#56b1e5" />
<line x1="49.50" y1="615.40" x2="49.50" y2="617.40" stroke="#707070" stroke-width="0.75" />
<text font-size="8.5" text-anchor="end" textLength="13.76" lengthAdjust="spacingAndGlyphs" transform="translate(52.20,621.20) rotate(-90)">Glu</text>
<rect x="56.21" y="515.40" width="4.85" height="94.60" fill="#6a6a6a" />
<rect x="61.36" y="582.00" width="4.85" height="28.00" fill="#56b1e5" />
<line x1="61.21" y1="615.40" x2="61.21" y2="617.40" stroke="#707070" stroke-width="0.75" />
<text font-size="8.5" text-anchor="end" textLength="13.76" lengthAdjust="spacingAndGlyphs" transform="translate(63.91,621.20) rotate(-90)">Gln</text>
<rect x="67.92" y="546.90" width="4.85" height="63.10" fill="#6a6a6a" />
<rect x="73.07" y="609.50" width="4.85" height="0.50" fill="#56b1e5" />
<line x1="72.92" y1="615.40" x2="72.92" y2="617.40" stroke="#707070" stroke-width="0.75" />
<text font-size="8.5" text-anchor="end" textLength="15.23" lengthAdjust="spacingAndGlyphs" transform="translate(75.62,621.20) rotate(-90)">Asp</text>
<rect x="79.63" y="550.40" width="4.85" height="59.60" fill="#6a6a6a" />
<rect x="84.78" y="608.60" width="4.85" height="1.40" fill="#56b1e5" />
<line x1="84.63" y1="615.40" x2="84.63" y2="617.40" stroke="#707070" stroke-width="0.75" />
<text font-size="8.5" text-anchor="end" textLength="13.26" lengthAdjust="spacingAndGlyphs" transform="translate(87.33,621.20) rotate(-90)">Gly</text>
<rect x="91.34" y="554.50" width="4.85" height="55.50" fill="#6a6a6a" />
<rect x="96.49" y="594.20" width="4.85" height="15.80" fill="#56b1e5" />
<line x1="96.34" y1="615.40" x2="96.34" y2="617.40" stroke="#707070" stroke-width="0.75" />
<text font-size="8.5" text-anchor="end" textLength="15.23" lengthAdjust="spacingAndGlyphs" transform="translate(99.04,621.20) rotate(-90)">Asn</text>
<rect x="103.05" y="559.20" width="4.85" height="50.80" fill="#6a6a6a" />
<rect x="108.20" y="609.20" width="4.85" height="0.80" fill="#56b1e5" />
<line x1="108.05" y1="615.40" x2="108.05" y2="617.40" stroke="#707070" stroke-width="0.75" />
<text font-size="8.5" text-anchor="end" textLength="13.76" lengthAdjust="spacingAndGlyphs" transform="translate(110.75,621.20) rotate(-90)">Pro</text>
<rect x="114.76" y="570.90" width="4.85" height="39.10" fill="#6a6a6a" />
<rect x="119.91" y="568.00" width="4.85" height="42.00" fill="#56b1e5" />
<line x1="119.76" y1="615.40" x2="119.76" y2="617.40" stroke="#707070" stroke-width="0.75" />
<text font-size="8.5" text-anchor="end" textLength="13.76" lengthAdjust="spacingAndGlyphs" transform="translate(122.46,621.20) rotate(-90)">Ser</text>
<rect x="126.47" y="579.30" width="4.85" height="30.70" fill="#6a6a6a" />
<rect x="131.62" y="571.50" width="4.85" height="38.50" fill="#56b1e5" />
<line x1="131.47" y1="615.40" x2="131.47" y2="617.40" stroke="#707070" stroke-width="0.75" />
<text font-size="8.5" text-anchor="end" textLength="13.26" lengthAdjust="spacingAndGlyphs" transform="translate(134.17,621.20) rotate(-90)">Thr</text>
<rect x="138.18" y="586.40" width="4.85" height="23.60" fill="#6a6a6a" />
<rect x="143.33" y="532.00" width="4.85" height="78.00" fill="#56b1e5" />
<line x1="143.18" y1="615.40" x2="143.18" y2="617.40" stroke="#707070" stroke-width="0.75" />
<text font-size="8.5" text-anchor="end" textLength="14.75" lengthAdjust="spacingAndGlyphs" transform="translate(145.88,621.20) rotate(-90)">Leu</text>
<rect x="149.89" y="587.70" width="4.85" height="22.30" fill="#6a6a6a" />
<rect x="155.04" y="555.80" width="4.85" height="54.20" fill="#56b1e5" />
<line x1="154.89" y1="615.40" x2="154.89" y2="617.40" stroke="#707070" stroke-width="0.75" />
<text font-size="8.5" text-anchor="end" textLength="9.34" lengthAdjust="spacingAndGlyphs" transform="translate(157.59,621.20) rotate(-90)">Ile</text>
<rect x="161.60" y="592.60" width="4.85" height="17.40" fill="#6a6a6a" />
<rect x="166.75" y="557.40" width="4.85" height="52.60" fill="#56b1e5" />
<line x1="166.60" y1="615.40" x2="166.60" y2="617.40" stroke="#707070" stroke-width="0.75" />
<text font-size="8.5" text-anchor="end" textLength="13.76" lengthAdjust="spacingAndGlyphs" transform="translate(169.30,621.20) rotate(-90)">Arg</text>
<rect x="173.31" y="601.40" width="4.85" height="8.60" fill="#6a6a6a" />
<rect x="178.46" y="544.20" width="4.85" height="65.80" fill="#56b1e5" />
<line x1="178.31" y1="615.40" x2="178.31" y2="617.40" stroke="#707070" stroke-width="0.75" />
<text font-size="8.5" text-anchor="end" textLength="12.28" lengthAdjust="spacingAndGlyphs" transform="translate(181.01,621.20) rotate(-90)">Tyr</text>
<rect x="185.02" y="601.40" width="4.85" height="8.60" fill="#6a6a6a" />
<rect x="190.17" y="576.90" width="4.85" height="33.10" fill="#56b1e5" />
<line x1="190.02" y1="615.40" x2="190.02" y2="617.40" stroke="#707070" stroke-width="0.75" />
<text font-size="8.5" text-anchor="end" textLength="12.12" lengthAdjust="spacingAndGlyphs" transform="translate(192.72,621.20) rotate(-90)">Val</text>
<rect x="196.73" y="603.40" width="4.85" height="6.60" fill="#6a6a6a" />
<rect x="201.88" y="560.50" width="4.85" height="49.50" fill="#56b1e5" />
<line x1="201.73" y1="615.40" x2="201.73" y2="617.40" stroke="#707070" stroke-width="0.75" />
<text font-size="8.5" text-anchor="end" textLength="12.77" lengthAdjust="spacingAndGlyphs" transform="translate(204.43,621.20) rotate(-90)">His</text>
<rect x="208.44" y="602.80" width="4.85" height="7.20" fill="#6a6a6a" />
<rect x="213.59" y="516.20" width="4.85" height="93.80" fill="#56b1e5" />
<line x1="213.44" y1="615.40" x2="213.44" y2="617.40" stroke="#707070" stroke-width="0.75" />
<text font-size="8.5" text-anchor="end" textLength="15.73" lengthAdjust="spacingAndGlyphs" transform="translate(216.14,621.20) rotate(-90)">Phe</text>
<rect x="220.15" y="606.90" width="4.85" height="3.10" fill="#6a6a6a" />
<rect x="225.30" y="568.70" width="4.85" height="41.30" fill="#56b1e5" />
<line x1="225.15" y1="615.40" x2="225.15" y2="617.40" stroke="#707070" stroke-width="0.75" />
<text font-size="8.5" text-anchor="end" textLength="13.43" lengthAdjust="spacingAndGlyphs" transform="translate(227.85,621.20) rotate(-90)">Lys</text>
<line x1="46.90" y1="505.90" x2="46.90" y2="510.90" stroke="#222" stroke-width="0.7" />
<line x1="45.70" y1="505.90" x2="48.10" y2="505.90" stroke="#222" stroke-width="0.7" />
<line x1="45.70" y1="510.90" x2="48.10" y2="510.90" stroke="#222" stroke-width="0.7" />
<circle cx="46.77" cy="505.70" r="0.95" fill="#111"/>
<circle cx="48.09" cy="512.70" r="0.95" fill="#111"/>
<circle cx="46.25" cy="511.77" r="0.95" fill="#111"/>
<circle cx="46.17" cy="511.95" r="0.95" fill="#111"/>
<circle cx="45.81" cy="509.08" r="0.95" fill="#111"/>
<circle cx="46.06" cy="509.49" r="0.95" fill="#111"/>
<line x1="52.10" y1="605.60" x2="52.10" y2="609.60" stroke="#222" stroke-width="0.7" />
<line x1="50.90" y1="605.60" x2="53.30" y2="605.60" stroke="#222" stroke-width="0.7" />
<line x1="50.90" y1="609.60" x2="53.30" y2="609.60" stroke="#222" stroke-width="0.7" />
<path d="M50.42,608.34 L52.72,608.34 L51.57,606.27 Z" fill="#111"/>
<path d="M50.36,608.34 L52.66,608.34 L51.51,606.27 Z" fill="#111"/>
<path d="M50.95,608.34 L53.25,608.34 L52.10,606.27 Z" fill="#111"/>
<path d="M49.60,608.34 L51.90,608.34 L50.75,606.27 Z" fill="#111"/>
<path d="M50.25,608.34 L52.55,608.34 L51.40,606.27 Z" fill="#111"/>
<path d="M51.09,608.34 L53.39,608.34 L52.24,606.27 Z" fill="#111"/>
<line x1="58.61" y1="512.90" x2="58.61" y2="517.90" stroke="#222" stroke-width="0.7" />
<line x1="57.41" y1="512.90" x2="59.81" y2="512.90" stroke="#222" stroke-width="0.7" />
<line x1="57.41" y1="517.90" x2="59.81" y2="517.90" stroke="#222" stroke-width="0.7" />
<circle cx="57.74" cy="506.17" r="0.95" fill="#111"/>
<circle cx="57.51" cy="516.88" r="0.95" fill="#111"/>
<circle cx="59.50" cy="511.14" r="0.95" fill="#111"/>
<circle cx="59.55" cy="517.33" r="0.95" fill="#111"/>
<circle cx="58.31" cy="509.30" r="0.95" fill="#111"/>
<circle cx="59.96" cy="515.14" r="0.95" fill="#111"/>
<line x1="63.81" y1="580.00" x2="63.81" y2="584.00" stroke="#222" stroke-width="0.7" />
<line x1="62.61" y1="580.00" x2="65.01" y2="580.00" stroke="#222" stroke-width="0.7" />
<line x1="62.61" y1="584.00" x2="65.01" y2="584.00" stroke="#222" stroke-width="0.7" />
<path d="M62.22,586.91 L64.52,586.91 L63.37,584.84 Z" fill="#111"/>
<path d="M63.04,576.23 L65.34,576.23 L64.19,574.16 Z" fill="#111"/>
<path d="M62.39,582.07 L64.69,582.07 L63.54,580.00 Z" fill="#111"/>
<path d="M61.62,584.40 L63.92,584.40 L62.77,582.33 Z" fill="#111"/>
<path d="M61.46,582.82 L63.76,582.82 L62.61,580.75 Z" fill="#111"/>
<path d="M61.72,579.20 L64.02,579.20 L62.87,577.13 Z" fill="#111"/>
<line x1="70.32" y1="544.40" x2="70.32" y2="549.40" stroke="#222" stroke-width="0.7" />
<line x1="69.12" y1="544.40" x2="71.52" y2="544.40" stroke="#222" stroke-width="0.7" />
<line x1="69.12" y1="549.40" x2="71.52" y2="549.40" stroke="#222" stroke-width="0.7" />
<circle cx="69.16" cy="551.29" r="0.95" fill="#111"/>
<circle cx="70.80" cy="540.11" r="0.95" fill="#111"/>
<circle cx="69.71" cy="547.06" r="0.95" fill="#111"/>
<circle cx="70.21" cy="550.23" r="0.95" fill="#111"/>
<circle cx="69.36" cy="543.95" r="0.95" fill="#111"/>
<circle cx="71.61" cy="547.94" r="0.95" fill="#111"/>
<line x1="75.52" y1="607.50" x2="75.52" y2="609.60" stroke="#222" stroke-width="0.7" />
<line x1="74.32" y1="607.50" x2="76.72" y2="607.50" stroke="#222" stroke-width="0.7" />
<line x1="74.32" y1="609.60" x2="76.72" y2="609.60" stroke="#222" stroke-width="0.7" />
<path d="M75.69,609.83 L77.99,609.83 L76.84,607.76 Z" fill="#111"/>
<path d="M73.84,609.83 L76.14,609.83 L74.99,607.76 Z" fill="#111"/>
<path d="M72.97,609.83 L75.27,609.83 L74.12,607.76 Z" fill="#111"/>
<path d="M73.53,609.83 L75.83,609.83 L74.68,607.76 Z" fill="#111"/>
<path d="M72.98,609.83 L75.28,609.83 L74.13,607.76 Z" fill="#111"/>
<path d="M73.09,609.83 L75.39,609.83 L74.24,607.76 Z" fill="#111"/>
<line x1="82.03" y1="547.90" x2="82.03" y2="552.90" stroke="#222" stroke-width="0.7" />
<line x1="80.83" y1="547.90" x2="83.23" y2="547.90" stroke="#222" stroke-width="0.7" />
<line x1="80.83" y1="552.90" x2="83.23" y2="552.90" stroke="#222" stroke-width="0.7" />
<circle cx="81.48" cy="550.97" r="0.95" fill="#111"/>
<circle cx="82.11" cy="555.68" r="0.95" fill="#111"/>
<circle cx="82.73" cy="546.92" r="0.95" fill="#111"/>
<circle cx="83.09" cy="545.09" r="0.95" fill="#111"/>
<circle cx="81.72" cy="545.07" r="0.95" fill="#111"/>
<circle cx="81.05" cy="560.67" r="0.95" fill="#111"/>
<line x1="87.23" y1="606.60" x2="87.23" y2="609.60" stroke="#222" stroke-width="0.7" />
<line x1="86.03" y1="606.60" x2="88.43" y2="606.60" stroke="#222" stroke-width="0.7" />
<line x1="86.03" y1="609.60" x2="88.43" y2="609.60" stroke="#222" stroke-width="0.7" />
<path d="M86.71,609.34 L89.01,609.34 L87.86,607.27 Z" fill="#111"/>
<path d="M87.02,609.34 L89.32,609.34 L88.17,607.27 Z" fill="#111"/>
<path d="M87.18,609.07 L89.48,609.07 L88.33,607.00 Z" fill="#111"/>
<path d="M86.95,609.05 L89.25,609.05 L88.10,606.98 Z" fill="#111"/>
<path d="M85.07,609.05 L87.37,609.05 L86.22,606.98 Z" fill="#111"/>
<path d="M87.02,609.34 L89.32,609.34 L88.17,607.27 Z" fill="#111"/>
<line x1="93.74" y1="552.00" x2="93.74" y2="557.00" stroke="#222" stroke-width="0.7" />
<line x1="92.54" y1="552.00" x2="94.94" y2="552.00" stroke="#222" stroke-width="0.7" />
<line x1="92.54" y1="557.00" x2="94.94" y2="557.00" stroke="#222" stroke-width="0.7" />
<circle cx="94.59" cy="556.95" r="0.95" fill="#111"/>
<circle cx="94.84" cy="549.80" r="0.95" fill="#111"/>
<circle cx="94.25" cy="553.49" r="0.95" fill="#111"/>
<circle cx="92.43" cy="551.79" r="0.95" fill="#111"/>
<circle cx="92.71" cy="553.29" r="0.95" fill="#111"/>
<circle cx="94.68" cy="555.95" r="0.95" fill="#111"/>
<line x1="98.94" y1="592.20" x2="98.94" y2="596.20" stroke="#222" stroke-width="0.7" />
<line x1="97.74" y1="592.20" x2="100.14" y2="592.20" stroke="#222" stroke-width="0.7" />
<line x1="97.74" y1="596.20" x2="100.14" y2="596.20" stroke="#222" stroke-width="0.7" />
<path d="M97.95,590.36 L100.25,590.36 L99.10,588.29 Z" fill="#111"/>
<path d="M98.30,590.19 L100.60,590.19 L99.45,588.12 Z" fill="#111"/>
<path d="M97.76,604.17 L100.06,604.17 L98.91,602.10 Z" fill="#111"/>
<path d="M98.49,595.42 L100.79,595.42 L99.64,593.35 Z" fill="#111"/>
<path d="M97.80,588.08 L100.10,588.08 L98.95,586.01 Z" fill="#111"/>
<path d="M96.57,593.63 L98.87,593.63 L97.72,591.56 Z" fill="#111"/>
<line x1="105.45" y1="556.70" x2="105.45" y2="561.70" stroke="#222" stroke-width="0.7" />
<line x1="104.25" y1="556.70" x2="106.65" y2="556.70" stroke="#222" stroke-width="0.7" />
<line x1="104.25" y1="561.70" x2="106.65" y2="561.70" stroke="#222" stroke-width="0.7" />
<circle cx="106.11" cy="559.18" r="0.95" fill="#111"/>
<circle cx="104.79" cy="560.77" r="0.95" fill="#111"/>
<circle cx="106.09" cy="561.02" r="0.95" fill="#111"/>
<circle cx="106.78" cy="565.51" r="0.95" fill="#111"/>
<circle cx="105.43" cy="555.82" r="0.95" fill="#111"/>
<circle cx="105.96" cy="562.27" r="0.95" fill="#111"/>
<line x1="110.65" y1="607.20" x2="110.65" y2="609.60" stroke="#222" stroke-width="0.7" />
<line x1="109.45" y1="607.20" x2="111.85" y2="607.20" stroke="#222" stroke-width="0.7" />
<line x1="109.45" y1="609.60" x2="111.85" y2="609.60" stroke="#222" stroke-width="0.7" />
<path d="M110.25,609.83 L112.55,609.83 L111.40,607.76 Z" fill="#111"/>
<path d="M108.32,609.83 L110.62,609.83 L109.47,607.76 Z" fill="#111"/>
<path d="M108.51,609.83 L110.81,609.83 L109.66,607.76 Z" fill="#111"/>
<path d="M109.69,609.83 L111.99,609.83 L110.84,607.76 Z" fill="#111"/>
<path d="M108.27,609.83 L110.57,609.83 L109.42,607.76 Z" fill="#111"/>
<path d="M109.99,609.83 L112.29,609.83 L111.14,607.76 Z" fill="#111"/>
<line x1="117.16" y1="568.40" x2="117.16" y2="573.40" stroke="#222" stroke-width="0.7" />
<line x1="115.96" y1="568.40" x2="118.36" y2="568.40" stroke="#222" stroke-width="0.7" />
<line x1="115.96" y1="573.40" x2="118.36" y2="573.40" stroke="#222" stroke-width="0.7" />
<circle cx="117.21" cy="566.53" r="0.95" fill="#111"/>
<circle cx="116.09" cy="571.89" r="0.95" fill="#111"/>
<circle cx="118.26" cy="574.37" r="0.95" fill="#111"/>
<circle cx="118.38" cy="581.40" r="0.95" fill="#111"/>
<circle cx="115.81" cy="563.74" r="0.95" fill="#111"/>
<circle cx="118.47" cy="572.79" r="0.95" fill="#111"/>
<line x1="122.36" y1="566.00" x2="122.36" y2="570.00" stroke="#222" stroke-width="0.7" />
<line x1="121.16" y1="566.00" x2="123.56" y2="566.00" stroke="#222" stroke-width="0.7" />
<line x1="121.16" y1="570.00" x2="123.56" y2="570.00" stroke="#222" stroke-width="0.7" />
<path d="M121.07,568.63 L123.37,568.63 L122.22,566.56 Z" fill="#111"/>
<path d="M122.46,572.44 L124.76,572.44 L123.61,570.37 Z" fill="#111"/>
<path d="M120.40,566.62 L122.70,566.62 L121.55,564.55 Z" fill="#111"/>
<path d="M121.28,567.68 L123.58,567.68 L122.43,565.61 Z" fill="#111"/>
<path d="M122.48,575.26 L124.78,575.26 L123.63,573.19 Z" fill="#111"/>
<path d="M121.23,575.89 L123.53,575.89 L122.38,573.82 Z" fill="#111"/>
<line x1="128.87" y1="576.80" x2="128.87" y2="581.80" stroke="#222" stroke-width="0.7" />
<line x1="127.67" y1="576.80" x2="130.07" y2="576.80" stroke="#222" stroke-width="0.7" />
<line x1="127.67" y1="581.80" x2="130.07" y2="581.80" stroke="#222" stroke-width="0.7" />
<circle cx="129.95" cy="578.46" r="0.95" fill="#111"/>
<circle cx="129.98" cy="576.52" r="0.95" fill="#111"/>
<circle cx="128.83" cy="579.64" r="0.95" fill="#111"/>
<circle cx="128.85" cy="579.35" r="0.95" fill="#111"/>
<circle cx="128.73" cy="578.59" r="0.95" fill="#111"/>
<circle cx="128.43" cy="581.39" r="0.95" fill="#111"/>
<line x1="134.07" y1="569.50" x2="134.07" y2="573.50" stroke="#222" stroke-width="0.7" />
<line x1="132.87" y1="569.50" x2="135.27" y2="569.50" stroke="#222" stroke-width="0.7" />
<line x1="132.87" y1="573.50" x2="135.27" y2="573.50" stroke="#222" stroke-width="0.7" />
<path d="M132.41,572.69 L134.71,572.69 L133.56,570.62 Z" fill="#111"/>
<path d="M133.62,572.29 L135.92,572.29 L134.77,570.22 Z" fill="#111"/>
<path d="M133.87,580.86 L136.17,580.86 L135.02,578.79 Z" fill="#111"/>
<path d="M133.52,580.36 L135.82,580.36 L134.67,578.29 Z" fill="#111"/>
<path d="M134.04,571.34 L136.34,571.34 L135.19,569.27 Z" fill="#111"/>
<path d="M132.62,577.21 L134.92,577.21 L133.77,575.14 Z" fill="#111"/>
<line x1="140.58" y1="583.90" x2="140.58" y2="588.90" stroke="#222" stroke-width="0.7" />
<line x1="139.38" y1="583.90" x2="141.78" y2="583.90" stroke="#222" stroke-width="0.7" />
<line x1="139.38" y1="588.90" x2="141.78" y2="588.90" stroke="#222" stroke-width="0.7" />
<circle cx="141.98" cy="583.19" r="0.95" fill="#111"/>
<circle cx="140.38" cy="584.39" r="0.95" fill="#111"/>
<circle cx="139.95" cy="588.17" r="0.95" fill="#111"/>
<circle cx="141.52" cy="586.95" r="0.95" fill="#111"/>
<circle cx="139.98" cy="589.18" r="0.95" fill="#111"/>
<circle cx="139.92" cy="585.21" r="0.95" fill="#111"/>
<line x1="145.78" y1="530.00" x2="145.78" y2="534.00" stroke="#222" stroke-width="0.7" />
<line x1="144.58" y1="530.00" x2="146.98" y2="530.00" stroke="#222" stroke-width="0.7" />
<line x1="144.58" y1="534.00" x2="146.98" y2="534.00" stroke="#222" stroke-width="0.7" />
<path d="M144.66,534.82 L146.96,534.82 L145.81,532.75 Z" fill="#111"/>
<path d="M145.91,537.53 L148.21,537.53 L147.06,535.46 Z" fill="#111"/>
<path d="M145.71,535.71 L148.01,535.71 L146.86,533.64 Z" fill="#111"/>
<path d="M145.79,526.50 L148.09,526.50 L146.94,524.43 Z" fill="#111"/>
<path d="M145.86,525.44 L148.16,525.44 L147.01,523.37 Z" fill="#111"/>
<path d="M143.37,530.61 L145.67,530.61 L144.52,528.54 Z" fill="#111"/>
<line x1="152.29" y1="585.20" x2="152.29" y2="590.20" stroke="#222" stroke-width="0.7" />
<line x1="151.09" y1="585.20" x2="153.49" y2="585.20" stroke="#222" stroke-width="0.7" />
<line x1="151.09" y1="590.20" x2="153.49" y2="590.20" stroke="#222" stroke-width="0.7" />
<circle cx="152.94" cy="581.33" r="0.95" fill="#111"/>
<circle cx="152.69" cy="589.73" r="0.95" fill="#111"/>
<circle cx="151.69" cy="596.42" r="0.95" fill="#111"/>
<circle cx="151.25" cy="590.47" r="0.95" fill="#111"/>
<circle cx="152.21" cy="585.83" r="0.95" fill="#111"/>
<circle cx="152.96" cy="590.50" r="0.95" fill="#111"/>
<line x1="157.49" y1="553.80" x2="157.49" y2="557.80" stroke="#222" stroke-width="0.7" />
<line x1="156.29" y1="553.80" x2="158.69" y2="553.80" stroke="#222" stroke-width="0.7" />
<line x1="156.29" y1="557.80" x2="158.69" y2="557.80" stroke="#222" stroke-width="0.7" />
<path d="M157.67,556.37 L159.97,556.37 L158.82,554.30 Z" fill="#111"/>
<path d="M155.78,564.12 L158.08,564.12 L156.93,562.05 Z" fill="#111"/>
<path d="M156.50,554.45 L158.80,554.45 L157.65,552.38 Z" fill="#111"/>
<path d="M155.39,558.70 L157.69,558.70 L156.54,556.63 Z" fill="#111"/>
<path d="M155.52,561.70 L157.82,561.70 L156.67,559.63 Z" fill="#111"/>
<path d="M155.56,553.57 L157.86,553.57 L156.71,551.50 Z" fill="#111"/>
<line x1="164.00" y1="590.10" x2="164.00" y2="595.10" stroke="#222" stroke-width="0.7" />
<line x1="162.80" y1="590.10" x2="165.20" y2="590.10" stroke="#222" stroke-width="0.7" />
<line x1="162.80" y1="595.10" x2="165.20" y2="595.10" stroke="#222" stroke-width="0.7" />
<circle cx="165.14" cy="596.97" r="0.95" fill="#111"/>
<circle cx="162.99" cy="592.50" r="0.95" fill="#111"/>
<circle cx="163.14" cy="595.68" r="0.95" fill="#111"/>
<circle cx="162.86" cy="594.57" r="0.95" fill="#111"/>
<circle cx="163.27" cy="592.33" r="0.95" fill="#111"/>
<circle cx="165.08" cy="597.79" r="0.95" fill="#111"/>
<line x1="169.20" y1="555.40" x2="169.20" y2="559.40" stroke="#222" stroke-width="0.7" />
<line x1="168.00" y1="555.40" x2="170.40" y2="555.40" stroke="#222" stroke-width="0.7" />
<line x1="168.00" y1="559.40" x2="170.40" y2="559.40" stroke="#222" stroke-width="0.7" />
<path d="M168.75,554.02 L171.05,554.02 L169.90,551.95 Z" fill="#111"/>
<path d="M168.12,561.13 L170.42,561.13 L169.27,559.06 Z" fill="#111"/>
<path d="M167.71,557.49 L170.01,557.49 L168.86,555.42 Z" fill="#111"/>
<path d="M167.43,559.96 L169.73,559.96 L168.58,557.89 Z" fill="#111"/>
<path d="M169.36,562.60 L171.66,562.60 L170.51,560.53 Z" fill="#111"/>
<path d="M168.41,562.64 L170.71,562.64 L169.56,560.57 Z" fill="#111"/>
<line x1="175.71" y1="598.90" x2="175.71" y2="603.90" stroke="#222" stroke-width="0.7" />
<line x1="174.51" y1="598.90" x2="176.91" y2="598.90" stroke="#222" stroke-width="0.7" />
<line x1="174.51" y1="603.90" x2="176.91" y2="603.90" stroke="#222" stroke-width="0.7" />
<circle cx="176.73" cy="601.74" r="0.95" fill="#111"/>
<circle cx="175.01" cy="602.95" r="0.95" fill="#111"/>
<circle cx="175.43" cy="596.72" r="0.95" fill="#111"/>
<circle cx="176.69" cy="603.06" r="0.95" fill="#111"/>
<circle cx="176.75" cy="601.91" r="0.95" fill="#111"/>
<circle cx="176.30" cy="601.47" r="0.95" fill="#111"/>
<line x1="180.91" y1="542.20" x2="180.91" y2="546.20" stroke="#222" stroke-width="0.7" />
<line x1="179.71" y1="542.20" x2="182.11" y2="542.20" stroke="#222" stroke-width="0.7" />
<line x1="179.71" y1="546.20" x2="182.11" y2="546.20" stroke="#222" stroke-width="0.7" />
<path d="M180.87,538.68 L183.17,538.68 L182.02,536.61 Z" fill="#111"/>
<path d="M178.36,546.35 L180.66,546.35 L179.51,544.28 Z" fill="#111"/>
<path d="M179.46,553.61 L181.76,553.61 L180.61,551.54 Z" fill="#111"/>
<path d="M180.76,541.09 L183.06,541.09 L181.91,539.02 Z" fill="#111"/>
<path d="M181.08,545.26 L183.38,545.26 L182.23,543.19 Z" fill="#111"/>
<path d="M178.79,547.64 L181.09,547.64 L179.94,545.57 Z" fill="#111"/>
<line x1="187.42" y1="598.90" x2="187.42" y2="603.90" stroke="#222" stroke-width="0.7" />
<line x1="186.22" y1="598.90" x2="188.62" y2="598.90" stroke="#222" stroke-width="0.7" />
<line x1="186.22" y1="603.90" x2="188.62" y2="603.90" stroke="#222" stroke-width="0.7" />
<circle cx="187.48" cy="599.43" r="0.95" fill="#111"/>
<circle cx="188.04" cy="597.06" r="0.95" fill="#111"/>
<circle cx="187.83" cy="601.61" r="0.95" fill="#111"/>
<circle cx="187.56" cy="599.20" r="0.95" fill="#111"/>
<circle cx="186.13" cy="601.69" r="0.95" fill="#111"/>
<circle cx="188.60" cy="599.97" r="0.95" fill="#111"/>
<line x1="192.62" y1="574.90" x2="192.62" y2="578.90" stroke="#222" stroke-width="0.7" />
<line x1="191.42" y1="574.90" x2="193.82" y2="574.90" stroke="#222" stroke-width="0.7" />
<line x1="191.42" y1="578.90" x2="193.82" y2="578.90" stroke="#222" stroke-width="0.7" />
<path d="M191.88,577.07 L194.18,577.07 L193.03,575.00 Z" fill="#111"/>
<path d="M190.78,580.40 L193.08,580.40 L191.93,578.33 Z" fill="#111"/>
<path d="M191.85,577.16 L194.15,577.16 L193.00,575.09 Z" fill="#111"/>
<path d="M190.27,575.62 L192.57,575.62 L191.42,573.55 Z" fill="#111"/>
<path d="M191.54,573.64 L193.84,573.64 L192.69,571.57 Z" fill="#111"/>
<path d="M190.70,575.47 L193.00,575.47 L191.85,573.40 Z" fill="#111"/>
<line x1="199.13" y1="600.90" x2="199.13" y2="605.90" stroke="#222" stroke-width="0.7" />
<line x1="197.93" y1="600.90" x2="200.33" y2="600.90" stroke="#222" stroke-width="0.7" />
<line x1="197.93" y1="605.90" x2="200.33" y2="605.90" stroke="#222" stroke-width="0.7" />
<circle cx="199.41" cy="605.09" r="0.95" fill="#111"/>
<circle cx="199.02" cy="603.51" r="0.95" fill="#111"/>
<circle cx="200.42" cy="600.85" r="0.95" fill="#111"/>
<circle cx="199.06" cy="600.13" r="0.95" fill="#111"/>
<circle cx="198.39" cy="603.49" r="0.95" fill="#111"/>
<circle cx="199.70" cy="608.49" r="0.95" fill="#111"/>
<line x1="204.33" y1="558.50" x2="204.33" y2="562.50" stroke="#222" stroke-width="0.7" />
<line x1="203.13" y1="558.50" x2="205.53" y2="558.50" stroke="#222" stroke-width="0.7" />
<line x1="203.13" y1="562.50" x2="205.53" y2="562.50" stroke="#222" stroke-width="0.7" />
<path d="M202.64,567.35 L204.94,567.35 L203.79,565.28 Z" fill="#111"/>
<path d="M203.67,562.34 L205.97,562.34 L204.82,560.27 Z" fill="#111"/>
<path d="M202.96,561.20 L205.26,561.20 L204.11,559.13 Z" fill="#111"/>
<path d="M204.37,568.95 L206.67,568.95 L205.52,566.88 Z" fill="#111"/>
<path d="M202.42,565.97 L204.72,565.97 L203.57,563.90 Z" fill="#111"/>
<path d="M202.96,562.50 L205.26,562.50 L204.11,560.43 Z" fill="#111"/>
<line x1="210.84" y1="600.30" x2="210.84" y2="605.30" stroke="#222" stroke-width="0.7" />
<line x1="209.64" y1="600.30" x2="212.04" y2="600.30" stroke="#222" stroke-width="0.7" />
<line x1="209.64" y1="605.30" x2="212.04" y2="605.30" stroke="#222" stroke-width="0.7" />
<circle cx="211.35" cy="603.94" r="0.95" fill="#111"/>
<circle cx="211.51" cy="606.18" r="0.95" fill="#111"/>
<circle cx="210.85" cy="604.27" r="0.95" fill="#111"/>
<circle cx="210.31" cy="607.88" r="0.95" fill="#111"/>
<circle cx="211.74" cy="602.97" r="0.95" fill="#111"/>
<circle cx="211.57" cy="604.20" r="0.95" fill="#111"/>
<line x1="216.04" y1="514.20" x2="216.04" y2="518.20" stroke="#222" stroke-width="0.7" />
<line x1="214.84" y1="514.20" x2="217.24" y2="514.20" stroke="#222" stroke-width="0.7" />
<line x1="214.84" y1="518.20" x2="217.24" y2="518.20" stroke="#222" stroke-width="0.7" />
<path d="M214.32,522.82 L216.62,522.82 L215.47,520.75 Z" fill="#111"/>
<path d="M214.01,515.49 L216.31,515.49 L215.16,513.42 Z" fill="#111"/>
<path d="M214.12,510.82 L216.42,510.82 L215.27,508.75 Z" fill="#111"/>
<path d="M216.15,520.92 L218.45,520.92 L217.30,518.85 Z" fill="#111"/>
<path d="M213.90,514.52 L216.20,514.52 L215.05,512.45 Z" fill="#111"/>
<path d="M216.22,519.38 L218.52,519.38 L217.37,517.31 Z" fill="#111"/>
<line x1="222.55" y1="604.40" x2="222.55" y2="609.40" stroke="#222" stroke-width="0.7" />
<line x1="221.35" y1="604.40" x2="223.75" y2="604.40" stroke="#222" stroke-width="0.7" />
<line x1="221.35" y1="609.40" x2="223.75" y2="609.40" stroke="#222" stroke-width="0.7" />
<circle cx="221.55" cy="607.57" r="0.95" fill="#111"/>
<circle cx="222.25" cy="607.13" r="0.95" fill="#111"/>
<circle cx="223.66" cy="608.20" r="0.95" fill="#111"/>
<circle cx="223.76" cy="604.73" r="0.95" fill="#111"/>
<circle cx="222.07" cy="608.75" r="0.95" fill="#111"/>
<circle cx="223.24" cy="608.78" r="0.95" fill="#111"/>
<line x1="227.75" y1="566.70" x2="227.75" y2="570.70" stroke="#222" stroke-width="0.7" />
<line x1="226.55" y1="566.70" x2="228.95" y2="566.70" stroke="#222" stroke-width="0.7" />
<line x1="226.55" y1="570.70" x2="228.95" y2="570.70" stroke="#222" stroke-width="0.7" />
<path d="M227.06,566.24 L229.36,566.24 L228.21,564.17 Z" fill="#111"/>
<path d="M226.13,573.08 L228.43,573.08 L227.28,571.01 Z" fill="#111"/>
<path d="M225.67,573.79 L227.97,573.79 L226.82,571.72 Z" fill="#111"/>
<path d="M226.18,569.81 L228.48,569.81 L227.33,567.74 Z" fill="#111"/>
<path d="M227.88,578.94 L230.18,578.94 L229.03,576.87 Z" fill="#111"/>
<path d="M225.78,578.79 L228.08,578.79 L226.93,576.72 Z" fill="#111"/>
<circle cx="59.80" cy="498.80" r="0.95" fill="#111"/>
<circle cx="57.70" cy="502.60" r="0.95" fill="#111"/>
<circle cx="68.90" cy="538.20" r="0.95" fill="#111"/>
<circle cx="68.90" cy="542.20" r="0.95" fill="#111"/>
<circle cx="81.70" cy="535.90" r="0.95" fill="#111"/>
<circle cx="81.70" cy="539.10" r="0.95" fill="#111"/>
<circle cx="92.70" cy="544.00" r="0.95" fill="#111"/>
<circle cx="105.90" cy="546.90" r="0.95" fill="#111"/>
<text font-size="8.6" text-anchor="middle" textLength="123.60" lengthAdjust="spacing" transform="translate(16.00,552.90) rotate(-90)">Intracellular level (fmol per cell)</text>
<text font-size="8.6" text-anchor="middle" textLength="112.00" lengthAdjust="spacing" transform="translate(260.60,554.60) rotate(90)">Pool turnover rate (per min)</text>
<text x="283.00" y="477.00" font-size="12.5" font-weight="bold" fill="#000" style="stroke:#000;stroke-width:0.55px">e</text>
<text x="301.80" y="479.20" font-size="8.4" textLength="30.80" lengthAdjust="spacingAndGlyphs">SLC7A5</text>
<text x="301.80" y="489.20" font-size="8.4" textLength="31.00" lengthAdjust="spacingAndGlyphs">CRISPR:</text>
<text x="346.80" y="495.80" font-size="8.4" text-anchor="middle">i</text>
<text x="360.30" y="495.80" font-size="8.4" text-anchor="middle">a</text>
<line x1="339.00" y1="500.30" x2="368.30" y2="500.30" stroke="#707070" stroke-width="0.75" />
<line x1="346.80" y1="498.30" x2="346.80" y2="500.30" stroke="#707070" stroke-width="0.75" />
<line x1="360.30" y1="498.30" x2="360.30" y2="500.30" stroke="#707070" stroke-width="0.75" />
<line x1="368.30" y1="500.30" x2="368.30" y2="636.00" stroke="#707070" stroke-width="0.75" />
<line x1="368.30" y1="506.20" x2="370.50" y2="506.20" stroke="#707070" stroke-width="0.75" />
<text x="374.20" y="509.00" font-size="8.5" textLength="13.76" lengthAdjust="spacingAndGlyphs">Arg</text>
<line x1="368.30" y1="515.80" x2="370.50" y2="515.80" stroke="#707070" stroke-width="0.75" />
<text x="374.20" y="518.60" font-size="8.5" textLength="15.22" lengthAdjust="spacingAndGlyphs">Cys</text>
<rect x="341.20" y="520.60" width="13.75" height="9.65" fill="#eff2f9" />
<rect x="354.90" y="520.60" width="13.30" height="9.65" fill="#ffffff" />
<line x1="368.30" y1="525.40" x2="370.50" y2="525.40" stroke="#707070" stroke-width="0.75" />
<text x="374.20" y="528.20" font-size="8.5" textLength="13.76" lengthAdjust="spacingAndGlyphs">Gln</text>
<rect x="341.20" y="530.20" width="13.75" height="9.65" fill="#d45f14" />
<rect x="354.90" y="530.20" width="13.30" height="9.65" fill="#0a6bb0" />
<line x1="368.30" y1="535.00" x2="370.50" y2="535.00" stroke="#707070" stroke-width="0.75" />
<text x="374.20" y="537.80" font-size="8.5" textLength="12.77" lengthAdjust="spacingAndGlyphs">His</text>
<rect x="341.20" y="539.80" width="13.75" height="9.65" fill="#d45f14" />
<rect x="354.90" y="539.80" width="13.30" height="9.65" fill="#0a6bb0" />
<line x1="368.30" y1="544.60" x2="370.50" y2="544.60" stroke="#707070" stroke-width="0.75" />
<text x="374.20" y="547.40" font-size="8.5" textLength="9.34" lengthAdjust="spacingAndGlyphs">Ile</text>
<rect x="341.20" y="549.40" width="13.75" height="9.65" fill="#f2a57a" />
<rect x="354.90" y="549.40" width="13.30" height="9.65" fill="#0a6bb0" />
<line x1="368.30" y1="554.20" x2="370.50" y2="554.20" stroke="#707070" stroke-width="0.75" />
<text x="374.20" y="557.00" font-size="8.5" textLength="14.75" lengthAdjust="spacingAndGlyphs">Leu</text>
<line x1="368.30" y1="563.80" x2="370.50" y2="563.80" stroke="#707070" stroke-width="0.75" />
<text x="374.20" y="566.60" font-size="8.5" textLength="13.43" lengthAdjust="spacingAndGlyphs">Lys</text>
<rect x="341.20" y="568.60" width="13.75" height="9.65" fill="#d45f14" />
<rect x="354.90" y="568.60" width="13.30" height="9.65" fill="#0a6bb0" />
<line x1="368.30" y1="573.40" x2="370.50" y2="573.40" stroke="#707070" stroke-width="0.75" />
<text x="374.20" y="576.20" font-size="8.5" textLength="14.74" lengthAdjust="spacingAndGlyphs">Met</text>
<rect x="341.20" y="578.20" width="13.75" height="9.65" fill="#d45f14" />
<rect x="354.90" y="578.20" width="13.30" height="9.65" fill="#0a6bb0" />
<line x1="368.30" y1="583.00" x2="370.50" y2="583.00" stroke="#707070" stroke-width="0.75" />
<text x="374.20" y="585.80" font-size="8.5" textLength="15.73" lengthAdjust="spacingAndGlyphs">Phe</text>
<rect x="341.20" y="587.80" width="13.75" height="9.65" fill="#eef1f9" />
<rect x="354.90" y="587.80" width="13.30" height="9.65" fill="#ffffff" />
<line x1="368.30" y1="592.60" x2="370.50" y2="592.60" stroke="#707070" stroke-width="0.75" />
<text x="374.20" y="595.40" font-size="8.5" textLength="13.26" lengthAdjust="spacingAndGlyphs">Thr</text>
<rect x="341.20" y="597.40" width="13.75" height="9.65" fill="#d45f14" />
<rect x="354.90" y="597.40" width="13.30" height="9.65" fill="#0a6bb0" />
<line x1="368.30" y1="602.20" x2="370.50" y2="602.20" stroke="#707070" stroke-width="0.75" />
<text x="374.20" y="605.00" font-size="8.5" textLength="12.93" lengthAdjust="spacingAndGlyphs">Trp</text>
<rect x="341.20" y="607.00" width="13.75" height="9.65" fill="#d45f14" />
<rect x="354.90" y="607.00" width="13.30" height="9.65" fill="#0a6bb0" />
<line x1="368.30" y1="611.80" x2="370.50" y2="611.80" stroke="#707070" stroke-width="0.75" />
<text x="374.20" y="614.60" font-size="8.5" textLength="12.28" lengthAdjust="spacingAndGlyphs">Tyr</text>
<rect x="341.20" y="616.60" width="13.75" height="9.65" fill="#d45f14" />
<rect x="354.90" y="616.60" width="13.30" height="9.65" fill="#0a6bb0" />
<line x1="368.30" y1="621.40" x2="370.50" y2="621.40" stroke="#707070" stroke-width="0.75" />
<text x="374.20" y="624.20" font-size="8.5" textLength="12.12" lengthAdjust="spacingAndGlyphs">Val</text>
<line x1="368.30" y1="631.00" x2="370.50" y2="631.00" stroke="#707070" stroke-width="0.75" />
<text x="374.20" y="633.80" font-size="8.5" textLength="22.10" lengthAdjust="spacingAndGlyphs">RPMI</text>
<line x1="396.20" y1="503.00" x2="396.20" y2="623.00" stroke="#444" stroke-width="0.9" />
<text x="398.40" y="552.90" font-size="8.5" textLength="16.22" lengthAdjust="spacingAndGlyphs">Low</text>
<text x="398.40" y="563.30" font-size="8.5" textLength="24.08" lengthAdjust="spacingAndGlyphs">amino</text>
<text x="398.40" y="573.30" font-size="8.5" textLength="16.22" lengthAdjust="spacingAndGlyphs">acid</text>
<text x="398.40" y="583.70" font-size="8.5" textLength="31.44" lengthAdjust="spacingAndGlyphs">medium</text>
<defs><linearGradient id="cb2" x1="0" y1="0" x2="0" y2="1"><stop offset="0" stop-color="#1a69b0"/><stop offset="0.25" stop-color="#8aa9d6"/><stop offset="0.5" stop-color="#ffffff"/><stop offset="0.75" stop-color="#f2b18c"/><stop offset="1" stop-color="#d65a12"/></linearGradient></defs>
<rect x="303.90" y="589.00" width="13.30" height="45.60" fill="url(#cb2)" />
<line x1="303.90" y1="600.90" x2="305.60" y2="600.90" stroke="#ffffff" stroke-width="0.7" opacity="0.8"/>
<line x1="315.50" y1="600.90" x2="317.20" y2="600.90" stroke="#ffffff" stroke-width="0.7" opacity="0.8"/>
<line x1="303.90" y1="623.40" x2="305.60" y2="623.40" stroke="#ffffff" stroke-width="0.7" opacity="0.8"/>
<line x1="315.50" y1="623.40" x2="317.20" y2="623.40" stroke="#ffffff" stroke-width="0.7" opacity="0.8"/>
<text x="300.00" y="592.10" font-size="7.4" text-anchor="end" textLength="7.40" lengthAdjust="spacingAndGlyphs">&gt;2</text>
<text x="300.00" y="615.20" font-size="7.4" text-anchor="end" textLength="4.61" lengthAdjust="spacingAndGlyphs">0</text>
<text x="300.00" y="636.10" font-size="7.4" text-anchor="end" textLength="10.80" lengthAdjust="spacingAndGlyphs">&lt;−2</text>
<text x="305.00" y="574.70" font-size="8.5" text-anchor="middle" textLength="28.01" lengthAdjust="spacingAndGlyphs">Screen</text>
<text x="305.00" y="583.30" font-size="8.5" text-anchor="middle" textLength="24.07" lengthAdjust="spacingAndGlyphs">score:</text>
<text x="457.60" y="476.90" font-size="12.0" font-weight="bold" fill="#000" style="stroke:#000;stroke-width:0.55px">f</text>
<text x="487.40" y="480.10" font-size="8.5" textLength="67.60" lengthAdjust="spacingAndGlyphs">CRISPRi cell line:</text>
<rect x="562.20" y="473.80" width="6.60" height="6.60" fill="#6a6a6a" />
<text x="573.40" y="480.10" font-size="8.5" textLength="17.00" lengthAdjust="spacingAndGlyphs">NTC</text>
<rect x="603.90" y="473.80" width="7.00" height="6.60" fill="#0a9e72" />
<text x="614.90" y="480.10" font-size="8.5" textLength="31.60" lengthAdjust="spacingAndGlyphs">SLC7A5</text>
<line x1="486.80" y1="504.10" x2="486.80" y2="615.30" stroke="#707070" stroke-width="0.75" />
<line x1="484.60" y1="506.98" x2="486.80" y2="506.98" stroke="#707070" stroke-width="0.75" />
<text x="482.20" y="509.43" font-size="7.4" text-anchor="end" textLength="13.83" lengthAdjust="spacingAndGlyphs">300</text>
<line x1="484.60" y1="527.08" x2="486.80" y2="527.08" stroke="#707070" stroke-width="0.75" />
<text x="482.20" y="529.53" font-size="7.4" text-anchor="end" textLength="13.83" lengthAdjust="spacingAndGlyphs">100</text>
<line x1="484.60" y1="549.09" x2="486.80" y2="549.09" stroke="#707070" stroke-width="0.75" />
<text x="482.20" y="551.54" font-size="7.4" text-anchor="end" textLength="9.22" lengthAdjust="spacingAndGlyphs">30</text>
<line x1="484.60" y1="569.01" x2="486.80" y2="569.01" stroke="#707070" stroke-width="0.75" />
<text x="482.20" y="571.46" font-size="7.4" text-anchor="end" textLength="9.22" lengthAdjust="spacingAndGlyphs">10</text>
<line x1="484.60" y1="589.20" x2="486.80" y2="589.20" stroke="#707070" stroke-width="0.75" />
<text x="482.20" y="591.65" font-size="7.4" text-anchor="end" textLength="4.61" lengthAdjust="spacingAndGlyphs">3</text>
<line x1="484.60" y1="601.61" x2="486.80" y2="601.61" stroke="#707070" stroke-width="0.75" />
<text x="482.20" y="604.06" font-size="7.4" text-anchor="end" textLength="4.61" lengthAdjust="spacingAndGlyphs">1</text>
<line x1="484.60" y1="609.70" x2="486.80" y2="609.70" stroke="#707070" stroke-width="0.75" />
<text x="482.20" y="612.15" font-size="7.4" text-anchor="end" textLength="4.61" lengthAdjust="spacingAndGlyphs">0</text>
<line x1="486.80" y1="615.30" x2="518.00" y2="615.30" stroke="#707070" stroke-width="0.75" />
<line x1="488.30" y1="609.70" x2="517.00" y2="609.70" stroke="#b8b8b8" stroke-width="0.6" stroke-dasharray="0.8,1.2"/>
<line x1="520.20" y1="615.30" x2="550.50" y2="615.30" stroke="#707070" stroke-width="0.75" />
<line x1="521.70" y1="609.70" x2="549.50" y2="609.70" stroke="#b8b8b8" stroke-width="0.6" stroke-dasharray="0.8,1.2"/>
<line x1="553.10" y1="615.30" x2="583.80" y2="615.30" stroke="#707070" stroke-width="0.75" />
<line x1="554.60" y1="609.70" x2="582.80" y2="609.70" stroke="#b8b8b8" stroke-width="0.6" stroke-dasharray="0.8,1.2"/>
<line x1="586.90" y1="615.30" x2="616.90" y2="615.30" stroke="#707070" stroke-width="0.75" />
<line x1="588.40" y1="609.70" x2="615.90" y2="609.70" stroke="#b8b8b8" stroke-width="0.6" stroke-dasharray="0.8,1.2"/>
<line x1="620.20" y1="615.30" x2="650.30" y2="615.30" stroke="#707070" stroke-width="0.75" />
<line x1="621.70" y1="609.70" x2="649.30" y2="609.70" stroke="#b8b8b8" stroke-width="0.6" stroke-dasharray="0.8,1.2"/>
<line x1="653.30" y1="615.30" x2="684.00" y2="615.30" stroke="#707070" stroke-width="0.75" />
<line x1="654.80" y1="609.70" x2="683.00" y2="609.70" stroke="#b8b8b8" stroke-width="0.6" stroke-dasharray="0.8,1.2"/>
<rect x="490.00" y="514.10" width="5.50" height="95.60" fill="#6a6a6a" />
<line x1="492.75" y1="511.10" x2="492.75" y2="515.60" stroke="#333" stroke-width="0.7" />
<line x1="491.05" y1="511.10" x2="494.45" y2="511.10" stroke="#333" stroke-width="0.7" />
<line x1="491.05" y1="515.60" x2="494.45" y2="515.60" stroke="#333" stroke-width="0.7" />
<rect x="496.20" y="542.10" width="5.50" height="67.60" fill="#0a9e72" />
<line x1="498.95" y1="540.10" x2="498.95" y2="543.60" stroke="#333" stroke-width="0.7" />
<line x1="497.25" y1="540.10" x2="500.65" y2="540.10" stroke="#333" stroke-width="0.7" />
<line x1="497.25" y1="543.60" x2="500.65" y2="543.60" stroke="#333" stroke-width="0.7" />
<rect x="503.70" y="592.60" width="5.50" height="17.10" fill="#6a6a6a" />
<line x1="506.45" y1="589.10" x2="506.45" y2="594.10" stroke="#333" stroke-width="0.7" />
<line x1="504.75" y1="589.10" x2="508.15" y2="589.10" stroke="#333" stroke-width="0.7" />
<line x1="504.75" y1="594.10" x2="508.15" y2="594.10" stroke="#333" stroke-width="0.7" />
<rect x="509.80" y="606.90" width="5.50" height="2.80" fill="#0a9e72" />
<line x1="512.55" y1="605.40" x2="512.55" y2="608.40" stroke="#333" stroke-width="0.7" />
<line x1="510.85" y1="605.40" x2="514.25" y2="605.40" stroke="#333" stroke-width="0.7" />
<line x1="510.85" y1="608.40" x2="514.25" y2="608.40" stroke="#333" stroke-width="0.7" />
<text x="502.50" y="501.00" font-size="8.5" text-anchor="middle" textLength="14.75" lengthAdjust="spacingAndGlyphs">Leu</text>
<line x1="495.80" y1="615.30" x2="495.80" y2="617.30" stroke="#707070" stroke-width="0.75" />
<line x1="509.60" y1="615.30" x2="509.60" y2="617.30" stroke="#707070" stroke-width="0.75" />
<line x1="494.30" y1="623.70" x2="497.30" y2="623.70" stroke="#222" stroke-width="0.8" />
<line x1="495.80" y1="622.20" x2="495.80" y2="625.20" stroke="#222" stroke-width="0.8" />
<line x1="508.10" y1="632.60" x2="511.10" y2="632.60" stroke="#222" stroke-width="0.8" />
<line x1="509.60" y1="631.10" x2="509.60" y2="634.10" stroke="#222" stroke-width="0.8" />
<rect x="523.15" y="529.80" width="5.50" height="79.90" fill="#6a6a6a" />
<line x1="525.90" y1="528.60" x2="525.90" y2="531.00" stroke="#333" stroke-width="0.7" />
<line x1="524.20" y1="528.60" x2="527.60" y2="528.60" stroke="#333" stroke-width="0.7" />
<line x1="524.20" y1="531.00" x2="527.60" y2="531.00" stroke="#333" stroke-width="0.7" />
<rect x="529.35" y="571.20" width="5.50" height="38.50" fill="#0a9e72" />
<line x1="532.10" y1="569.40" x2="532.10" y2="572.70" stroke="#333" stroke-width="0.7" />
<line x1="530.40" y1="569.40" x2="533.80" y2="569.40" stroke="#333" stroke-width="0.7" />
<line x1="530.40" y1="572.70" x2="533.80" y2="572.70" stroke="#333" stroke-width="0.7" />
<rect x="536.85" y="523.70" width="5.50" height="86.00" fill="#6a6a6a" />
<line x1="539.60" y1="517.70" x2="539.60" y2="525.20" stroke="#333" stroke-width="0.7" />
<line x1="537.90" y1="517.70" x2="541.30" y2="517.70" stroke="#333" stroke-width="0.7" />
<line x1="537.90" y1="525.20" x2="541.30" y2="525.20" stroke="#333" stroke-width="0.7" />
<rect x="542.95" y="566.30" width="5.50" height="43.40" fill="#0a9e72" />
<line x1="545.70" y1="563.80" x2="545.70" y2="567.80" stroke="#333" stroke-width="0.7" />
<line x1="544.00" y1="563.80" x2="547.40" y2="563.80" stroke="#333" stroke-width="0.7" />
<line x1="544.00" y1="567.80" x2="547.40" y2="567.80" stroke="#333" stroke-width="0.7" />
<text x="535.65" y="501.00" font-size="8.5" text-anchor="middle" textLength="15.73" lengthAdjust="spacingAndGlyphs">Phe</text>
<line x1="528.95" y1="615.30" x2="528.95" y2="617.30" stroke="#707070" stroke-width="0.75" />
<line x1="542.75" y1="615.30" x2="542.75" y2="617.30" stroke="#707070" stroke-width="0.75" />
<line x1="527.45" y1="623.70" x2="530.45" y2="623.70" stroke="#222" stroke-width="0.8" />
<line x1="528.95" y1="622.20" x2="528.95" y2="625.20" stroke="#222" stroke-width="0.8" />
<line x1="541.25" y1="632.60" x2="544.25" y2="632.60" stroke="#222" stroke-width="0.8" />
<line x1="542.75" y1="631.10" x2="542.75" y2="634.10" stroke="#222" stroke-width="0.8" />
<rect x="556.30" y="532.00" width="5.50" height="77.70" fill="#6a6a6a" />
<line x1="559.05" y1="529.00" x2="559.05" y2="533.50" stroke="#333" stroke-width="0.7" />
<line x1="557.35" y1="529.00" x2="560.75" y2="529.00" stroke="#333" stroke-width="0.7" />
<line x1="557.35" y1="533.50" x2="560.75" y2="533.50" stroke="#333" stroke-width="0.7" />
<rect x="562.50" y="554.90" width="5.50" height="54.80" fill="#0a9e72" />
<line x1="565.25" y1="552.40" x2="565.25" y2="556.40" stroke="#333" stroke-width="0.7" />
<line x1="563.55" y1="552.40" x2="566.95" y2="552.40" stroke="#333" stroke-width="0.7" />
<line x1="563.55" y1="556.40" x2="566.95" y2="556.40" stroke="#333" stroke-width="0.7" />
<rect x="570.00" y="524.60" width="5.50" height="85.10" fill="#6a6a6a" />
<line x1="572.75" y1="521.60" x2="572.75" y2="526.10" stroke="#333" stroke-width="0.7" />
<line x1="571.05" y1="521.60" x2="574.45" y2="521.60" stroke="#333" stroke-width="0.7" />
<line x1="571.05" y1="526.10" x2="574.45" y2="526.10" stroke="#333" stroke-width="0.7" />
<rect x="576.10" y="547.40" width="5.50" height="62.30" fill="#0a9e72" />
<line x1="578.85" y1="544.90" x2="578.85" y2="548.90" stroke="#333" stroke-width="0.7" />
<line x1="577.15" y1="544.90" x2="580.55" y2="544.90" stroke="#333" stroke-width="0.7" />
<line x1="577.15" y1="548.90" x2="580.55" y2="548.90" stroke="#333" stroke-width="0.7" />
<text x="568.80" y="501.00" font-size="8.5" text-anchor="middle" textLength="9.34" lengthAdjust="spacingAndGlyphs">Ile</text>
<line x1="562.10" y1="615.30" x2="562.10" y2="617.30" stroke="#707070" stroke-width="0.75" />
<line x1="575.90" y1="615.30" x2="575.90" y2="617.30" stroke="#707070" stroke-width="0.75" />
<line x1="560.60" y1="623.70" x2="563.60" y2="623.70" stroke="#222" stroke-width="0.8" />
<line x1="562.10" y1="622.20" x2="562.10" y2="625.20" stroke="#222" stroke-width="0.8" />
<line x1="574.40" y1="632.60" x2="577.40" y2="632.60" stroke="#222" stroke-width="0.8" />
<line x1="575.90" y1="631.10" x2="575.90" y2="634.10" stroke="#222" stroke-width="0.8" />
<rect x="589.45" y="543.90" width="5.50" height="65.80" fill="#6a6a6a" />
<line x1="592.20" y1="542.10" x2="592.20" y2="545.40" stroke="#333" stroke-width="0.7" />
<line x1="590.50" y1="542.10" x2="593.90" y2="542.10" stroke="#333" stroke-width="0.7" />
<line x1="590.50" y1="545.40" x2="593.90" y2="545.40" stroke="#333" stroke-width="0.7" />
<rect x="595.65" y="601.10" width="5.50" height="8.60" fill="#0a9e72" />
<line x1="598.40" y1="599.10" x2="598.40" y2="602.60" stroke="#333" stroke-width="0.7" />
<line x1="596.70" y1="599.10" x2="600.10" y2="599.10" stroke="#333" stroke-width="0.7" />
<line x1="596.70" y1="602.60" x2="600.10" y2="602.60" stroke="#333" stroke-width="0.7" />
<rect x="603.15" y="534.50" width="5.50" height="75.20" fill="#6a6a6a" />
<line x1="605.90" y1="531.50" x2="605.90" y2="536.00" stroke="#333" stroke-width="0.7" />
<line x1="604.20" y1="531.50" x2="607.60" y2="531.50" stroke="#333" stroke-width="0.7" />
<line x1="604.20" y1="536.00" x2="607.60" y2="536.00" stroke="#333" stroke-width="0.7" />
<rect x="609.25" y="579.00" width="5.50" height="30.70" fill="#0a9e72" />
<line x1="612.00" y1="576.00" x2="612.00" y2="580.50" stroke="#333" stroke-width="0.7" />
<line x1="610.30" y1="576.00" x2="613.70" y2="576.00" stroke="#333" stroke-width="0.7" />
<line x1="610.30" y1="580.50" x2="613.70" y2="580.50" stroke="#333" stroke-width="0.7" />
<text x="601.95" y="501.00" font-size="8.5" text-anchor="middle" textLength="12.28" lengthAdjust="spacingAndGlyphs">Tyr</text>
<line x1="595.25" y1="615.30" x2="595.25" y2="617.30" stroke="#707070" stroke-width="0.75" />
<line x1="609.05" y1="615.30" x2="609.05" y2="617.30" stroke="#707070" stroke-width="0.75" />
<line x1="593.75" y1="623.70" x2="596.75" y2="623.70" stroke="#222" stroke-width="0.8" />
<line x1="595.25" y1="622.20" x2="595.25" y2="625.20" stroke="#222" stroke-width="0.8" />
<line x1="607.55" y1="632.60" x2="610.55" y2="632.60" stroke="#222" stroke-width="0.8" />
<line x1="609.05" y1="631.10" x2="609.05" y2="634.10" stroke="#222" stroke-width="0.8" />
<rect x="622.60" y="561.70" width="5.50" height="48.00" fill="#6a6a6a" />
<line x1="625.35" y1="556.20" x2="625.35" y2="563.20" stroke="#333" stroke-width="0.7" />
<line x1="623.65" y1="556.20" x2="627.05" y2="556.20" stroke="#333" stroke-width="0.7" />
<line x1="623.65" y1="563.20" x2="627.05" y2="563.20" stroke="#333" stroke-width="0.7" />
<rect x="628.80" y="601.90" width="5.50" height="7.80" fill="#0a9e72" />
<line x1="631.55" y1="599.90" x2="631.55" y2="603.40" stroke="#333" stroke-width="0.7" />
<line x1="629.85" y1="599.90" x2="633.25" y2="599.90" stroke="#333" stroke-width="0.7" />
<line x1="629.85" y1="603.40" x2="633.25" y2="603.40" stroke="#333" stroke-width="0.7" />
<rect x="636.30" y="556.20" width="5.50" height="53.50" fill="#6a6a6a" />
<line x1="639.05" y1="553.20" x2="639.05" y2="557.70" stroke="#333" stroke-width="0.7" />
<line x1="637.35" y1="553.20" x2="640.75" y2="553.20" stroke="#333" stroke-width="0.7" />
<line x1="637.35" y1="557.70" x2="640.75" y2="557.70" stroke="#333" stroke-width="0.7" />
<rect x="642.40" y="579.00" width="5.50" height="30.70" fill="#0a9e72" />
<line x1="645.15" y1="576.00" x2="645.15" y2="580.50" stroke="#333" stroke-width="0.7" />
<line x1="643.45" y1="576.00" x2="646.85" y2="576.00" stroke="#333" stroke-width="0.7" />
<line x1="643.45" y1="580.50" x2="646.85" y2="580.50" stroke="#333" stroke-width="0.7" />
<text x="635.10" y="501.00" font-size="8.5" text-anchor="middle" textLength="12.12" lengthAdjust="spacingAndGlyphs">Val</text>
<line x1="628.40" y1="615.30" x2="628.40" y2="617.30" stroke="#707070" stroke-width="0.75" />
<line x1="642.20" y1="615.30" x2="642.20" y2="617.30" stroke="#707070" stroke-width="0.75" />
<line x1="626.90" y1="623.70" x2="629.90" y2="623.70" stroke="#222" stroke-width="0.8" />
<line x1="628.40" y1="622.20" x2="628.40" y2="625.20" stroke="#222" stroke-width="0.8" />
<line x1="640.70" y1="632.60" x2="643.70" y2="632.60" stroke="#222" stroke-width="0.8" />
<line x1="642.20" y1="631.10" x2="642.20" y2="634.10" stroke="#222" stroke-width="0.8" />
<rect x="655.75" y="562.70" width="5.50" height="47.00" fill="#6a6a6a" />
<line x1="658.50" y1="557.70" x2="658.50" y2="564.20" stroke="#333" stroke-width="0.7" />
<line x1="656.80" y1="557.70" x2="660.20" y2="557.70" stroke="#333" stroke-width="0.7" />
<line x1="656.80" y1="564.20" x2="660.20" y2="564.20" stroke="#333" stroke-width="0.7" />
<rect x="661.95" y="599.10" width="5.50" height="10.60" fill="#0a9e72" />
<line x1="664.70" y1="597.50" x2="664.70" y2="600.60" stroke="#333" stroke-width="0.7" />
<line x1="663.00" y1="597.50" x2="666.40" y2="597.50" stroke="#333" stroke-width="0.7" />
<line x1="663.00" y1="600.60" x2="666.40" y2="600.60" stroke="#333" stroke-width="0.7" />
<rect x="669.45" y="552.10" width="5.50" height="57.60" fill="#6a6a6a" />
<line x1="672.20" y1="549.60" x2="672.20" y2="553.60" stroke="#333" stroke-width="0.7" />
<line x1="670.50" y1="549.60" x2="673.90" y2="549.60" stroke="#333" stroke-width="0.7" />
<line x1="670.50" y1="553.60" x2="673.90" y2="553.60" stroke="#333" stroke-width="0.7" />
<rect x="675.55" y="581.50" width="5.50" height="28.20" fill="#0a9e72" />
<line x1="678.30" y1="580.50" x2="678.30" y2="582.50" stroke="#333" stroke-width="0.7" />
<line x1="676.60" y1="580.50" x2="680.00" y2="580.50" stroke="#333" stroke-width="0.7" />
<line x1="676.60" y1="582.50" x2="680.00" y2="582.50" stroke="#333" stroke-width="0.7" />
<text x="668.25" y="501.00" font-size="8.5" text-anchor="middle" textLength="12.77" lengthAdjust="spacingAndGlyphs">His</text>
<line x1="661.55" y1="615.30" x2="661.55" y2="617.30" stroke="#707070" stroke-width="0.75" />
<line x1="675.35" y1="615.30" x2="675.35" y2="617.30" stroke="#707070" stroke-width="0.75" />
<line x1="660.05" y1="623.70" x2="663.05" y2="623.70" stroke="#222" stroke-width="0.8" />
<line x1="661.55" y1="622.20" x2="661.55" y2="625.20" stroke="#222" stroke-width="0.8" />
<line x1="673.85" y1="632.60" x2="676.85" y2="632.60" stroke="#222" stroke-width="0.8" />
<line x1="675.35" y1="631.10" x2="675.35" y2="634.10" stroke="#222" stroke-width="0.8" />
<text x="487.90" y="626.40" font-size="8.5" text-anchor="end" textLength="24.56" lengthAdjust="spacingAndGlyphs">RPMI:</text>
<text x="487.90" y="635.30" font-size="8.5" text-anchor="end" textLength="35.88" lengthAdjust="spacingAndGlyphs">Low Leu:</text>
<text font-size="8.6" text-anchor="middle" textLength="113.00" lengthAdjust="spacing" transform="translate(461.80,557.50) rotate(-90)">Import rate (fmol h<tspan font-size="5.8" dy="-3.4">−1</tspan><tspan dy="3.4"> per cell)</tspan></text>
<text x="-0.60" y="664.80" font-size="12.0" font-weight="bold" fill="#000" style="stroke:#000;stroke-width:0.55px">g</text>
<text x="64.20" y="667.70" font-size="8.5" textLength="68.30" lengthAdjust="spacingAndGlyphs">CRISPRi cell line:</text>
<rect x="142.10" y="661.40" width="7.10" height="7.20" fill="#6a6a6a" />
<text x="154.00" y="667.70" font-size="8.5" textLength="16.80" lengthAdjust="spacingAndGlyphs">NTC</text>
<rect x="142.10" y="674.50" width="7.10" height="7.20" fill="#0a9e72" />
<text x="154.00" y="680.80" font-size="8.5" textLength="30.80" lengthAdjust="spacingAndGlyphs">SLC7A5</text>
<line x1="49.50" y1="675.50" x2="49.50" y2="799.20" stroke="#707070" stroke-width="0.75" />
<line x1="49.50" y1="799.20" x2="202.30" y2="799.20" stroke="#707070" stroke-width="0.75" />
<line x1="47.30" y1="681.57" x2="49.50" y2="681.57" stroke="#707070" stroke-width="0.75" />
<text x="44.10" y="684.02" font-size="7.4" text-anchor="end" textLength="9.22" lengthAdjust="spacingAndGlyphs">30</text>
<line x1="47.30" y1="699.45" x2="49.50" y2="699.45" stroke="#707070" stroke-width="0.75" />
<text x="44.10" y="701.90" font-size="7.4" text-anchor="end" textLength="9.22" lengthAdjust="spacingAndGlyphs">10</text>
<line x1="47.30" y1="717.83" x2="49.50" y2="717.83" stroke="#707070" stroke-width="0.75" />
<text x="44.10" y="720.28" font-size="7.4" text-anchor="end" textLength="4.61" lengthAdjust="spacingAndGlyphs">3</text>
<line x1="47.30" y1="737.70" x2="49.50" y2="737.70" stroke="#707070" stroke-width="0.75" />
<text x="44.10" y="740.15" font-size="7.4" text-anchor="end" textLength="4.61" lengthAdjust="spacingAndGlyphs">0</text>
<line x1="47.30" y1="757.57" x2="49.50" y2="757.57" stroke="#707070" stroke-width="0.75" />
<text x="44.10" y="760.02" font-size="7.4" text-anchor="end" textLength="7.70" lengthAdjust="spacingAndGlyphs">−3</text>
<line x1="47.30" y1="775.95" x2="49.50" y2="775.95" stroke="#707070" stroke-width="0.75" />
<text x="44.10" y="778.40" font-size="7.4" text-anchor="end" textLength="11.60" lengthAdjust="spacingAndGlyphs">−10</text>
<line x1="47.30" y1="793.83" x2="49.50" y2="793.83" stroke="#707070" stroke-width="0.75" />
<text x="44.10" y="796.28" font-size="7.4" text-anchor="end" textLength="13.20" lengthAdjust="spacingAndGlyphs">−30</text>
<rect x="51.40" y="693.50" width="4.90" height="44.00" fill="#6a6a6a" />
<line x1="53.85" y1="691.90" x2="53.85" y2="694.50" stroke="#333" stroke-width="0.65" />
<line x1="52.35" y1="691.90" x2="55.35" y2="691.90" stroke="#333" stroke-width="0.65" />
<line x1="52.35" y1="694.50" x2="55.35" y2="694.50" stroke="#333" stroke-width="0.65" />
<rect x="56.90" y="691.90" width="4.90" height="45.60" fill="#0a9e72" />
<line x1="59.35" y1="690.30" x2="59.35" y2="692.90" stroke="#333" stroke-width="0.65" />
<line x1="57.85" y1="690.30" x2="60.85" y2="690.30" stroke="#333" stroke-width="0.65" />
<line x1="57.85" y1="692.90" x2="60.85" y2="692.90" stroke="#333" stroke-width="0.65" />
<line x1="56.70" y1="799.20" x2="56.70" y2="801.20" stroke="#707070" stroke-width="0.75" />
<text font-size="8.5" text-anchor="end" textLength="13.76" lengthAdjust="spacingAndGlyphs" transform="translate(59.40,804.60) rotate(-90)">Ser</text>
<rect x="63.97" y="698.50" width="4.90" height="39.00" fill="#6a6a6a" />
<line x1="66.42" y1="696.90" x2="66.42" y2="699.50" stroke="#333" stroke-width="0.65" />
<line x1="64.92" y1="696.90" x2="67.92" y2="696.90" stroke="#333" stroke-width="0.65" />
<line x1="64.92" y1="699.50" x2="67.92" y2="699.50" stroke="#333" stroke-width="0.65" />
<rect x="69.47" y="696.40" width="4.90" height="41.10" fill="#0a9e72" />
<line x1="71.92" y1="694.80" x2="71.92" y2="697.40" stroke="#333" stroke-width="0.65" />
<line x1="70.42" y1="694.80" x2="73.42" y2="694.80" stroke="#333" stroke-width="0.65" />
<line x1="70.42" y1="697.40" x2="73.42" y2="697.40" stroke="#333" stroke-width="0.65" />
<line x1="69.27" y1="799.20" x2="69.27" y2="801.20" stroke="#707070" stroke-width="0.75" />
<text font-size="8.5" text-anchor="end" textLength="14.75" lengthAdjust="spacingAndGlyphs" transform="translate(71.97,804.60) rotate(-90)">Leu</text>
<rect x="76.54" y="700.40" width="4.90" height="37.10" fill="#6a6a6a" />
<line x1="78.99" y1="698.80" x2="78.99" y2="701.40" stroke="#333" stroke-width="0.65" />
<line x1="77.49" y1="698.80" x2="80.49" y2="698.80" stroke="#333" stroke-width="0.65" />
<line x1="77.49" y1="701.40" x2="80.49" y2="701.40" stroke="#333" stroke-width="0.65" />
<rect x="82.04" y="698.00" width="4.90" height="39.50" fill="#0a9e72" />
<line x1="84.49" y1="696.40" x2="84.49" y2="699.00" stroke="#333" stroke-width="0.65" />
<line x1="82.99" y1="696.40" x2="85.99" y2="696.40" stroke="#333" stroke-width="0.65" />
<line x1="82.99" y1="699.00" x2="85.99" y2="699.00" stroke="#333" stroke-width="0.65" />
<line x1="81.84" y1="799.20" x2="81.84" y2="801.20" stroke="#707070" stroke-width="0.75" />
<text font-size="8.5" text-anchor="end" textLength="9.34" lengthAdjust="spacingAndGlyphs" transform="translate(84.54,804.60) rotate(-90)">Ile</text>
<rect x="89.11" y="708.10" width="4.90" height="29.40" fill="#6a6a6a" />
<line x1="91.56" y1="706.50" x2="91.56" y2="709.10" stroke="#333" stroke-width="0.65" />
<line x1="90.06" y1="706.50" x2="93.06" y2="706.50" stroke="#333" stroke-width="0.65" />
<line x1="90.06" y1="709.10" x2="93.06" y2="709.10" stroke="#333" stroke-width="0.65" />
<rect x="94.61" y="706.30" width="4.90" height="31.20" fill="#0a9e72" />
<line x1="97.06" y1="704.70" x2="97.06" y2="707.30" stroke="#333" stroke-width="0.65" />
<line x1="95.56" y1="704.70" x2="98.56" y2="704.70" stroke="#333" stroke-width="0.65" />
<line x1="95.56" y1="707.30" x2="98.56" y2="707.30" stroke="#333" stroke-width="0.65" />
<line x1="94.41" y1="799.20" x2="94.41" y2="801.20" stroke="#707070" stroke-width="0.75" />
<text font-size="8.5" text-anchor="end" textLength="12.12" lengthAdjust="spacingAndGlyphs" transform="translate(97.11,804.60) rotate(-90)">Val</text>
<rect x="101.68" y="710.20" width="4.90" height="27.30" fill="#6a6a6a" />
<line x1="104.13" y1="708.60" x2="104.13" y2="711.20" stroke="#333" stroke-width="0.65" />
<line x1="102.63" y1="708.60" x2="105.63" y2="708.60" stroke="#333" stroke-width="0.65" />
<line x1="102.63" y1="711.20" x2="105.63" y2="711.20" stroke="#333" stroke-width="0.65" />
<rect x="107.18" y="714.50" width="4.90" height="23.00" fill="#0a9e72" />
<line x1="109.63" y1="712.90" x2="109.63" y2="715.50" stroke="#333" stroke-width="0.65" />
<line x1="108.13" y1="712.90" x2="111.13" y2="712.90" stroke="#333" stroke-width="0.65" />
<line x1="108.13" y1="715.50" x2="111.13" y2="715.50" stroke="#333" stroke-width="0.65" />
<line x1="106.98" y1="799.20" x2="106.98" y2="801.20" stroke="#707070" stroke-width="0.75" />
<text font-size="8.5" text-anchor="end" textLength="13.26" lengthAdjust="spacingAndGlyphs" transform="translate(109.68,804.60) rotate(-90)">Thr</text>
<rect x="114.25" y="715.70" width="4.90" height="21.80" fill="#6a6a6a" />
<line x1="116.70" y1="714.10" x2="116.70" y2="716.70" stroke="#333" stroke-width="0.65" />
<line x1="115.20" y1="714.10" x2="118.20" y2="714.10" stroke="#333" stroke-width="0.65" />
<line x1="115.20" y1="716.70" x2="118.20" y2="716.70" stroke="#333" stroke-width="0.65" />
<rect x="119.75" y="710.20" width="4.90" height="27.30" fill="#0a9e72" />
<line x1="122.20" y1="708.60" x2="122.20" y2="711.20" stroke="#333" stroke-width="0.65" />
<line x1="120.70" y1="708.60" x2="123.70" y2="708.60" stroke="#333" stroke-width="0.65" />
<line x1="120.70" y1="711.20" x2="123.70" y2="711.20" stroke="#333" stroke-width="0.65" />
<line x1="119.55" y1="799.20" x2="119.55" y2="801.20" stroke="#707070" stroke-width="0.75" />
<text font-size="8.5" text-anchor="end" textLength="13.43" lengthAdjust="spacingAndGlyphs" transform="translate(122.25,804.60) rotate(-90)">Lys</text>
<rect x="126.82" y="721.80" width="4.90" height="15.70" fill="#6a6a6a" />
<line x1="129.27" y1="720.20" x2="129.27" y2="722.80" stroke="#333" stroke-width="0.65" />
<line x1="127.77" y1="720.20" x2="130.77" y2="720.20" stroke="#333" stroke-width="0.65" />
<line x1="127.77" y1="722.80" x2="130.77" y2="722.80" stroke="#333" stroke-width="0.65" />
<rect x="132.32" y="720.10" width="4.90" height="17.40" fill="#0a9e72" />
<line x1="134.77" y1="718.50" x2="134.77" y2="721.10" stroke="#333" stroke-width="0.65" />
<line x1="133.27" y1="718.50" x2="136.27" y2="718.50" stroke="#333" stroke-width="0.65" />
<line x1="133.27" y1="721.10" x2="136.27" y2="721.10" stroke="#333" stroke-width="0.65" />
<line x1="132.12" y1="799.20" x2="132.12" y2="801.20" stroke="#707070" stroke-width="0.75" />
<text font-size="8.5" text-anchor="end" textLength="15.73" lengthAdjust="spacingAndGlyphs" transform="translate(134.82,804.60) rotate(-90)">Phe</text>
<rect x="139.39" y="726.60" width="4.90" height="10.90" fill="#6a6a6a" />
<line x1="141.84" y1="725.00" x2="141.84" y2="727.60" stroke="#333" stroke-width="0.65" />
<line x1="140.34" y1="725.00" x2="143.34" y2="725.00" stroke="#333" stroke-width="0.65" />
<line x1="140.34" y1="727.60" x2="143.34" y2="727.60" stroke="#333" stroke-width="0.65" />
<rect x="144.89" y="723.00" width="4.90" height="14.50" fill="#0a9e72" />
<line x1="147.34" y1="721.40" x2="147.34" y2="724.00" stroke="#333" stroke-width="0.65" />
<line x1="145.84" y1="721.40" x2="148.84" y2="721.40" stroke="#333" stroke-width="0.65" />
<line x1="145.84" y1="724.00" x2="148.84" y2="724.00" stroke="#333" stroke-width="0.65" />
<line x1="144.69" y1="799.20" x2="144.69" y2="801.20" stroke="#707070" stroke-width="0.75" />
<text font-size="8.5" text-anchor="end" textLength="12.28" lengthAdjust="spacingAndGlyphs" transform="translate(147.39,804.60) rotate(-90)">Tyr</text>
<rect x="151.96" y="737.50" width="4.90" height="15.60" fill="#6a6a6a" />
<line x1="154.41" y1="752.10" x2="154.41" y2="754.70" stroke="#333" stroke-width="0.65" />
<line x1="152.91" y1="752.10" x2="155.91" y2="752.10" stroke="#333" stroke-width="0.65" />
<line x1="152.91" y1="754.70" x2="155.91" y2="754.70" stroke="#333" stroke-width="0.65" />
<rect x="157.46" y="737.50" width="4.90" height="11.20" fill="#0a9e72" />
<line x1="159.91" y1="747.70" x2="159.91" y2="750.30" stroke="#333" stroke-width="0.65" />
<line x1="158.41" y1="747.70" x2="161.41" y2="747.70" stroke="#333" stroke-width="0.65" />
<line x1="158.41" y1="750.30" x2="161.41" y2="750.30" stroke="#333" stroke-width="0.65" />
<line x1="157.26" y1="799.20" x2="157.26" y2="801.20" stroke="#707070" stroke-width="0.75" />
<text font-size="8.5" text-anchor="end" textLength="15.23" lengthAdjust="spacingAndGlyphs" transform="translate(159.96,804.60) rotate(-90)">Asp</text>
<rect x="164.53" y="737.50" width="4.90" height="26.00" fill="#6a6a6a" />
<line x1="166.98" y1="762.50" x2="166.98" y2="765.10" stroke="#333" stroke-width="0.65" />
<line x1="165.48" y1="762.50" x2="168.48" y2="762.50" stroke="#333" stroke-width="0.65" />
<line x1="165.48" y1="765.10" x2="168.48" y2="765.10" stroke="#333" stroke-width="0.65" />
<rect x="170.03" y="737.50" width="4.90" height="22.50" fill="#0a9e72" />
<line x1="172.48" y1="759.00" x2="172.48" y2="761.60" stroke="#333" stroke-width="0.65" />
<line x1="170.98" y1="759.00" x2="173.98" y2="759.00" stroke="#333" stroke-width="0.65" />
<line x1="170.98" y1="761.60" x2="173.98" y2="761.60" stroke="#333" stroke-width="0.65" />
<line x1="169.83" y1="799.20" x2="169.83" y2="801.20" stroke="#707070" stroke-width="0.75" />
<text font-size="8.5" text-anchor="end" textLength="13.26" lengthAdjust="spacingAndGlyphs" transform="translate(172.53,804.60) rotate(-90)">Gly</text>
<rect x="177.10" y="737.50" width="4.90" height="26.80" fill="#6a6a6a" />
<line x1="179.55" y1="763.30" x2="179.55" y2="765.90" stroke="#333" stroke-width="0.65" />
<line x1="178.05" y1="763.30" x2="181.05" y2="763.30" stroke="#333" stroke-width="0.65" />
<line x1="178.05" y1="765.90" x2="181.05" y2="765.90" stroke="#333" stroke-width="0.65" />
<rect x="182.60" y="737.50" width="4.90" height="20.40" fill="#0a9e72" />
<line x1="185.05" y1="756.90" x2="185.05" y2="759.50" stroke="#333" stroke-width="0.65" />
<line x1="183.55" y1="756.90" x2="186.55" y2="756.90" stroke="#333" stroke-width="0.65" />
<line x1="183.55" y1="759.50" x2="186.55" y2="759.50" stroke="#333" stroke-width="0.65" />
<line x1="182.40" y1="799.20" x2="182.40" y2="801.20" stroke="#707070" stroke-width="0.75" />
<text font-size="8.5" text-anchor="end" textLength="13.76" lengthAdjust="spacingAndGlyphs" transform="translate(185.10,804.60) rotate(-90)">Pro</text>
<rect x="189.67" y="737.50" width="4.90" height="44.00" fill="#6a6a6a" />
<line x1="192.12" y1="780.50" x2="192.12" y2="783.10" stroke="#333" stroke-width="0.65" />
<line x1="190.62" y1="780.50" x2="193.62" y2="780.50" stroke="#333" stroke-width="0.65" />
<line x1="190.62" y1="783.10" x2="193.62" y2="783.10" stroke="#333" stroke-width="0.65" />
<rect x="195.17" y="737.50" width="4.90" height="42.40" fill="#0a9e72" />
<line x1="197.62" y1="778.90" x2="197.62" y2="781.50" stroke="#333" stroke-width="0.65" />
<line x1="196.12" y1="778.90" x2="199.12" y2="778.90" stroke="#333" stroke-width="0.65" />
<line x1="196.12" y1="781.50" x2="199.12" y2="781.50" stroke="#333" stroke-width="0.65" />
<line x1="194.97" y1="799.20" x2="194.97" y2="801.20" stroke="#707070" stroke-width="0.75" />
<text font-size="8.5" text-anchor="end" textLength="13.76" lengthAdjust="spacingAndGlyphs" transform="translate(197.67,804.60) rotate(-90)">Glu</text>
<line x1="49.50" y1="737.50" x2="201.80" y2="737.50" stroke="#444" stroke-width="0.8" />
<line x1="179.60" y1="755.00" x2="179.60" y2="771.50" stroke="#333" stroke-width="0.65" />
<line x1="178.10" y1="755.00" x2="181.10" y2="755.00" stroke="#333" stroke-width="0.65" />
<line x1="178.10" y1="771.50" x2="181.10" y2="771.50" stroke="#333" stroke-width="0.65" />
<line x1="185.40" y1="750.00" x2="185.40" y2="764.00" stroke="#333" stroke-width="0.65" />
<line x1="183.90" y1="750.00" x2="186.90" y2="750.00" stroke="#333" stroke-width="0.65" />
<line x1="183.90" y1="764.00" x2="186.90" y2="764.00" stroke="#333" stroke-width="0.65" />
<line x1="172.60" y1="755.00" x2="172.60" y2="765.00" stroke="#333" stroke-width="0.65" />
<line x1="171.10" y1="755.00" x2="174.10" y2="755.00" stroke="#333" stroke-width="0.65" />
<line x1="171.10" y1="765.00" x2="174.10" y2="765.00" stroke="#333" stroke-width="0.65" />
<text font-size="8.6" text-anchor="middle" textLength="86.00" lengthAdjust="spacing" transform="translate(15.60,736.70) rotate(-90)">Cellular consumption</text>
<text font-size="8.6" text-anchor="middle" textLength="101.20" lengthAdjust="spacing" transform="translate(25.60,737.10) rotate(-90)">in RPMI (fmol h<tspan font-size="5.8" dy="-3.4">−1</tspan><tspan dy="3.4"> per cell)</tspan></text>
<text x="232.80" y="664.40" font-size="12.0" font-weight="bold" fill="#000" style="stroke:#000;stroke-width:0.55px">h</text>
<text x="245.40" y="667.60" font-size="8.5" textLength="66.60" lengthAdjust="spacingAndGlyphs">CRISPRi cell line:</text>
<path d="M325.00,667.44 L332.20,667.44 L328.60,660.96 Z" fill="#666"/>
<text x="336.40" y="667.60" font-size="8.5" textLength="16.70" lengthAdjust="spacingAndGlyphs">NTC</text>
<circle cx="367.40" cy="664.30" r="2.6" fill="#e5a21a"/>
<text x="374.60" y="667.60" font-size="8.5" textLength="31.30" lengthAdjust="spacingAndGlyphs">SLC7A5</text>
<polygon points="261.40,684.66 266.45,689.53 271.50,694.35 276.55,699.12 281.60,703.83 286.65,708.48 291.70,713.03 296.75,717.50 301.80,721.85 306.85,726.09 311.90,730.20 316.95,734.18 322.00,738.04 327.05,741.79 332.10,745.42 337.15,748.96 342.20,752.42 347.25,755.80 352.30,759.12 357.35,762.40 362.40,765.63 362.40,794.93 357.35,790.07 352.30,785.24 347.25,780.47 342.20,775.76 337.15,771.12 332.10,766.56 327.05,762.10 322.00,757.74 316.95,753.51 311.90,749.39 306.85,745.41 301.80,741.55 296.75,737.81 291.70,734.17 286.65,730.63 281.60,727.18 276.55,723.79 271.50,720.47 266.45,717.20 261.40,713.96" fill="#d4d4d4"/>
<polygon points="261.40,690.16 266.45,692.52 271.50,694.86 276.55,697.20 281.60,699.52 286.65,701.83 291.70,704.13 296.75,706.41 301.80,708.66 306.85,710.90 311.90,713.11 316.95,715.29 322.00,717.46 327.05,719.60 332.10,721.72 337.15,723.82 342.20,725.91 347.25,727.98 352.30,730.04 357.35,732.09 362.40,734.14 362.40,739.87 357.35,737.52 352.30,735.17 347.25,732.84 342.20,730.51 337.15,728.20 332.10,725.91 327.05,723.63 322.00,721.37 316.95,719.14 311.90,716.93 306.85,714.74 301.80,712.58 296.75,710.44 291.70,708.32 286.65,706.21 281.60,704.13 276.55,702.05 271.50,699.99 266.45,697.94 261.40,695.90" fill="#cfcfcf"/>
<line x1="261.40" y1="699.49" x2="362.40" y2="777.14" stroke="#555" stroke-width="0.8" />
<line x1="261.40" y1="692.33" x2="362.40" y2="736.83" stroke="#e5a21a" stroke-width="1.0" />
<path d="M258.40,696.95 L264.40,696.95 L261.40,691.55 Z" fill="#6b6b6b"/>
<path d="M258.40,698.70 L264.40,698.70 L261.40,693.30 Z" fill="#6b6b6b"/>
<path d="M308.90,748.43 L314.90,748.43 L311.90,743.03 Z" fill="#6b6b6b"/>
<path d="M308.90,753.14 L314.90,753.14 L311.90,747.74 Z" fill="#6b6b6b"/>
<path d="M359.40,776.35 L365.40,776.35 L362.40,770.95 Z" fill="#6b6b6b"/>
<path d="M359.40,781.59 L365.40,781.59 L362.40,776.18 Z" fill="#6b6b6b"/>
<circle cx="261.40" cy="690.59" r="2.8" fill="#e5a21a"/>
<circle cx="311.90" cy="716.07" r="2.8" fill="#e5a21a"/>
<circle cx="362.40" cy="736.48" r="2.8" fill="#e5a21a"/>
<circle cx="362.40" cy="737.35" r="2.8" fill="#e5a21a"/>
<line x1="256.50" y1="678.00" x2="256.50" y2="802.50" stroke="#707070" stroke-width="0.75" />
<line x1="256.50" y1="802.50" x2="367.70" y2="802.50" stroke="#707070" stroke-width="0.75" />
<line x1="254.30" y1="791.10" x2="256.50" y2="791.10" stroke="#707070" stroke-width="0.75" />
<text x="251.70" y="793.55" font-size="7.4" text-anchor="end" textLength="4.61" lengthAdjust="spacingAndGlyphs">0</text>
<line x1="254.30" y1="756.20" x2="256.50" y2="756.20" stroke="#707070" stroke-width="0.75" />
<text x="251.70" y="758.65" font-size="7.4" text-anchor="end" textLength="4.61" lengthAdjust="spacingAndGlyphs">2</text>
<line x1="254.30" y1="721.30" x2="256.50" y2="721.30" stroke="#707070" stroke-width="0.75" />
<text x="251.70" y="723.75" font-size="7.4" text-anchor="end" textLength="4.61" lengthAdjust="spacingAndGlyphs">4</text>
<line x1="254.30" y1="686.40" x2="256.50" y2="686.40" stroke="#707070" stroke-width="0.75" />
<text x="251.70" y="688.85" font-size="7.4" text-anchor="end" textLength="4.61" lengthAdjust="spacingAndGlyphs">6</text>
<line x1="261.40" y1="802.50" x2="261.40" y2="804.50" stroke="#707070" stroke-width="0.75" />
<text x="261.40" y="814.40" font-size="7.4" text-anchor="middle" textLength="4.61" lengthAdjust="spacingAndGlyphs">0</text>
<line x1="281.60" y1="802.50" x2="281.60" y2="804.50" stroke="#707070" stroke-width="0.75" />
<text x="281.60" y="814.40" font-size="7.4" text-anchor="middle" textLength="11.52" lengthAdjust="spacingAndGlyphs">0.2</text>
<line x1="301.80" y1="802.50" x2="301.80" y2="804.50" stroke="#707070" stroke-width="0.75" />
<text x="301.80" y="814.40" font-size="7.4" text-anchor="middle" textLength="11.52" lengthAdjust="spacingAndGlyphs">0.4</text>
<line x1="322.00" y1="802.50" x2="322.00" y2="804.50" stroke="#707070" stroke-width="0.75" />
<text x="322.00" y="814.40" font-size="7.4" text-anchor="middle" textLength="11.52" lengthAdjust="spacingAndGlyphs">0.6</text>
<line x1="342.20" y1="802.50" x2="342.20" y2="804.50" stroke="#707070" stroke-width="0.75" />
<text x="342.20" y="814.40" font-size="7.4" text-anchor="middle" textLength="11.52" lengthAdjust="spacingAndGlyphs">0.8</text>
<line x1="362.40" y1="802.50" x2="362.40" y2="804.50" stroke="#707070" stroke-width="0.75" />
<text x="362.40" y="814.40" font-size="7.4" text-anchor="middle" textLength="11.52" lengthAdjust="spacingAndGlyphs">1.0</text>
<text x="312.90" y="827.40" font-size="8.5" text-anchor="middle" textLength="32.58" lengthAdjust="spacingAndGlyphs">Time (h)</text>
<text font-size="8.6" text-anchor="middle" textLength="92.70" lengthAdjust="spacing" transform="translate(239.60,738.00) rotate(-90)">Leucine in medium (µM)</text>
<text x="353.10" y="696.80" font-size="8.5" textLength="71.00" lengthAdjust="spacingAndGlyphs">Consumption rate</text>
<text x="353.10" y="707.00" font-size="8.5" textLength="71.40" lengthAdjust="spacingAndGlyphs">(fmol h<tspan font-size="5.6" dy="-3.2">−1</tspan><tspan dy="3.2"> per cell):</tspan></text>
<text x="373.10" y="741.00" font-size="8.5" textLength="45.80" lengthAdjust="spacingAndGlyphs">0.67 ± 0.06</text>
<text x="373.10" y="780.80" font-size="8.5" textLength="32.20" lengthAdjust="spacingAndGlyphs">1.7 ± 0.2</text>
<text x="457.90" y="664.90" font-size="12.0" font-weight="bold" fill="#000" style="stroke:#000;stroke-width:0.55px">i</text>
<text x="487.00" y="667.20" font-size="8.5" textLength="67.80" lengthAdjust="spacingAndGlyphs">CRISPRi cell line:</text>
<rect x="567.90" y="660.60" width="7.50" height="7.40" fill="#6a6a6a" />
<circle cx="571.65" cy="664.30" r="0.9" fill="#111"/>
<text x="579.60" y="667.20" font-size="8.5" textLength="16.60" lengthAdjust="spacingAndGlyphs">NTC</text>
<rect x="605.00" y="660.60" width="7.60" height="7.40" fill="#e8a005" />
<path d="M607.60,665.48 L610.00,665.48 L608.80,663.32 Z" fill="#111"/>
<text x="616.60" y="667.20" font-size="8.5" textLength="31.40" lengthAdjust="spacingAndGlyphs">SLC7A5</text>
<line x1="488.40" y1="683.60" x2="488.40" y2="806.50" stroke="#707070" stroke-width="0.75" />
<line x1="486.20" y1="708.28" x2="488.40" y2="708.28" stroke="#707070" stroke-width="0.75" />
<text x="483.00" y="710.73" font-size="7.4" text-anchor="end" textLength="11.52" lengthAdjust="spacingAndGlyphs">3.0</text>
<line x1="486.20" y1="763.38" x2="488.40" y2="763.38" stroke="#707070" stroke-width="0.75" />
<text x="483.00" y="765.83" font-size="7.4" text-anchor="end" textLength="11.52" lengthAdjust="spacingAndGlyphs">1.0</text>
<line x1="486.20" y1="789.48" x2="488.40" y2="789.48" stroke="#707070" stroke-width="0.75" />
<text x="483.00" y="791.93" font-size="7.4" text-anchor="end" textLength="11.52" lengthAdjust="spacingAndGlyphs">0.3</text>
<line x1="486.20" y1="801.30" x2="488.40" y2="801.30" stroke="#707070" stroke-width="0.75" />
<text x="483.00" y="803.75" font-size="7.4" text-anchor="end" textLength="4.61" lengthAdjust="spacingAndGlyphs">0</text>
<line x1="488.40" y1="806.50" x2="519.00" y2="806.50" stroke="#707070" stroke-width="0.75" />
<line x1="489.90" y1="801.30" x2="518.00" y2="801.30" stroke="#b8b8b8" stroke-width="0.6" stroke-dasharray="0.8,1.2"/>
<line x1="522.50" y1="806.50" x2="552.00" y2="806.50" stroke="#707070" stroke-width="0.75" />
<line x1="524.00" y1="801.30" x2="551.00" y2="801.30" stroke="#b8b8b8" stroke-width="0.6" stroke-dasharray="0.8,1.2"/>
<line x1="555.60" y1="806.50" x2="585.50" y2="806.50" stroke="#707070" stroke-width="0.75" />
<line x1="557.10" y1="801.30" x2="584.50" y2="801.30" stroke="#b8b8b8" stroke-width="0.6" stroke-dasharray="0.8,1.2"/>
<line x1="588.50" y1="806.50" x2="618.60" y2="806.50" stroke="#707070" stroke-width="0.75" />
<line x1="590.00" y1="801.30" x2="617.60" y2="801.30" stroke="#b8b8b8" stroke-width="0.6" stroke-dasharray="0.8,1.2"/>
<line x1="621.30" y1="806.50" x2="651.70" y2="806.50" stroke="#707070" stroke-width="0.75" />
<line x1="622.80" y1="801.30" x2="650.70" y2="801.30" stroke="#b8b8b8" stroke-width="0.6" stroke-dasharray="0.8,1.2"/>
<line x1="654.20" y1="806.50" x2="685.00" y2="806.50" stroke="#707070" stroke-width="0.75" />
<line x1="655.70" y1="801.30" x2="684.00" y2="801.30" stroke="#b8b8b8" stroke-width="0.6" stroke-dasharray="0.8,1.2"/>
<rect x="491.40" y="736.80" width="5.70" height="64.50" fill="#6a6a6a" />
<rect x="497.20" y="769.70" width="5.70" height="31.60" fill="#e8a005" />
<rect x="505.00" y="799.00" width="5.70" height="2.30" fill="#6a6a6a" />
<rect x="510.80" y="799.90" width="5.70" height="1.40" fill="#e8a005" />
<line x1="494.25" y1="734.30" x2="494.25" y2="739.30" stroke="#222" stroke-width="0.65" />
<line x1="492.95" y1="734.30" x2="495.55" y2="734.30" stroke="#222" stroke-width="0.65" />
<line x1="492.95" y1="739.30" x2="495.55" y2="739.30" stroke="#222" stroke-width="0.65" />
<circle cx="493.79" cy="742.45" r="0.95" fill="#111"/>
<circle cx="494.03" cy="725.09" r="0.95" fill="#111"/>
<circle cx="492.81" cy="730.13" r="0.95" fill="#111"/>
<circle cx="495.59" cy="737.92" r="0.95" fill="#111"/>
<circle cx="493.27" cy="726.98" r="0.95" fill="#111"/>
<circle cx="492.75" cy="748.04" r="0.95" fill="#111"/>
<circle cx="493.96" cy="741.32" r="0.95" fill="#111"/>
<line x1="500.05" y1="767.20" x2="500.05" y2="772.20" stroke="#222" stroke-width="0.65" />
<line x1="498.75" y1="767.20" x2="501.35" y2="767.20" stroke="#222" stroke-width="0.65" />
<line x1="498.75" y1="772.20" x2="501.35" y2="772.20" stroke="#222" stroke-width="0.65" />
<path d="M497.43,766.79 L499.73,766.79 L498.58,764.72 Z" fill="#111"/>
<path d="M497.41,775.93 L499.71,775.93 L498.56,773.86 Z" fill="#111"/>
<path d="M498.12,772.89 L500.42,772.89 L499.27,770.82 Z" fill="#111"/>
<path d="M499.69,772.56 L501.99,772.56 L500.84,770.49 Z" fill="#111"/>
<path d="M498.17,769.38 L500.47,769.38 L499.32,767.31 Z" fill="#111"/>
<path d="M500.36,769.29 L502.66,769.29 L501.51,767.22 Z" fill="#111"/>
<path d="M499.59,769.43 L501.89,769.43 L500.74,767.36 Z" fill="#111"/>
<line x1="507.85" y1="797.80" x2="507.85" y2="801.00" stroke="#222" stroke-width="0.65" />
<line x1="506.55" y1="797.80" x2="509.15" y2="797.80" stroke="#222" stroke-width="0.65" />
<line x1="506.55" y1="801.00" x2="509.15" y2="801.00" stroke="#222" stroke-width="0.65" />
<circle cx="507.26" cy="798.70" r="0.95" fill="#111"/>
<circle cx="508.67" cy="798.70" r="0.95" fill="#111"/>
<circle cx="509.18" cy="797.80" r="0.95" fill="#111"/>
<circle cx="506.33" cy="797.66" r="0.95" fill="#111"/>
<circle cx="507.00" cy="797.14" r="0.95" fill="#111"/>
<circle cx="509.30" cy="798.70" r="0.95" fill="#111"/>
<circle cx="507.49" cy="798.70" r="0.95" fill="#111"/>
<line x1="513.65" y1="798.70" x2="513.65" y2="801.00" stroke="#222" stroke-width="0.65" />
<line x1="512.35" y1="798.70" x2="514.95" y2="798.70" stroke="#222" stroke-width="0.65" />
<line x1="512.35" y1="801.00" x2="514.95" y2="801.00" stroke="#222" stroke-width="0.65" />
<path d="M512.48,800.58 L514.78,800.58 L513.63,798.51 Z" fill="#111"/>
<path d="M511.49,800.63 L513.79,800.63 L512.64,798.57 Z" fill="#111"/>
<path d="M513.37,799.77 L515.67,799.77 L514.52,797.70 Z" fill="#111"/>
<path d="M512.84,800.63 L515.14,800.63 L513.99,798.56 Z" fill="#111"/>
<path d="M512.06,800.63 L514.36,800.63 L513.21,798.57 Z" fill="#111"/>
<path d="M511.15,800.63 L513.45,800.63 L512.30,798.57 Z" fill="#111"/>
<path d="M511.11,800.63 L513.41,800.63 L512.26,798.57 Z" fill="#111"/>
<text x="503.60" y="682.80" font-size="8.5" text-anchor="middle" textLength="14.75" lengthAdjust="spacingAndGlyphs">Leu</text>
<line x1="496.90" y1="806.50" x2="496.90" y2="808.50" stroke="#707070" stroke-width="0.75" />
<line x1="510.70" y1="806.50" x2="510.70" y2="808.50" stroke="#707070" stroke-width="0.75" />
<line x1="495.40" y1="814.80" x2="498.40" y2="814.80" stroke="#222" stroke-width="0.8" />
<line x1="496.90" y1="813.30" x2="496.90" y2="816.30" stroke="#222" stroke-width="0.8" />
<line x1="509.20" y1="823.60" x2="512.20" y2="823.60" stroke="#222" stroke-width="0.8" />
<line x1="510.70" y1="822.10" x2="510.70" y2="825.10" stroke="#222" stroke-width="0.8" />
<rect x="524.45" y="784.10" width="5.70" height="17.20" fill="#6a6a6a" />
<rect x="530.25" y="794.60" width="5.70" height="6.70" fill="#e8a005" />
<rect x="538.05" y="763.90" width="5.70" height="37.40" fill="#6a6a6a" />
<rect x="543.85" y="786.20" width="5.70" height="15.10" fill="#e8a005" />
<line x1="527.30" y1="781.60" x2="527.30" y2="786.60" stroke="#222" stroke-width="0.65" />
<line x1="526.00" y1="781.60" x2="528.60" y2="781.60" stroke="#222" stroke-width="0.65" />
<line x1="526.00" y1="786.60" x2="528.60" y2="786.60" stroke="#222" stroke-width="0.65" />
<circle cx="527.47" cy="775.11" r="0.95" fill="#111"/>
<circle cx="528.53" cy="799.51" r="0.95" fill="#111"/>
<circle cx="526.55" cy="786.82" r="0.95" fill="#111"/>
<circle cx="527.30" cy="785.69" r="0.95" fill="#111"/>
<circle cx="527.97" cy="779.27" r="0.95" fill="#111"/>
<circle cx="527.03" cy="785.77" r="0.95" fill="#111"/>
<circle cx="527.68" cy="778.77" r="0.95" fill="#111"/>
<line x1="533.10" y1="792.10" x2="533.10" y2="797.10" stroke="#222" stroke-width="0.65" />
<line x1="531.80" y1="792.10" x2="534.40" y2="792.10" stroke="#222" stroke-width="0.65" />
<line x1="531.80" y1="797.10" x2="534.40" y2="797.10" stroke="#222" stroke-width="0.65" />
<path d="M533.06,791.95 L535.36,791.95 L534.21,789.88 Z" fill="#111"/>
<path d="M532.48,799.11 L534.78,799.11 L533.63,797.04 Z" fill="#111"/>
<path d="M531.29,798.94 L533.59,798.94 L532.44,796.87 Z" fill="#111"/>
<path d="M532.16,792.78 L534.46,792.78 L533.31,790.71 Z" fill="#111"/>
<path d="M530.99,798.57 L533.29,798.57 L532.14,796.50 Z" fill="#111"/>
<path d="M531.14,795.68 L533.44,795.68 L532.29,793.61 Z" fill="#111"/>
<path d="M533.18,797.08 L535.48,797.08 L534.33,795.01 Z" fill="#111"/>
<line x1="540.90" y1="761.40" x2="540.90" y2="766.40" stroke="#222" stroke-width="0.65" />
<line x1="539.60" y1="761.40" x2="542.20" y2="761.40" stroke="#222" stroke-width="0.65" />
<line x1="539.60" y1="766.40" x2="542.20" y2="766.40" stroke="#222" stroke-width="0.65" />
<circle cx="541.15" cy="762.28" r="0.95" fill="#111"/>
<circle cx="542.48" cy="767.02" r="0.95" fill="#111"/>
<circle cx="540.92" cy="764.64" r="0.95" fill="#111"/>
<circle cx="541.39" cy="770.22" r="0.95" fill="#111"/>
<circle cx="542.47" cy="767.08" r="0.95" fill="#111"/>
<circle cx="541.92" cy="766.28" r="0.95" fill="#111"/>
<circle cx="541.99" cy="764.76" r="0.95" fill="#111"/>
<line x1="546.70" y1="783.70" x2="546.70" y2="788.70" stroke="#222" stroke-width="0.65" />
<line x1="545.40" y1="783.70" x2="548.00" y2="783.70" stroke="#222" stroke-width="0.65" />
<line x1="545.40" y1="788.70" x2="548.00" y2="788.70" stroke="#222" stroke-width="0.65" />
<path d="M544.89,786.79 L547.19,786.79 L546.04,784.72 Z" fill="#111"/>
<path d="M544.33,790.22 L546.63,790.22 L545.48,788.15 Z" fill="#111"/>
<path d="M545.82,794.72 L548.12,794.72 L546.97,792.65 Z" fill="#111"/>
<path d="M546.93,783.06 L549.23,783.06 L548.08,780.99 Z" fill="#111"/>
<path d="M545.39,791.56 L547.69,791.56 L546.54,789.49 Z" fill="#111"/>
<path d="M544.78,788.49 L547.08,788.49 L545.93,786.42 Z" fill="#111"/>
<path d="M544.29,780.10 L546.59,780.10 L545.44,778.03 Z" fill="#111"/>
<text x="536.65" y="682.80" font-size="8.5" text-anchor="middle" textLength="15.73" lengthAdjust="spacingAndGlyphs">Phe</text>
<line x1="529.95" y1="806.50" x2="529.95" y2="808.50" stroke="#707070" stroke-width="0.75" />
<line x1="543.75" y1="806.50" x2="543.75" y2="808.50" stroke="#707070" stroke-width="0.75" />
<line x1="528.45" y1="814.80" x2="531.45" y2="814.80" stroke="#222" stroke-width="0.8" />
<line x1="529.95" y1="813.30" x2="529.95" y2="816.30" stroke="#222" stroke-width="0.8" />
<line x1="542.25" y1="823.60" x2="545.25" y2="823.60" stroke="#222" stroke-width="0.8" />
<line x1="543.75" y1="822.10" x2="543.75" y2="825.10" stroke="#222" stroke-width="0.8" />
<rect x="557.50" y="741.70" width="5.70" height="59.60" fill="#6a6a6a" />
<rect x="563.30" y="777.10" width="5.70" height="24.20" fill="#e8a005" />
<rect x="571.10" y="697.40" width="5.70" height="103.90" fill="#6a6a6a" />
<rect x="576.90" y="761.00" width="5.70" height="40.30" fill="#e8a005" />
<line x1="560.35" y1="739.20" x2="560.35" y2="744.20" stroke="#222" stroke-width="0.65" />
<line x1="559.05" y1="739.20" x2="561.65" y2="739.20" stroke="#222" stroke-width="0.65" />
<line x1="559.05" y1="744.20" x2="561.65" y2="744.20" stroke="#222" stroke-width="0.65" />
<circle cx="560.66" cy="738.12" r="0.95" fill="#111"/>
<circle cx="559.93" cy="738.34" r="0.95" fill="#111"/>
<circle cx="559.20" cy="743.23" r="0.95" fill="#111"/>
<circle cx="560.67" cy="746.85" r="0.95" fill="#111"/>
<circle cx="560.84" cy="742.01" r="0.95" fill="#111"/>
<circle cx="559.80" cy="742.71" r="0.95" fill="#111"/>
<circle cx="560.92" cy="744.10" r="0.95" fill="#111"/>
<line x1="566.15" y1="774.60" x2="566.15" y2="779.60" stroke="#222" stroke-width="0.65" />
<line x1="564.85" y1="774.60" x2="567.45" y2="774.60" stroke="#222" stroke-width="0.65" />
<line x1="564.85" y1="779.60" x2="567.45" y2="779.60" stroke="#222" stroke-width="0.65" />
<path d="M564.05,780.12 L566.35,780.12 L565.20,778.05 Z" fill="#111"/>
<path d="M565.94,777.27 L568.24,777.27 L567.09,775.20 Z" fill="#111"/>
<path d="M563.72,777.87 L566.02,777.87 L564.87,775.80 Z" fill="#111"/>
<path d="M564.66,774.74 L566.96,774.74 L565.81,772.67 Z" fill="#111"/>
<path d="M563.69,777.03 L565.99,777.03 L564.84,774.96 Z" fill="#111"/>
<path d="M563.92,777.27 L566.22,777.27 L565.07,775.20 Z" fill="#111"/>
<path d="M564.31,775.72 L566.61,775.72 L565.46,773.65 Z" fill="#111"/>
<line x1="573.95" y1="694.90" x2="573.95" y2="699.90" stroke="#222" stroke-width="0.65" />
<line x1="572.65" y1="694.90" x2="575.25" y2="694.90" stroke="#222" stroke-width="0.65" />
<line x1="572.65" y1="699.90" x2="575.25" y2="699.90" stroke="#222" stroke-width="0.65" />
<circle cx="573.33" cy="700.30" r="0.95" fill="#111"/>
<circle cx="574.16" cy="696.52" r="0.95" fill="#111"/>
<circle cx="573.49" cy="691.35" r="0.95" fill="#111"/>
<circle cx="575.54" cy="700.91" r="0.95" fill="#111"/>
<circle cx="573.51" cy="699.24" r="0.95" fill="#111"/>
<circle cx="573.00" cy="702.74" r="0.95" fill="#111"/>
<circle cx="572.37" cy="700.40" r="0.95" fill="#111"/>
<line x1="579.75" y1="758.50" x2="579.75" y2="763.50" stroke="#222" stroke-width="0.65" />
<line x1="578.45" y1="758.50" x2="581.05" y2="758.50" stroke="#222" stroke-width="0.65" />
<line x1="578.45" y1="763.50" x2="581.05" y2="763.50" stroke="#222" stroke-width="0.65" />
<path d="M579.63,760.21 L581.93,760.21 L580.78,758.14 Z" fill="#111"/>
<path d="M578.30,764.51 L580.60,764.51 L579.45,762.44 Z" fill="#111"/>
<path d="M577.52,759.80 L579.82,759.80 L578.67,757.73 Z" fill="#111"/>
<path d="M577.05,757.97 L579.35,757.97 L578.20,755.90 Z" fill="#111"/>
<path d="M579.91,760.67 L582.21,760.67 L581.06,758.60 Z" fill="#111"/>
<path d="M577.28,759.96 L579.58,759.96 L578.43,757.89 Z" fill="#111"/>
<path d="M578.61,760.03 L580.91,760.03 L579.76,757.96 Z" fill="#111"/>
<text x="569.70" y="682.80" font-size="8.5" text-anchor="middle" textLength="9.34" lengthAdjust="spacingAndGlyphs">Ile</text>
<line x1="563.00" y1="806.50" x2="563.00" y2="808.50" stroke="#707070" stroke-width="0.75" />
<line x1="576.80" y1="806.50" x2="576.80" y2="808.50" stroke="#707070" stroke-width="0.75" />
<line x1="561.50" y1="814.80" x2="564.50" y2="814.80" stroke="#222" stroke-width="0.8" />
<line x1="563.00" y1="813.30" x2="563.00" y2="816.30" stroke="#222" stroke-width="0.8" />
<line x1="575.30" y1="823.60" x2="578.30" y2="823.60" stroke="#222" stroke-width="0.8" />
<line x1="576.80" y1="822.10" x2="576.80" y2="825.10" stroke="#222" stroke-width="0.8" />
<rect x="590.55" y="775.70" width="5.70" height="25.60" fill="#6a6a6a" />
<rect x="596.35" y="791.90" width="5.70" height="9.40" fill="#e8a005" />
<rect x="604.15" y="750.60" width="5.70" height="50.70" fill="#6a6a6a" />
<rect x="609.95" y="773.80" width="5.70" height="27.50" fill="#e8a005" />
<line x1="593.40" y1="773.20" x2="593.40" y2="778.20" stroke="#222" stroke-width="0.65" />
<line x1="592.10" y1="773.20" x2="594.70" y2="773.20" stroke="#222" stroke-width="0.65" />
<line x1="592.10" y1="778.20" x2="594.70" y2="778.20" stroke="#222" stroke-width="0.65" />
<circle cx="592.27" cy="773.94" r="0.95" fill="#111"/>
<circle cx="594.76" cy="784.01" r="0.95" fill="#111"/>
<circle cx="592.15" cy="763.07" r="0.95" fill="#111"/>
<circle cx="594.89" cy="776.45" r="0.95" fill="#111"/>
<circle cx="592.43" cy="787.43" r="0.95" fill="#111"/>
<circle cx="594.92" cy="787.67" r="0.95" fill="#111"/>
<circle cx="593.34" cy="790.79" r="0.95" fill="#111"/>
<line x1="599.20" y1="789.40" x2="599.20" y2="794.40" stroke="#222" stroke-width="0.65" />
<line x1="597.90" y1="789.40" x2="600.50" y2="789.40" stroke="#222" stroke-width="0.65" />
<line x1="597.90" y1="794.40" x2="600.50" y2="794.40" stroke="#222" stroke-width="0.65" />
<path d="M597.69,794.81 L599.99,794.81 L598.84,792.74 Z" fill="#111"/>
<path d="M599.34,789.54 L601.64,789.54 L600.49,787.47 Z" fill="#111"/>
<path d="M596.96,789.73 L599.26,789.73 L598.11,787.66 Z" fill="#111"/>
<path d="M598.96,793.38 L601.26,793.38 L600.11,791.31 Z" fill="#111"/>
<path d="M599.16,795.44 L601.46,795.44 L600.31,793.37 Z" fill="#111"/>
<path d="M599.10,793.65 L601.40,793.65 L600.25,791.58 Z" fill="#111"/>
<path d="M597.73,794.54 L600.03,794.54 L598.88,792.47 Z" fill="#111"/>
<line x1="607.00" y1="748.10" x2="607.00" y2="753.10" stroke="#222" stroke-width="0.65" />
<line x1="605.70" y1="748.10" x2="608.30" y2="748.10" stroke="#222" stroke-width="0.65" />
<line x1="605.70" y1="753.10" x2="608.30" y2="753.10" stroke="#222" stroke-width="0.65" />
<circle cx="607.06" cy="749.27" r="0.95" fill="#111"/>
<circle cx="606.19" cy="751.80" r="0.95" fill="#111"/>
<circle cx="607.72" cy="751.41" r="0.95" fill="#111"/>
<circle cx="607.20" cy="749.99" r="0.95" fill="#111"/>
<circle cx="607.82" cy="757.09" r="0.95" fill="#111"/>
<circle cx="605.78" cy="752.19" r="0.95" fill="#111"/>
<circle cx="607.32" cy="745.93" r="0.95" fill="#111"/>
<line x1="612.80" y1="771.30" x2="612.80" y2="776.30" stroke="#222" stroke-width="0.65" />
<line x1="611.50" y1="771.30" x2="614.10" y2="771.30" stroke="#222" stroke-width="0.65" />
<line x1="611.50" y1="776.30" x2="614.10" y2="776.30" stroke="#222" stroke-width="0.65" />
<path d="M611.03,773.53 L613.33,773.53 L612.18,771.46 Z" fill="#111"/>
<path d="M611.39,772.09 L613.69,772.09 L612.54,770.02 Z" fill="#111"/>
<path d="M612.16,773.27 L614.46,773.27 L613.31,771.20 Z" fill="#111"/>
<path d="M611.48,774.23 L613.78,774.23 L612.63,772.16 Z" fill="#111"/>
<path d="M612.03,775.08 L614.33,775.08 L613.18,773.01 Z" fill="#111"/>
<path d="M611.62,775.31 L613.92,775.31 L612.77,773.24 Z" fill="#111"/>
<path d="M612.55,779.91 L614.85,779.91 L613.70,777.84 Z" fill="#111"/>
<text x="602.75" y="682.80" font-size="8.5" text-anchor="middle" textLength="12.28" lengthAdjust="spacingAndGlyphs">Tyr</text>
<line x1="596.05" y1="806.50" x2="596.05" y2="808.50" stroke="#707070" stroke-width="0.75" />
<line x1="609.85" y1="806.50" x2="609.85" y2="808.50" stroke="#707070" stroke-width="0.75" />
<line x1="594.55" y1="814.80" x2="597.55" y2="814.80" stroke="#222" stroke-width="0.8" />
<line x1="596.05" y1="813.30" x2="596.05" y2="816.30" stroke="#222" stroke-width="0.8" />
<line x1="608.35" y1="823.60" x2="611.35" y2="823.60" stroke="#222" stroke-width="0.8" />
<line x1="609.85" y1="822.10" x2="609.85" y2="825.10" stroke="#222" stroke-width="0.8" />
<rect x="623.60" y="777.10" width="5.70" height="24.20" fill="#6a6a6a" />
<rect x="629.40" y="794.40" width="5.70" height="6.90" fill="#e8a005" />
<rect x="637.20" y="745.20" width="5.70" height="56.10" fill="#6a6a6a" />
<rect x="643.00" y="780.40" width="5.70" height="20.90" fill="#e8a005" />
<line x1="626.45" y1="774.60" x2="626.45" y2="779.60" stroke="#222" stroke-width="0.65" />
<line x1="625.15" y1="774.60" x2="627.75" y2="774.60" stroke="#222" stroke-width="0.65" />
<line x1="625.15" y1="779.60" x2="627.75" y2="779.60" stroke="#222" stroke-width="0.65" />
<circle cx="626.32" cy="780.49" r="0.95" fill="#111"/>
<circle cx="625.19" cy="784.26" r="0.95" fill="#111"/>
<circle cx="625.26" cy="774.32" r="0.95" fill="#111"/>
<circle cx="626.26" cy="778.40" r="0.95" fill="#111"/>
<circle cx="626.48" cy="786.73" r="0.95" fill="#111"/>
<circle cx="625.11" cy="779.62" r="0.95" fill="#111"/>
<circle cx="627.20" cy="778.55" r="0.95" fill="#111"/>
<line x1="632.25" y1="791.90" x2="632.25" y2="796.90" stroke="#222" stroke-width="0.65" />
<line x1="630.95" y1="791.90" x2="633.55" y2="791.90" stroke="#222" stroke-width="0.65" />
<line x1="630.95" y1="796.90" x2="633.55" y2="796.90" stroke="#222" stroke-width="0.65" />
<path d="M629.67,792.49 L631.97,792.49 L630.82,790.42 Z" fill="#111"/>
<path d="M631.11,791.02 L633.41,791.02 L632.26,788.95 Z" fill="#111"/>
<path d="M629.94,799.70 L632.24,799.70 L631.09,797.63 Z" fill="#111"/>
<path d="M632.24,799.49 L634.54,799.49 L633.39,797.42 Z" fill="#111"/>
<path d="M632.11,795.34 L634.41,795.34 L633.26,793.27 Z" fill="#111"/>
<path d="M630.12,798.32 L632.42,798.32 L631.27,796.25 Z" fill="#111"/>
<path d="M632.56,795.10 L634.86,795.10 L633.71,793.03 Z" fill="#111"/>
<line x1="640.05" y1="742.70" x2="640.05" y2="747.70" stroke="#222" stroke-width="0.65" />
<line x1="638.75" y1="742.70" x2="641.35" y2="742.70" stroke="#222" stroke-width="0.65" />
<line x1="638.75" y1="747.70" x2="641.35" y2="747.70" stroke="#222" stroke-width="0.65" />
<circle cx="641.38" cy="748.34" r="0.95" fill="#111"/>
<circle cx="641.43" cy="750.51" r="0.95" fill="#111"/>
<circle cx="638.66" cy="741.72" r="0.95" fill="#111"/>
<circle cx="638.96" cy="749.94" r="0.95" fill="#111"/>
<circle cx="641.32" cy="744.19" r="0.95" fill="#111"/>
<circle cx="638.91" cy="751.56" r="0.95" fill="#111"/>
<circle cx="640.06" cy="747.30" r="0.95" fill="#111"/>
<line x1="645.85" y1="777.90" x2="645.85" y2="782.90" stroke="#222" stroke-width="0.65" />
<line x1="644.55" y1="777.90" x2="647.15" y2="777.90" stroke="#222" stroke-width="0.65" />
<line x1="644.55" y1="782.90" x2="647.15" y2="782.90" stroke="#222" stroke-width="0.65" />
<path d="M643.94,780.45 L646.24,780.45 L645.09,778.38 Z" fill="#111"/>
<path d="M644.72,781.09 L647.02,781.09 L645.87,779.02 Z" fill="#111"/>
<path d="M643.68,782.18 L645.98,782.18 L644.83,780.11 Z" fill="#111"/>
<path d="M643.62,785.61 L645.92,785.61 L644.77,783.54 Z" fill="#111"/>
<path d="M645.97,779.67 L648.27,779.67 L647.12,777.60 Z" fill="#111"/>
<path d="M643.64,781.76 L645.94,781.76 L644.79,779.69 Z" fill="#111"/>
<path d="M644.80,779.99 L647.10,779.99 L645.95,777.92 Z" fill="#111"/>
<text x="635.80" y="682.80" font-size="8.5" text-anchor="middle" textLength="12.12" lengthAdjust="spacingAndGlyphs">Val</text>
<line x1="629.10" y1="806.50" x2="629.10" y2="808.50" stroke="#707070" stroke-width="0.75" />
<line x1="642.90" y1="806.50" x2="642.90" y2="808.50" stroke="#707070" stroke-width="0.75" />
<line x1="627.60" y1="814.80" x2="630.60" y2="814.80" stroke="#222" stroke-width="0.8" />
<line x1="629.10" y1="813.30" x2="629.10" y2="816.30" stroke="#222" stroke-width="0.8" />
<line x1="641.40" y1="823.60" x2="644.40" y2="823.60" stroke="#222" stroke-width="0.8" />
<line x1="642.90" y1="822.10" x2="642.90" y2="825.10" stroke="#222" stroke-width="0.8" />
<rect x="656.65" y="781.90" width="5.70" height="19.40" fill="#6a6a6a" />
<rect x="662.45" y="781.50" width="5.70" height="19.80" fill="#e8a005" />
<rect x="670.25" y="764.50" width="5.70" height="36.80" fill="#6a6a6a" />
<rect x="676.05" y="756.80" width="5.70" height="44.50" fill="#e8a005" />
<line x1="659.50" y1="779.40" x2="659.50" y2="784.40" stroke="#222" stroke-width="0.65" />
<line x1="658.20" y1="779.40" x2="660.80" y2="779.40" stroke="#222" stroke-width="0.65" />
<line x1="658.20" y1="784.40" x2="660.80" y2="784.40" stroke="#222" stroke-width="0.65" />
<circle cx="659.94" cy="772.85" r="0.95" fill="#111"/>
<circle cx="659.68" cy="792.87" r="0.95" fill="#111"/>
<circle cx="659.76" cy="784.33" r="0.95" fill="#111"/>
<circle cx="661.08" cy="779.69" r="0.95" fill="#111"/>
<circle cx="659.92" cy="772.05" r="0.95" fill="#111"/>
<circle cx="658.75" cy="789.62" r="0.95" fill="#111"/>
<circle cx="661.07" cy="776.05" r="0.95" fill="#111"/>
<line x1="665.30" y1="779.00" x2="665.30" y2="784.00" stroke="#222" stroke-width="0.65" />
<line x1="664.00" y1="779.00" x2="666.60" y2="779.00" stroke="#222" stroke-width="0.65" />
<line x1="664.00" y1="784.00" x2="666.60" y2="784.00" stroke="#222" stroke-width="0.65" />
<path d="M665.00,781.43 L667.30,781.43 L666.15,779.36 Z" fill="#111"/>
<path d="M663.97,784.37 L666.27,784.37 L665.12,782.30 Z" fill="#111"/>
<path d="M662.70,786.23 L665.00,786.23 L663.85,784.16 Z" fill="#111"/>
<path d="M665.17,782.45 L667.47,782.45 L666.32,780.38 Z" fill="#111"/>
<path d="M665.70,786.10 L668.00,786.10 L666.85,784.03 Z" fill="#111"/>
<path d="M664.42,781.42 L666.72,781.42 L665.57,779.35 Z" fill="#111"/>
<path d="M662.56,780.68 L664.86,780.68 L663.71,778.61 Z" fill="#111"/>
<line x1="673.10" y1="762.00" x2="673.10" y2="767.00" stroke="#222" stroke-width="0.65" />
<line x1="671.80" y1="762.00" x2="674.40" y2="762.00" stroke="#222" stroke-width="0.65" />
<line x1="671.80" y1="767.00" x2="674.40" y2="767.00" stroke="#222" stroke-width="0.65" />
<circle cx="671.61" cy="767.36" r="0.95" fill="#111"/>
<circle cx="672.88" cy="768.41" r="0.95" fill="#111"/>
<circle cx="673.14" cy="765.98" r="0.95" fill="#111"/>
<circle cx="672.23" cy="763.36" r="0.95" fill="#111"/>
<circle cx="673.59" cy="764.75" r="0.95" fill="#111"/>
<circle cx="672.64" cy="764.54" r="0.95" fill="#111"/>
<circle cx="671.84" cy="762.94" r="0.95" fill="#111"/>
<line x1="678.90" y1="754.30" x2="678.90" y2="759.30" stroke="#222" stroke-width="0.65" />
<line x1="677.60" y1="754.30" x2="680.20" y2="754.30" stroke="#222" stroke-width="0.65" />
<line x1="677.60" y1="759.30" x2="680.20" y2="759.30" stroke="#222" stroke-width="0.65" />
<path d="M678.02,759.51 L680.32,759.51 L679.17,757.44 Z" fill="#111"/>
<path d="M678.04,759.03 L680.34,759.03 L679.19,756.96 Z" fill="#111"/>
<path d="M677.67,761.86 L679.97,761.86 L678.82,759.79 Z" fill="#111"/>
<path d="M676.58,759.90 L678.88,759.90 L677.73,757.83 Z" fill="#111"/>
<path d="M676.63,756.97 L678.93,756.97 L677.78,754.90 Z" fill="#111"/>
<path d="M676.46,753.91 L678.76,753.91 L677.61,751.84 Z" fill="#111"/>
<path d="M678.65,753.20 L680.95,753.20 L679.80,751.13 Z" fill="#111"/>
<text x="668.85" y="682.80" font-size="8.5" text-anchor="middle" textLength="12.77" lengthAdjust="spacingAndGlyphs">His</text>
<line x1="662.15" y1="806.50" x2="662.15" y2="808.50" stroke="#707070" stroke-width="0.75" />
<line x1="675.95" y1="806.50" x2="675.95" y2="808.50" stroke="#707070" stroke-width="0.75" />
<line x1="660.65" y1="814.80" x2="663.65" y2="814.80" stroke="#222" stroke-width="0.8" />
<line x1="662.15" y1="813.30" x2="662.15" y2="816.30" stroke="#222" stroke-width="0.8" />
<line x1="674.45" y1="823.60" x2="677.45" y2="823.60" stroke="#222" stroke-width="0.8" />
<line x1="675.95" y1="822.10" x2="675.95" y2="825.10" stroke="#222" stroke-width="0.8" />
<circle cx="494.90" cy="719.80" r="0.95" fill="#111"/>
<circle cx="493.30" cy="723.70" r="0.95" fill="#111"/>
<circle cx="527.80" cy="775.90" r="0.95" fill="#111"/>
<circle cx="560.70" cy="724.50" r="0.95" fill="#111"/>
<circle cx="559.70" cy="731.50" r="0.95" fill="#111"/>
<circle cx="573.10" cy="690.30" r="0.95" fill="#111"/>
<circle cx="593.90" cy="764.50" r="0.95" fill="#111"/>
<circle cx="627.10" cy="770.30" r="0.95" fill="#111"/>
<circle cx="660.50" cy="773.60" r="0.95" fill="#111"/>
<path d="M497.75,764.43 L500.05,764.43 L498.90,762.37 Z" fill="#111"/>
<path d="M530.55,790.03 L532.85,790.03 L531.70,787.97 Z" fill="#111"/>
<path d="M563.85,772.53 L566.15,772.53 L565.00,770.47 Z" fill="#111"/>
<path d="M579.25,753.24 L581.55,753.24 L580.40,751.17 Z" fill="#111"/>
<path d="M666.15,776.24 L668.45,776.24 L667.30,774.17 Z" fill="#111"/>
<text x="484.30" y="817.40" font-size="8.5" text-anchor="end" textLength="24.56" lengthAdjust="spacingAndGlyphs">RPMI:</text>
<text x="486.00" y="828.00" font-size="8.5" text-anchor="end" textLength="35.88" lengthAdjust="spacingAndGlyphs">Low Leu:</text>
<text font-size="8.6" text-anchor="middle" textLength="123.70" lengthAdjust="spacing" transform="translate(461.80,738.40) rotate(-90)">Intracellular level (fmol per cell)</text>
</svg></body></html>
